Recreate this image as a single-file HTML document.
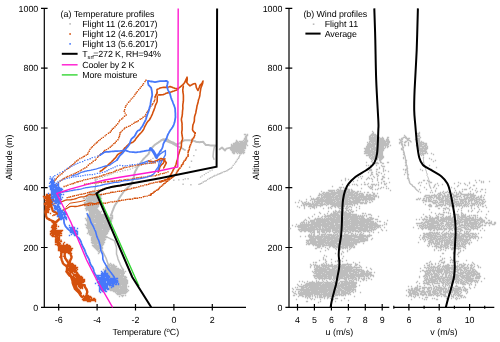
<!DOCTYPE html>
<html><head><meta charset="utf-8"><style>
html,body{margin:0;padding:0;background:#fff;width:500px;height:342px;overflow:hidden}
svg{display:block} text{text-rendering:geometricPrecision} svg{will-change:transform}
</style></head><body>
<svg width="500" height="342" viewBox="0 0 500 342">
<path d="M44.3 8.4V307.3 M41 307.3H246 M41 307.3H47.6 M41 247.5H47.6 M41 187.7H47.6 M41 128H47.6 M41 68.2H47.6 M41 8.4H47.6 M58.7 304V310.6 M97.1 304V310.6 M135.5 304V310.6 M173.9 304V310.6 M212.3 304V310.6" stroke="#000" stroke-width="1.2" fill="none"/>
<text x="38.3" y="310.5" text-anchor="end" font-family="'Liberation Sans', sans-serif" font-size="8.9">0</text>
<text x="38.3" y="250.7" text-anchor="end" font-family="'Liberation Sans', sans-serif" font-size="8.9">200</text>
<text x="38.3" y="190.9" text-anchor="end" font-family="'Liberation Sans', sans-serif" font-size="8.9">400</text>
<text x="38.3" y="131.2" text-anchor="end" font-family="'Liberation Sans', sans-serif" font-size="8.9">600</text>
<text x="38.3" y="71.4" text-anchor="end" font-family="'Liberation Sans', sans-serif" font-size="8.9">800</text>
<text x="38.3" y="11.6" text-anchor="end" font-family="'Liberation Sans', sans-serif" font-size="8.9">1000</text>
<text x="58.7" y="322.8" text-anchor="middle" font-family="'Liberation Sans', sans-serif" font-size="8.9">-6</text>
<text x="97.1" y="322.8" text-anchor="middle" font-family="'Liberation Sans', sans-serif" font-size="8.9">-4</text>
<text x="135.5" y="322.8" text-anchor="middle" font-family="'Liberation Sans', sans-serif" font-size="8.9">-2</text>
<text x="173.9" y="322.8" text-anchor="middle" font-family="'Liberation Sans', sans-serif" font-size="8.9">0</text>
<text x="212.3" y="322.8" text-anchor="middle" font-family="'Liberation Sans', sans-serif" font-size="8.9">2</text>
<text transform="translate(11.5 157.3) rotate(-90)" text-anchor="middle" font-family="'Liberation Sans', sans-serif" font-size="8.9">Altitude (m)</text>
<text x="145.8" y="334.5" text-anchor="middle" font-family="'Liberation Sans', sans-serif" font-size="8.9" letter-spacing="-0.09">Temperature (<tspan font-size="6" dy="-3">o</tspan><tspan dy="3">C)</tspan></text>
<path d="M289.0 8.4V307.3 M285.4 307.3H389.3 M393.3 307.3H494.3 M285.4 307.3H292.3 M285.4 247.5H292.3 M285.4 187.7H292.3 M285.4 128H292.3 M285.4 68.2H292.3 M285.4 8.4H292.3 M297.5 304V310.6 M314.4 304V310.6 M331.4 304V310.6 M348.4 304V310.6 M365.3 304V310.6 M382.2 304V310.6 M393.8 305.8V308.8 M408.9 304V310.6 M424.1 305.8V308.8 M439.2 304V310.6 M454.4 305.8V308.8 M469.6 304V310.6 M484.7 305.8V308.8" stroke="#000" stroke-width="1.2" fill="none"/>
<text x="282.4" y="310.5" text-anchor="end" font-family="'Liberation Sans', sans-serif" font-size="8.9">0</text>
<text x="282.4" y="250.7" text-anchor="end" font-family="'Liberation Sans', sans-serif" font-size="8.9">200</text>
<text x="282.4" y="190.9" text-anchor="end" font-family="'Liberation Sans', sans-serif" font-size="8.9">400</text>
<text x="282.4" y="131.2" text-anchor="end" font-family="'Liberation Sans', sans-serif" font-size="8.9">600</text>
<text x="282.4" y="71.4" text-anchor="end" font-family="'Liberation Sans', sans-serif" font-size="8.9">800</text>
<text x="282.4" y="11.6" text-anchor="end" font-family="'Liberation Sans', sans-serif" font-size="8.9">1000</text>
<text x="297.5" y="322.8" text-anchor="middle" font-family="'Liberation Sans', sans-serif" font-size="8.9">4</text>
<text x="314.4" y="322.8" text-anchor="middle" font-family="'Liberation Sans', sans-serif" font-size="8.9">5</text>
<text x="331.4" y="322.8" text-anchor="middle" font-family="'Liberation Sans', sans-serif" font-size="8.9">6</text>
<text x="348.4" y="322.8" text-anchor="middle" font-family="'Liberation Sans', sans-serif" font-size="8.9">7</text>
<text x="365.3" y="322.8" text-anchor="middle" font-family="'Liberation Sans', sans-serif" font-size="8.9">8</text>
<text x="382.2" y="322.8" text-anchor="middle" font-family="'Liberation Sans', sans-serif" font-size="8.9">9</text>
<text x="408.9" y="322.8" text-anchor="middle" font-family="'Liberation Sans', sans-serif" font-size="8.9">6</text>
<text x="439.2" y="322.8" text-anchor="middle" font-family="'Liberation Sans', sans-serif" font-size="8.9">8</text>
<text x="469.6" y="322.8" text-anchor="middle" font-family="'Liberation Sans', sans-serif" font-size="8.9">10</text>
<text transform="translate(258.6 157.3) rotate(-90)" text-anchor="middle" font-family="'Liberation Sans', sans-serif" font-size="8.9">Altitude (m)</text>
<text x="339.4" y="334.5" text-anchor="middle" font-family="'Liberation Sans', sans-serif" font-size="8.9">u (m/s)</text>
<text x="443.9" y="334.5" text-anchor="middle" font-family="'Liberation Sans', sans-serif" font-size="8.9">v (m/s)</text>
<path d="M93.8 190.8h1.4v1.4h-1.4zM89.8 191.8h7.4v1.4h-7.4zM88.8 192.8h10.4v1.4h-10.4zM87.8 193.8h14.4v1.4h-14.4zM86.8 194.8h1.4v1.4h-1.4zM89.8 194.8h12.4v1.4h-12.4zM85.8 195.8h15.4v1.4h-15.4zM85.8 196.8h1.4v1.4h-1.4zM87.8 196.8h13.4v1.4h-13.4zM82.8 197.8h2.4v1.4h-2.4zM85.8 197.8h16.4v1.4h-16.4zM84.8 198.8h1.4v1.4h-1.4zM86.8 198.8h12.4v1.4h-12.4zM85.8 199.8h13.4v1.4h-13.4zM85.8 200.8h6.4v1.4h-6.4zM92.8 200.8h5.4v1.4h-5.4zM83.8 201.8h2.4v1.4h-2.4zM86.8 201.8h12.4v1.4h-12.4zM83.8 202.8h15.4v1.4h-15.4zM85.8 203.8h13.4v1.4h-13.4zM84.8 204.8h14.4v1.4h-14.4zM85.8 205.8h13.4v1.4h-13.4zM85.8 206.8h12.4v1.4h-12.4zM84.8 207.8h12.4v1.4h-12.4zM85.8 208.8h12.4v1.4h-12.4zM85.8 209.8h1.4v1.4h-1.4zM87.8 209.8h11.4v1.4h-11.4zM88.8 210.8h11.4v1.4h-11.4zM100.8 210.8h1.4v1.4h-1.4zM88.8 211.8h12.4v1.4h-12.4zM88.8 212.8h12.4v1.4h-12.4zM87.8 213.8h7.4v1.4h-7.4zM95.8 213.8h10.4v1.4h-10.4zM86.8 214.8h21.4v1.4h-21.4zM110.8 214.8h2.4v1.4h-2.4zM86.8 215.8h21.4v1.4h-21.4zM111.8 215.8h1.4v1.4h-1.4zM86.8 216.8h26.4v1.4h-26.4zM84.8 217.8h1.4v1.4h-1.4zM86.8 217.8h7.4v1.4h-7.4zM94.8 217.8h18.4v1.4h-18.4zM85.8 218.8h18.4v1.4h-18.4zM104.8 218.8h4.4v1.4h-4.4zM109.8 218.8h2.4v1.4h-2.4zM85.8 219.8h26.4v1.4h-26.4zM86.8 220.8h25.4v1.4h-25.4zM86.8 221.8h24.4v1.4h-24.4zM86.8 222.8h7.4v1.4h-7.4zM95.8 222.8h7.4v1.4h-7.4zM103.8 222.8h7.4v1.4h-7.4zM84.8 223.8h1.4v1.4h-1.4zM86.8 223.8h24.4v1.4h-24.4zM85.8 224.8h24.4v1.4h-24.4zM86.8 225.8h23.4v1.4h-23.4zM85.8 226.8h8.4v1.4h-8.4zM94.8 226.8h15.4v1.4h-15.4zM86.8 227.8h23.4v1.4h-23.4zM87.8 228.8h1.4v1.4h-1.4zM89.8 228.8h5.4v1.4h-5.4zM95.8 228.8h6.4v1.4h-6.4zM102.8 228.8h7.4v1.4h-7.4zM87.8 229.8h21.4v1.4h-21.4zM87.8 230.8h21.4v1.4h-21.4zM87.8 231.8h20.4v1.4h-20.4zM86.8 232.8h1.4v1.4h-1.4zM88.8 232.8h19.4v1.4h-19.4zM88.8 233.8h18.4v1.4h-18.4zM89.8 234.8h16.4v1.4h-16.4zM91.8 235.8h14.4v1.4h-14.4zM90.8 236.8h16.4v1.4h-16.4zM90.8 237.8h14.4v1.4h-14.4zM90.8 238.8h15.4v1.4h-15.4zM90.8 239.8h14.4v1.4h-14.4zM91.8 240.8h12.4v1.4h-12.4zM90.8 241.8h14.4v1.4h-14.4zM91.8 242.8h12.4v1.4h-12.4zM93.8 243.8h3.4v1.4h-3.4zM97.8 243.8h6.4v1.4h-6.4zM91.8 244.8h11.4v1.4h-11.4zM92.8 245.8h9.4v1.4h-9.4zM93.8 246.8h9.4v1.4h-9.4zM94.8 247.8h8.4v1.4h-8.4zM95.8 248.8h3.4v1.4h-3.4zM99.8 248.8h1.4v1.4h-1.4zM96.8 249.8h1.4v1.4h-1.4zM98.8 249.8h3.4v1.4h-3.4zM97.8 250.8h2.4v1.4h-2.4zM98.8 251.8h1.4v1.4h-1.4zM97.8 252.8h1.4v1.4h-1.4zM109.8 262.8h1.4v1.4h-1.4zM107.8 263.8h2.4v1.4h-2.4zM110.8 263.8h1.4v1.4h-1.4zM112.8 263.8h1.4v1.4h-1.4zM105.8 264.8h9.4v1.4h-9.4zM105.8 265.8h4.4v1.4h-4.4zM110.8 265.8h6.4v1.4h-6.4zM104.8 266.8h11.4v1.4h-11.4zM104.8 267.8h14.4v1.4h-14.4zM121.8 267.8h1.4v1.4h-1.4zM102.8 268.8h1.4v1.4h-1.4zM104.8 268.8h16.4v1.4h-16.4zM122.8 268.8h1.4v1.4h-1.4zM103.8 269.8h19.4v1.4h-19.4zM103.8 270.8h20.4v1.4h-20.4zM124.8 270.8h1.4v1.4h-1.4zM103.8 271.8h20.4v1.4h-20.4zM104.8 272.8h19.4v1.4h-19.4zM103.8 273.8h1.4v1.4h-1.4zM105.8 273.8h14.4v1.4h-14.4zM120.8 273.8h3.4v1.4h-3.4zM106.8 274.8h17.4v1.4h-17.4zM105.8 275.8h20.4v1.4h-20.4zM105.8 276.8h2.4v1.4h-2.4zM108.8 276.8h14.4v1.4h-14.4zM123.8 276.8h3.4v1.4h-3.4zM104.8 277.8h21.4v1.4h-21.4zM104.8 278.8h22.4v1.4h-22.4zM105.8 279.8h22.4v1.4h-22.4zM106.8 280.8h1.4v1.4h-1.4zM108.8 280.8h4.4v1.4h-4.4zM114.8 280.8h13.4v1.4h-13.4zM106.8 281.8h5.4v1.4h-5.4zM112.8 281.8h15.4v1.4h-15.4zM106.8 282.8h10.4v1.4h-10.4zM117.8 282.8h10.4v1.4h-10.4zM106.8 283.8h20.4v1.4h-20.4zM106.8 284.8h1.4v1.4h-1.4zM108.8 284.8h1.4v1.4h-1.4zM110.8 284.8h10.4v1.4h-10.4zM121.8 284.8h5.4v1.4h-5.4zM108.8 285.8h18.4v1.4h-18.4zM127.8 285.8h1.4v1.4h-1.4zM108.8 286.8h18.4v1.4h-18.4zM108.8 287.8h10.4v1.4h-10.4zM119.8 287.8h7.4v1.4h-7.4zM108.8 288.8h19.4v1.4h-19.4zM109.8 289.8h17.4v1.4h-17.4zM127.8 289.8h1.4v1.4h-1.4zM112.8 290.8h15.4v1.4h-15.4zM114.8 291.8h1.4v1.4h-1.4zM116.8 291.8h10.4v1.4h-10.4zM115.8 292.8h10.4v1.4h-10.4zM116.8 293.8h4.4v1.4h-4.4zM120.8 294.8h3.4v1.4h-3.4zM124.8 294.8h1.4v1.4h-1.4zM118.8 295.8h1.4v1.4h-1.4zM121.8 295.8h1.4v1.4h-1.4z" fill="#bdbdbd"/>
<polyline points="100,247 103,252 106,258 108,264" stroke="#bdbdbd" stroke-width="1.6" fill="none" stroke-linejoin="round" stroke-linecap="round"/>
<polyline points="105.4,236.2 106.5,236.8 107.6,237.3 108.7,237.9 109.8,238.4 110.9,239 112.1,239.5 113.3,240.1 114.5,240.8 114.9,242.1 115.3,243.3 115.6,244.5 116,245.7 116.4,246.9 116.5,248.1 116.5,249.3 116.5,250.6 116.5,251.8 116.5,253 116.5,254.2 117,255.3 117.4,256.5 117.7,257.7 118,259 118.4,260.2 118.9,261.2 119.3,262.2 119.8,263.2 120.2,264.3 120.7,265.3 121.2,266.3 121.7,267.3 122.3,268.5 122.8,269.6 123.3,270.9 123.8,272.1 124.3,273.3" stroke="#bdbdbd" stroke-width="1.5" fill="none" stroke-linejoin="round" stroke-linecap="round"/>
<polyline points="95.8,177.5 95.8,183.5 95,190" stroke="#bdbdbd" stroke-width="1.3" fill="none" stroke-linejoin="round" stroke-linecap="round"/>
<polyline points="110.8,215.5 111.3,214.3 111.8,213.1 112.2,211.8 112.7,210.6 113.2,209.4 113.6,208.3 114,207.3 114.4,206.3 115,205.3 115.6,204.3 116.2,203.4 116.9,202.5 117.5,201.4 118.1,200.4 118.7,199.3 119.2,198.3 119.8,197.3 120.5,196.3 121.2,195.3 121.9,194.3 122.6,193.3 123.2,192.2 124.1,191.2 125,190.3 125.9,189.3 126.8,188.4 127.8,187.5 128.7,186.7 129.7,185.8 130.7,185 131.3,183.9 131.9,182.7 132.3,181.5 132.8,180.3 133.2,179.1 133.6,177.9 133.8,176.8 134.1,175.6 134.3,174.4 134.6,173.2 135,172.1 135.4,171 136.1,169.9 136.7,168.8 137.3,167.6 137.9,166.5 138.5,165.3 139.3,164.4 140.1,163.5 140.8,162.5 141.5,161.5 142.3,160.5 143.1,159.5 143.8,158.7 144.6,157.9 145.4,157.1 146.2,156.2 147.1,155.4 147.9,154.6 148.7,153.8 149,152.7 149.5,151.7 149.9,150.7 150.3,149.7 151.1,148.8 151.9,147.9 152.7,147 153.5,146.1 154.4,145.2 155.3,144.4 156.3,143.9 157.2,143.2 158.2,142.6 159.1,141.9 160,141.3 160.9,140.6 161.8,139.9 163,139.7 164.3,139.5 165.6,139.3 166.9,139.1 167.9,139.8 168.8,140.5 169.8,141.1 170.8,141.7 171.9,142.1 173,142.5 174,143 175,143.6 176,144.3 177.3,144 178.7,143.6 180,143.1 180.9,142.4 181.8,141.7 182.8,141.1 183.8,140.6 184.9,140.2 186.1,140.2 187.3,140.2 188.4,140.3 189.5,140.3 190.6,140.4 191.8,140.4 192.9,140.4 193.9,140.9 195,141.3 196,141.7 197.1,142 198.3,142.1 199.4,142.3 200.7,142 201.9,141.9 203.2,141.7 203.8,142.6 204.4,143.4 205.1,144.2 205.8,145 207.1,145 208.4,145.1 209.7,145.3 211,145.4 212.3,145.5 213.5,145.5 214.8,145.5 216,145.7" stroke="#bdbdbd" stroke-width="2.0" fill="none" stroke-linejoin="round" stroke-linecap="round"/>
<polyline points="163.1,139.3 164.3,139.9 165.5,140.5 166.7,141.2 167.9,141.7 169,142.2 170.2,142.6 171.3,143 172.4,143.5 173.5,144.2 174.5,144.7 175.5,145.3 176.5,145.9 177.6,146.3 178.7,146.6 179.8,147 180.9,147.6 181.9,148.2 182.9,148.8 184,149.5 185,150.1" stroke="#bdbdbd" stroke-width="1.8" fill="none" stroke-linejoin="round" stroke-linecap="round"/>
<path d="M94.3 179.5h1.3v1.3h-1.3zM96.6 178.6h1.3v1.3h-1.3zM99.2 177.6h1.3v1.3h-1.3zM101.9 176.8h1.3v1.3h-1.3zM104.1 175.7h1.3v1.3h-1.3zM106.6 175h1.3v1.3h-1.3zM108.3 174.1h1.3v1.3h-1.3zM110.4 173.5h1.3v1.3h-1.3zM112.4 172.4h1.3v1.3h-1.3zM114.4 171.7h1.3v1.3h-1.3zM116.7 171.4h1.3v1.3h-1.3zM119.6 170.9h1.3v1.3h-1.3zM122.1 170.3h1.3v1.3h-1.3zM124.5 169.7h1.3v1.3h-1.3zM127 169.2h1.3v1.3h-1.3zM129.6 168.5h1.3v1.3h-1.3zM132 167.5h1.3v1.3h-1.3zM134.5 166.8h1.3v1.3h-1.3zM136.3 165.9h1.3v1.3h-1.3zM138.5 165.2h1.3v1.3h-1.3zM140.5 164.2h1.3v1.3h-1.3zM142.2 163.1h1.3v1.3h-1.3zM144.4 162.2h1.3v1.3h-1.3zM146.3 161h1.3v1.3h-1.3zM148.2 160.1h1.3v1.3h-1.3zM150.2 158.9h1.3v1.3h-1.3zM152.3 157.7h1.3v1.3h-1.3zM154.3 156.2h1.3v1.3h-1.3zM156 154.9h1.3v1.3h-1.3zM157.8 153.8h1.3v1.3h-1.3zM159.4 152.8h1.3v1.3h-1.3zM161.3 151.1h1.3v1.3h-1.3z" fill="#bdbdbd"/>
<polyline points="214.5,146 213.5,151.3 213,156.6 214,159.2" stroke="#bdbdbd" stroke-width="1.5" fill="none" stroke-linejoin="round" stroke-linecap="round"/>
<polyline points="219.7,149.3 222,147.5 225,150.5 226.3,148.7 231.6,147.4 234,146" stroke="#bdbdbd" stroke-width="1.9" fill="none" stroke-linejoin="round" stroke-linecap="round"/>
<path d="M243.8 133.8h2.4v1.4h-2.4zM246.8 133.8h1.4v1.4h-1.4zM245.8 134.8h2.4v1.4h-2.4zM244.8 135.8h2.4v1.4h-2.4zM244.8 136.8h2.4v1.4h-2.4zM243.8 137.8h3.4v1.4h-3.4zM243.8 138.8h3.4v1.4h-3.4zM235.8 139.8h1.4v1.4h-1.4zM242.8 139.8h1.4v1.4h-1.4zM244.8 139.8h3.4v1.4h-3.4zM235.8 140.8h2.4v1.4h-2.4zM238.8 140.8h4.4v1.4h-4.4zM243.8 140.8h4.4v1.4h-4.4zM234.8 141.8h4.4v1.4h-4.4zM239.8 141.8h7.4v1.4h-7.4zM232.8 142.8h14.4v1.4h-14.4zM230.8 143.8h1.4v1.4h-1.4zM232.8 143.8h14.4v1.4h-14.4zM230.8 144.8h15.4v1.4h-15.4zM246.8 144.8h1.4v1.4h-1.4zM230.8 145.8h15.4v1.4h-15.4zM230.8 146.8h15.4v1.4h-15.4zM229.8 147.8h16.4v1.4h-16.4zM229.8 148.8h14.4v1.4h-14.4zM230.8 149.8h14.4v1.4h-14.4zM231.8 150.8h12.4v1.4h-12.4zM231.8 151.8h3.4v1.4h-3.4zM235.8 151.8h1.4v1.4h-1.4zM237.8 151.8h7.4v1.4h-7.4zM232.8 152.8h2.4v1.4h-2.4zM236.8 152.8h1.4v1.4h-1.4zM238.8 152.8h1.4v1.4h-1.4zM240.8 152.8h1.4v1.4h-1.4zM242.8 152.8h1.4v1.4h-1.4z" fill="#bdbdbd"/>
<path d="M240.7 151.7h1.4v1.4h-1.4zM239.9 153h1.4v1.4h-1.4zM239.1 154.7h1.4v1.4h-1.4zM238.5 156.1h1.4v1.4h-1.4zM237.8 157.5h1.4v1.4h-1.4zM236.7 158.8h1.4v1.4h-1.4zM235.8 160.4h1.4v1.4h-1.4zM234.9 161.6h1.4v1.4h-1.4zM233.9 163.2h1.4v1.4h-1.4zM232.5 164.7h1.4v1.4h-1.4zM231.5 166.4h1.4v1.4h-1.4zM230.5 167.6h1.4v1.4h-1.4zM228.9 168.3h1.4v1.4h-1.4zM227.5 169.1h1.4v1.4h-1.4zM226.2 170h1.4v1.4h-1.4zM224.7 170.7h1.4v1.4h-1.4zM223.3 171.1h1.4v1.4h-1.4zM221.5 171.8h1.4v1.4h-1.4zM220.1 172.5h1.4v1.4h-1.4zM218.9 173.1h1.4v1.4h-1.4zM217.3 173.6h1.4v1.4h-1.4zM216 174.4h1.4v1.4h-1.4zM214.3 174.8h1.4v1.4h-1.4zM213.1 175.6h1.4v1.4h-1.4zM211.6 176.3h1.4v1.4h-1.4zM210 177.1h1.4v1.4h-1.4zM208.7 177.8h1.4v1.4h-1.4zM206.9 178.7h1.4v1.4h-1.4zM205.7 179.9h1.4v1.4h-1.4zM204.2 180.6h1.4v1.4h-1.4zM202.6 181.3h1.4v1.4h-1.4zM201 182.5h1.4v1.4h-1.4zM199.6 183.1h1.4v1.4h-1.4zM198.2 183.7h1.4v1.4h-1.4z" fill="#bdbdbd"/>
<path d="M211.5 169.5h1.3v1.3h-1.3zM209.4 170.3h1.3v1.3h-1.3zM207.5 171.7h1.3v1.3h-1.3zM205.4 172.7h1.3v1.3h-1.3zM203.7 173.9h1.3v1.3h-1.3zM201.5 175.2h1.3v1.3h-1.3zM199.9 176.5h1.3v1.3h-1.3z" fill="#bdbdbd"/>
<path d="M160.3 181.4h1.4v1.4h-1.4zM168.5 179.3h1.4v1.4h-1.4zM173.1 179.5h1.4v1.4h-1.4zM178.1 179.2h1.4v1.4h-1.4zM182.6 178.9h1.4v1.4h-1.4zM187.4 178.1h1.4v1.4h-1.4zM190.2 184h1.4v1.4h-1.4zM182.4 183.6h1.4v1.4h-1.4zM184.6 178.2h1.4v1.4h-1.4zM186.6 172.1h1.4v1.4h-1.4zM188.9 166.5h1.4v1.4h-1.4zM190.8 160.6h1.4v1.4h-1.4zM193.1 154.9h1.4v1.4h-1.4zM195.2 149.3h1.4v1.4h-1.4z" fill="#bdbdbd"/>
<path d="M145.3 79.5h1.4v1.4h-1.4zM144.3 80.9h1.4v1.4h-1.4zM142.8 82.9h1.4v1.4h-1.4zM141.9 84.5h1.4v1.4h-1.4zM140.6 85.9h1.4v1.4h-1.4zM139.4 87.5h1.4v1.4h-1.4zM137.9 89h1.4v1.4h-1.4zM136.6 90.9h1.4v1.4h-1.4zM135.5 92.3h1.4v1.4h-1.4zM134.3 93.8h1.4v1.4h-1.4zM133.2 95.7h1.4v1.4h-1.4zM131.9 97.2h1.4v1.4h-1.4zM130.5 98.4h1.4v1.4h-1.4zM129.4 100.2h1.4v1.4h-1.4zM127.9 101.6h1.4v1.4h-1.4zM126.5 103.4h1.4v1.4h-1.4zM125.3 105h1.4v1.4h-1.4zM124.6 106.7h1.4v1.4h-1.4zM124 108.9h1.4v1.4h-1.4zM123.5 110.6h1.4v1.4h-1.4zM124.4 112.4h1.4v1.4h-1.4zM125.5 114.3h1.4v1.4h-1.4zM123.8 115.5h1.4v1.4h-1.4zM122.2 117.2h1.4v1.4h-1.4zM121 118.3h1.4v1.4h-1.4zM119.1 119.6h1.4v1.4h-1.4zM118.3 121.1h1.4v1.4h-1.4zM117 123h1.4v1.4h-1.4zM115.6 124.5h1.4v1.4h-1.4zM114.3 126.1h1.4v1.4h-1.4zM112.8 127.6h1.4v1.4h-1.4zM111.6 128.6h1.4v1.4h-1.4zM110.6 130.1h1.4v1.4h-1.4zM109.5 131.5h1.4v1.4h-1.4zM107.8 132.5h1.4v1.4h-1.4zM105.7 133.9h1.4v1.4h-1.4zM104.4 135.2h1.4v1.4h-1.4zM102.6 136.7h1.4v1.4h-1.4zM100.8 137.7h1.4v1.4h-1.4zM99.5 138.9h1.4v1.4h-1.4zM98 139.9h1.4v1.4h-1.4zM96.7 141.3h1.4v1.4h-1.4zM95.7 142.3h1.4v1.4h-1.4zM94.2 143.4h1.4v1.4h-1.4zM93 144.7h1.4v1.4h-1.4zM91.7 146.1h1.4v1.4h-1.4zM90.6 147.2h1.4v1.4h-1.4zM89.3 148.7h1.4v1.4h-1.4zM88.5 150.5h1.4v1.4h-1.4zM87.4 152.2h1.4v1.4h-1.4zM86.9 153.7h1.4v1.4h-1.4zM85.5 154.4h1.4v1.4h-1.4zM83.7 155.5h1.4v1.4h-1.4zM82.5 156.2h1.4v1.4h-1.4zM81 157.2h1.4v1.4h-1.4zM79.1 157.8h1.4v1.4h-1.4zM77.4 159.3h1.4v1.4h-1.4zM75.9 160.3h1.4v1.4h-1.4zM74.3 161.5h1.4v1.4h-1.4zM73.3 163h1.4v1.4h-1.4zM71.8 163.9h1.4v1.4h-1.4zM70.5 165.1h1.4v1.4h-1.4zM69.2 166.3h1.4v1.4h-1.4zM67.9 167.6h1.4v1.4h-1.4zM66.1 168.7h1.4v1.4h-1.4zM64.1 170.2h1.4v1.4h-1.4zM62.4 171.6h1.4v1.4h-1.4zM61.2 173.1h1.4v1.4h-1.4zM59.5 174.2h1.4v1.4h-1.4zM57.9 175.3h1.4v1.4h-1.4zM56.7 176.6h1.4v1.4h-1.4zM55.6 178h1.4v1.4h-1.4zM54.4 179.3h1.4v1.4h-1.4zM53.3 180.5h1.4v1.4h-1.4zM52.4 182.1h1.4v1.4h-1.4zM51.4 183.3h1.4v1.4h-1.4z" fill="#d4500c"/>
<path d="M156.3 92.2h1.4v1.4h-1.4zM155.1 94.4h1.4v1.4h-1.4zM154.5 96.4h1.4v1.4h-1.4zM154.2 98.4h1.4v1.4h-1.4zM153.8 99.9h1.4v1.4h-1.4zM153.3 101.1h1.4v1.4h-1.4zM152.2 102.9h1.4v1.4h-1.4zM151.5 104.1h1.4v1.4h-1.4zM150.1 105.7h1.4v1.4h-1.4zM149.2 107.2h1.4v1.4h-1.4zM148.1 108.9h1.4v1.4h-1.4zM147.2 110.5h1.4v1.4h-1.4zM146.2 111.7h1.4v1.4h-1.4zM145.1 113.8h1.4v1.4h-1.4zM144.3 115.5h1.4v1.4h-1.4zM142.4 116.5h1.4v1.4h-1.4zM141.1 117.9h1.4v1.4h-1.4zM139.5 118.6h1.4v1.4h-1.4zM137.6 120h1.4v1.4h-1.4zM136.1 121h1.4v1.4h-1.4zM134.4 121.6h1.4v1.4h-1.4zM133.1 122.7h1.4v1.4h-1.4zM131.3 123.7h1.4v1.4h-1.4zM129.6 124.9h1.4v1.4h-1.4zM128 125.7h1.4v1.4h-1.4zM125.9 126.6h1.4v1.4h-1.4zM124.1 127.3h1.4v1.4h-1.4zM123.3 128.4h1.4v1.4h-1.4zM121.7 129.8h1.4v1.4h-1.4zM120.4 131.2h1.4v1.4h-1.4zM119.4 132.1h1.4v1.4h-1.4zM119.2 133.8h1.4v1.4h-1.4zM118.7 135.6h1.4v1.4h-1.4zM118.1 137.1h1.4v1.4h-1.4zM117.2 139h1.4v1.4h-1.4zM115.6 140.5h1.4v1.4h-1.4zM114.5 142.1h1.4v1.4h-1.4zM113.1 142.9h1.4v1.4h-1.4zM111.8 144.4h1.4v1.4h-1.4zM110.7 145.4h1.4v1.4h-1.4zM109.5 146.5h1.4v1.4h-1.4zM107.7 147.8h1.4v1.4h-1.4zM105.8 148.9h1.4v1.4h-1.4zM104.1 149.8h1.4v1.4h-1.4zM103.1 150.7h1.4v1.4h-1.4zM102 152h1.4v1.4h-1.4zM100.4 153.1h1.4v1.4h-1.4zM99.3 154.3h1.4v1.4h-1.4zM97.8 155.4h1.4v1.4h-1.4zM96.9 156.7h1.4v1.4h-1.4zM95.4 158.4h1.4v1.4h-1.4zM94.5 159.7h1.4v1.4h-1.4zM92.5 160.5h1.4v1.4h-1.4zM91.1 162h1.4v1.4h-1.4zM89.2 163h1.4v1.4h-1.4zM87.6 164.5h1.4v1.4h-1.4zM86 166.3h1.4v1.4h-1.4zM84.2 167.3h1.4v1.4h-1.4zM82.7 168.2h1.4v1.4h-1.4zM80.8 169.3h1.4v1.4h-1.4zM79.5 170.2h1.4v1.4h-1.4zM77.5 171.1h1.4v1.4h-1.4zM75.8 171.9h1.4v1.4h-1.4zM74.4 172.7h1.4v1.4h-1.4zM72.7 173.4h1.4v1.4h-1.4zM70.6 174.3h1.4v1.4h-1.4zM69 175.2h1.4v1.4h-1.4zM67.1 175.8h1.4v1.4h-1.4zM65.7 176.5h1.4v1.4h-1.4zM63.8 177.5h1.4v1.4h-1.4zM62.4 178.3h1.4v1.4h-1.4zM60.8 179.4h1.4v1.4h-1.4zM59.4 180.4h1.4v1.4h-1.4zM57.8 181.9h1.4v1.4h-1.4zM56.7 183.7h1.4v1.4h-1.4zM55.5 185.1h1.4v1.4h-1.4z" fill="#d4500c"/>
<path d="M63.4 185.8h1.4v1.4h-1.4zM65.5 185.3h1.4v1.4h-1.4zM67.2 184.6h1.4v1.4h-1.4zM69.5 183.7h1.4v1.4h-1.4zM71.2 183.2h1.4v1.4h-1.4zM72.7 182.8h1.4v1.4h-1.4zM74.2 182h1.4v1.4h-1.4zM76.2 181.3h1.4v1.4h-1.4zM77.5 181h1.4v1.4h-1.4zM79.4 180.5h1.4v1.4h-1.4zM81.5 180h1.4v1.4h-1.4zM83.1 179.2h1.4v1.4h-1.4zM85.1 178.9h1.4v1.4h-1.4zM87.1 178.5h1.4v1.4h-1.4zM89.4 177.9h1.4v1.4h-1.4zM91.5 177.5h1.4v1.4h-1.4zM93.5 177h1.4v1.4h-1.4zM95.4 176.6h1.4v1.4h-1.4zM97.2 176.3h1.4v1.4h-1.4zM99.1 175.6h1.4v1.4h-1.4zM100.9 175.3h1.4v1.4h-1.4zM102.6 174.3h1.4v1.4h-1.4zM104.2 174h1.4v1.4h-1.4zM106.1 173.2h1.4v1.4h-1.4zM107.8 172.7h1.4v1.4h-1.4zM109.3 172.2h1.4v1.4h-1.4zM110.9 171.9h1.4v1.4h-1.4zM112.8 171.2h1.4v1.4h-1.4zM114.4 170.6h1.4v1.4h-1.4zM115.8 169.6h1.4v1.4h-1.4zM117.8 169.4h1.4v1.4h-1.4zM119.4 168.6h1.4v1.4h-1.4zM120.9 168.3h1.4v1.4h-1.4zM122.6 167.3h1.4v1.4h-1.4zM124.2 166.8h1.4v1.4h-1.4zM126.1 166.7h1.4v1.4h-1.4zM128.5 166.2h1.4v1.4h-1.4zM130.1 165.6h1.4v1.4h-1.4zM132.1 165.3h1.4v1.4h-1.4zM134.5 164.9h1.4v1.4h-1.4zM136.4 164.3h1.4v1.4h-1.4zM138.1 164h1.4v1.4h-1.4zM140.5 164.1h1.4v1.4h-1.4zM142.3 163.5h1.4v1.4h-1.4zM144.5 163.1h1.4v1.4h-1.4zM146.2 162.8h1.4v1.4h-1.4zM148.5 162.7h1.4v1.4h-1.4zM150.4 162.6h1.4v1.4h-1.4zM152.3 162.3h1.4v1.4h-1.4zM154.4 162h1.4v1.4h-1.4z" fill="#d4500c"/>
<path d="M66.5 196.9h1.4v1.4h-1.4zM68.3 196.5h1.4v1.4h-1.4zM69.9 196.1h1.4v1.4h-1.4zM72.1 195.5h1.4v1.4h-1.4zM73.7 195h1.4v1.4h-1.4zM75.8 194.7h1.4v1.4h-1.4zM77.5 194.3h1.4v1.4h-1.4zM79.4 193.7h1.4v1.4h-1.4zM81.1 193.5h1.4v1.4h-1.4zM83.2 193.1h1.4v1.4h-1.4zM84.8 192.7h1.4v1.4h-1.4zM86.9 192.1h1.4v1.4h-1.4zM88.6 191.6h1.4v1.4h-1.4zM90.3 191h1.4v1.4h-1.4zM92.3 190.5h1.4v1.4h-1.4zM94.1 190.4h1.4v1.4h-1.4zM96.4 189.9h1.4v1.4h-1.4zM98.2 189.4h1.4v1.4h-1.4zM100.5 188.9h1.4v1.4h-1.4zM102.2 188.3h1.4v1.4h-1.4zM104.2 187.7h1.4v1.4h-1.4zM106.1 187.6h1.4v1.4h-1.4zM108.4 187.2h1.4v1.4h-1.4zM110.1 186.5h1.4v1.4h-1.4zM112.3 186h1.4v1.4h-1.4zM114.2 185.8h1.4v1.4h-1.4zM116.3 185.7h1.4v1.4h-1.4zM118.3 185.3h1.4v1.4h-1.4zM120.3 185h1.4v1.4h-1.4zM122.2 184.4h1.4v1.4h-1.4zM124.5 184.4h1.4v1.4h-1.4z" fill="#d4500c"/>
<path d="M84.1 183.6h1.4v1.4h-1.4zM86 183.6h1.4v1.4h-1.4zM87.9 183.1h1.4v1.4h-1.4zM89.9 182.8h1.4v1.4h-1.4zM91.7 182.7h1.4v1.4h-1.4zM93.5 182.3h1.4v1.4h-1.4zM95.4 182.2h1.4v1.4h-1.4zM97.3 182h1.4v1.4h-1.4zM99.2 181.7h1.4v1.4h-1.4zM100.9 181.8h1.4v1.4h-1.4zM103.1 181.4h1.4v1.4h-1.4zM104.5 181.1h1.4v1.4h-1.4zM106.8 181.1h1.4v1.4h-1.4zM108.2 181.1h1.4v1.4h-1.4zM110.4 180.5h1.4v1.4h-1.4zM112 180.6h1.4v1.4h-1.4zM113.7 180.3h1.4v1.4h-1.4zM115.7 180.3h1.4v1.4h-1.4zM117.5 180h1.4v1.4h-1.4zM119.2 179.6h1.4v1.4h-1.4zM120.9 179.7h1.4v1.4h-1.4zM123.1 179.5h1.4v1.4h-1.4zM124.5 179.1h1.4v1.4h-1.4zM126.4 178.7h1.4v1.4h-1.4zM128.2 178.7h1.4v1.4h-1.4zM130.4 178.4h1.4v1.4h-1.4zM132 178.2h1.4v1.4h-1.4zM133.7 177.7h1.4v1.4h-1.4zM135.8 177.3h1.4v1.4h-1.4zM137.4 177h1.4v1.4h-1.4zM139.4 176.7h1.4v1.4h-1.4zM141 176.6h1.4v1.4h-1.4zM143.1 176.5h1.4v1.4h-1.4zM144.9 176.4h1.4v1.4h-1.4zM146.9 175.8h1.4v1.4h-1.4zM148.7 175.5h1.4v1.4h-1.4zM150.4 175.3h1.4v1.4h-1.4zM152.2 175.2h1.4v1.4h-1.4zM154.5 175.1h1.4v1.4h-1.4zM156 174.3h1.4v1.4h-1.4zM158.1 174h1.4v1.4h-1.4zM159.6 173.2h1.4v1.4h-1.4zM161.8 172.9h1.4v1.4h-1.4zM163.4 172.5h1.4v1.4h-1.4zM165.3 171.9h1.4v1.4h-1.4zM167.3 171.2h1.4v1.4h-1.4z" fill="#d4500c"/>
<path d="M99.5 193.9h1.4v1.4h-1.4zM101 193.7h1.4v1.4h-1.4zM103 193.6h1.4v1.4h-1.4zM104.7 193h1.4v1.4h-1.4zM106.4 192.7h1.4v1.4h-1.4zM108.3 192.5h1.4v1.4h-1.4zM110 191.8h1.4v1.4h-1.4zM111.6 191.6h1.4v1.4h-1.4zM113.2 191.5h1.4v1.4h-1.4zM115 191.2h1.4v1.4h-1.4zM116.9 190.7h1.4v1.4h-1.4zM118.7 190.6h1.4v1.4h-1.4zM120.6 190.5h1.4v1.4h-1.4zM122.3 189.9h1.4v1.4h-1.4zM124 189.7h1.4v1.4h-1.4zM125.9 189.2h1.4v1.4h-1.4zM127.3 188.6h1.4v1.4h-1.4zM129.2 188.4h1.4v1.4h-1.4zM130.8 187.8h1.4v1.4h-1.4zM132.7 187.3h1.4v1.4h-1.4zM134.3 187.1h1.4v1.4h-1.4zM136.1 186.7h1.4v1.4h-1.4zM138.2 186h1.4v1.4h-1.4zM140.1 185.3h1.4v1.4h-1.4zM142.3 185.1h1.4v1.4h-1.4zM144.2 184.2h1.4v1.4h-1.4zM146 184h1.4v1.4h-1.4zM147.9 183.6h1.4v1.4h-1.4zM149.4 182.8h1.4v1.4h-1.4zM151.3 182.5h1.4v1.4h-1.4zM153.1 182h1.4v1.4h-1.4zM155.2 181.6h1.4v1.4h-1.4zM156.8 181.4h1.4v1.4h-1.4zM158.6 180.8h1.4v1.4h-1.4zM160.5 180.2h1.4v1.4h-1.4zM161.8 180h1.4v1.4h-1.4zM163.7 179.2h1.4v1.4h-1.4zM165.2 178.7h1.4v1.4h-1.4zM167.1 178.1h1.4v1.4h-1.4zM168.8 177.7h1.4v1.4h-1.4zM170.5 176.8h1.4v1.4h-1.4zM172.5 176.2h1.4v1.4h-1.4z" fill="#d4500c"/>
<path d="M84.2 204.8h1.4v1.4h-1.4zM86.4 204.4h1.4v1.4h-1.4zM87.9 204.5h1.4v1.4h-1.4zM89.7 204.1h1.4v1.4h-1.4zM91.9 204h1.4v1.4h-1.4zM93.8 203.5h1.4v1.4h-1.4zM95.7 203.4h1.4v1.4h-1.4zM97.5 203.2h1.4v1.4h-1.4zM99.5 203h1.4v1.4h-1.4zM101 202.6h1.4v1.4h-1.4zM103 202.4h1.4v1.4h-1.4zM104.7 202.5h1.4v1.4h-1.4zM106.7 202.2h1.4v1.4h-1.4zM108.3 201.7h1.4v1.4h-1.4zM110.3 201.2h1.4v1.4h-1.4zM112.1 201.3h1.4v1.4h-1.4zM114.1 200.8h1.4v1.4h-1.4zM115.9 200.7h1.4v1.4h-1.4zM117.9 200.2h1.4v1.4h-1.4zM119.2 200.1h1.4v1.4h-1.4zM121 199.5h1.4v1.4h-1.4zM122.8 199.4h1.4v1.4h-1.4zM124.8 199.1h1.4v1.4h-1.4zM126.5 198.7h1.4v1.4h-1.4zM128.4 198.6h1.4v1.4h-1.4zM129.9 198.5h1.4v1.4h-1.4zM131.9 198.3h1.4v1.4h-1.4zM133.7 197.6h1.4v1.4h-1.4zM135.1 197.6h1.4v1.4h-1.4zM136.8 197.5h1.4v1.4h-1.4zM138.8 196.9h1.4v1.4h-1.4zM140.6 196.9h1.4v1.4h-1.4zM142.7 196.1h1.4v1.4h-1.4zM144.3 195.7h1.4v1.4h-1.4zM146.4 195.4h1.4v1.4h-1.4zM148.2 194.7h1.4v1.4h-1.4zM150.5 194.1h1.4v1.4h-1.4z" fill="#d4500c"/>
<path d="M194.3 132.3h1.6v1.6h-1.6zM193.9 134.3h1.6v1.6h-1.6zM193.5 135.9h1.6v1.6h-1.6zM192.8 137.1h1.6v1.6h-1.6zM191.7 138.3h1.6v1.6h-1.6zM191.1 139.6h1.6v1.6h-1.6zM191.1 140.8h1.6v1.6h-1.6zM190.4 142.2h1.6v1.6h-1.6zM189.8 144h1.6v1.6h-1.6zM189 145.6h1.6v1.6h-1.6zM188.7 147h1.6v1.6h-1.6zM188.4 148.8h1.6v1.6h-1.6zM187.6 150.1h1.6v1.6h-1.6zM187.3 151.8h1.6v1.6h-1.6zM187.3 153.9h1.6v1.6h-1.6zM187.2 155.4h1.6v1.6h-1.6zM185.8 156.7h1.6v1.6h-1.6zM185.3 157.9h1.6v1.6h-1.6zM184.5 159.3h1.6v1.6h-1.6zM183.2 160.4h1.6v1.6h-1.6zM182.5 161.9h1.6v1.6h-1.6zM182 163.4h1.6v1.6h-1.6zM180.9 164.2h1.6v1.6h-1.6zM180.5 165.6h1.6v1.6h-1.6zM179.1 167.3h1.6v1.6h-1.6zM178 168.5h1.6v1.6h-1.6zM177.4 169.6h1.6v1.6h-1.6zM176.5 170.6h1.6v1.6h-1.6zM175.8 172.2h1.6v1.6h-1.6zM175.1 173.4h1.6v1.6h-1.6zM174 174.5h1.6v1.6h-1.6zM173 175.3h1.6v1.6h-1.6zM171.5 176.3h1.6v1.6h-1.6zM170.6 177.3h1.6v1.6h-1.6zM169.1 178.4h1.6v1.6h-1.6zM168 178.9h1.6v1.6h-1.6zM166.7 180.3h1.6v1.6h-1.6zM165.4 181.1h1.6v1.6h-1.6zM164.2 182.4h1.6v1.6h-1.6zM163.1 183h1.6v1.6h-1.6zM161.9 184.2h1.6v1.6h-1.6zM160.7 185.5h1.6v1.6h-1.6zM159.2 186.5h1.6v1.6h-1.6zM158.3 187.7h1.6v1.6h-1.6zM157.4 188.7h1.6v1.6h-1.6zM155.9 189.5h1.6v1.6h-1.6zM154.4 190.5h1.6v1.6h-1.6zM153.2 191.3h1.6v1.6h-1.6zM152 192.4h1.6v1.6h-1.6zM150.4 193.1h1.6v1.6h-1.6zM149.4 194.4h1.6v1.6h-1.6z" fill="#d4500c"/>
<polyline points="157.3,96.2 157.3,97.4 157.2,98.5 157.2,99.7 157.2,100.8 157,102 156.5,103.1 155.9,104.3 155.4,105.4 155.1,106.6 154.8,107.8 154.3,109 153.9,110.2 153.4,111.3 152.9,112.5 152.5,113.7 152,114.9 151.5,115.9 151,117 150.5,118 149.9,119 149.3,120 148.4,120.8 147.6,121.7 147,122.6 146.4,123.6 145.9,124.7 145.3,125.7 144.8,126.7 144.3,127.7 143.9,128.8 143.2,130 142.5,131 141.7,132 140.8,133 139.9,133.9 139.1,134.7 138.4,135.6 137.7,136.4 137,137.3 136.3,138.1 135.6,139.1 135.1,140.1 134.2,141 133.3,141.9 132.2,142.6 130.9,143.1 129.7,143.7 128.6,144.3 127.7,145.2 126.8,146.1 125.9,147 124.9,147.8 124.2,148.8 123.5,149.8 122.8,150.9 122.1,151.8 121.1,152.6 120,153.2 118.9,153.8 118,154.4 117.2,155.3 116.5,156.3 115.9,157.2 115.1,158.1 114.3,158.9 113.5,159.8 112.6,160.6 111.8,161.5 111,162.3 110.1,163.1 109.2,163.9 108.4,164.7 107.5,165.5 106.7,166.3 105.8,167.1 104.9,167.9 104,168.6 103.1,169.3 102.2,170.1 101.2,170.8 100.2,171.3" stroke="#d4500c" stroke-width="1.6" fill="none" stroke-linejoin="round" stroke-linecap="round"/>
<polyline points="155,97 155.5,96 156,95 156.5,94 157.1,93 157.1,91.8 157,90.7 157,89.5 158,89.1 159,88.6 160,88 161.2,87.7 162.4,87.5 163.7,87.4 165,87.4 166.3,87.4 167.5,87.3 168.8,87 170,86.6 171.2,86.9 172.2,87.2 173.2,87.7 174.2,88.1 175.1,88.5 176.5,88.5 177.9,88.7 178.7,88.1 179.7,87.4 180.6,86.6 181.5,85.8 182.4,85 183.4,84.2 184.1,83.3 184.8,82.3 185.3,81.2 185.7,80.2 186.2,79.2 186.6,78.3 187.1,77.2 187.2,78.6 187.2,79.9 187,81.2 186.7,82.3 187.4,83.3 188.2,84.3 189.2,85.1 190,85.9 190.9,85.3 191.8,84.8 192.8,84.2 193.8,83.8 195.3,83.5 195.9,85 196.1,86.2 196.3,87.4 196.8,88.4 197.4,89.5 198,90.5 198.4,89.5 198.8,88.5 199.2,87.5 199.6,86.4 200,85.4 201,84.3 202,83.2 202.5,82.1 203,81 202.8,82.3 202.6,83.5 202.2,84.7 201.7,85.9 201.3,87 200.9,88.1 200.7,89.2 200.5,90.3 200.3,91.5 200.1,92.6 200,93.7 199.9,94.9 199.7,96.1 199.4,97.3 199,98.5 198.6,99.6 198.3,100.8 198.1,102 197.8,103.2 197.5,104.3 197.1,105.5 196.9,106.7 196.7,108 196.5,109.1 196.2,110.3 196,111.5 195.8,112.7 195.5,113.8 195.1,115 194.7,116.2 194.5,117.4 194.4,118.8 194.4,120.1 194.3,121.3 193.9,122.4 193.5,123.5 193,124.7 192.8,125.9 192.7,127.1 192.6,128.3 192.5,129.7 193,130.8 193.7,131.6 194.5,132.4 195.3,133.1" stroke="#d4500c" stroke-width="1.6" fill="none" stroke-linejoin="round" stroke-linecap="round"/>
<polyline points="158,95 159.3,94.9 160.7,94.9 162,94.8 163,94.7 164,94.3 165,93.9 166.1,93.3 167.4,92.9 168.6,92.6 169.9,92.4 170.9,92.1 171.9,91.7 172.9,91.3 174,91 175.1,90.6 176.1,90.2 177.1,89.7 178.1,89.1" stroke="#d4500c" stroke-width="1.6" fill="none" stroke-linejoin="round" stroke-linecap="round"/>
<polyline points="183.3,86 183.2,87.2 183,88.4 182.8,89.6 182.8,90.8 182.9,92 183.1,93.2 183.3,94.4 183.4,95.6 183.4,96.8 183.4,98 183.4,99.2 183.4,100.5 183.3,101.7 183.1,103 182.9,104.2 182.8,105.5 182.8,106.7 182.9,108 182.8,109.2 182.6,110.3 182.5,111.5 182.4,112.7 182.4,113.9 182.2,115 182.1,116.2 181.8,117.3 181.5,118.5 181.4,119.6 181.5,120.8 181.8,122 182,123.2 182.1,124.4 182,125.5 182.1,126.6 182.1,127.7 182.1,128.8 182.1,129.9 181.9,131 181.7,132.1 181.8,133.3 182,134.4 182.1,135.5 182.3,136.6 182.5,137.7 182.6,138.7 182.3,139.7 181.9,140.8 181.6,142 181.5,143.1 181.4,144.3 181.4,145.5 181.3,146.7 180.9,147.8 180.5,148.8 180,149.9 179.7,151 179.3,152.1 179,153.2 178.6,154.3 178.3,155.4 178,156.6 177.7,157.7 177.5,158.9 177.2,160 176.8,161.2 176.5,162.4 176.2,163.6 175.9,164.7 175.5,165.9 174.9,167 174.2,168 173.7,169.1 173.1,170.2 172.6,171.3 172,172.4 171.5,173.5 170.8,174.5 170.1,175.6 169.5,176.8 168.7,177.8 168,178.9 166.9,179.5 165.8,180.1 164.7,180.6 163.6,181 162.4,181.3 161.2,181.7 160,182.1" stroke="#d4500c" stroke-width="1.6" fill="none" stroke-linejoin="round" stroke-linecap="round"/>
<polyline points="159.8,160.8 160.9,160.5 162,160.2 163.1,160 164.1,159.5 164.9,158.7 164.5,159.8 164.2,161 163.8,162.2 163.2,163.3 162.2,164.2 161.3,165 160.5,166 159.8,167 159.5,168.3 159.1,169.6 158.7,170.9 158.2,172.1" stroke="#d4500c" stroke-width="1.6" fill="none" stroke-linejoin="round" stroke-linecap="round"/>
<polyline points="54.6,215.1 55.7,214.5 56.7,213.9 57.7,213.4 58.7,212.8 59.7,212.1 60.7,211.5 61.7,210.9 62.8,210.3 63.8,209.8 64.8,209.3 65.8,208.8 66.8,208.3 67.8,207.8 68.8,207.2 69.9,206.6 71.1,206.4 72.2,206.4 73.4,206.4 74.6,206.5 75.7,206.5 76.9,206.3 78,206.1 79.2,205.8 80.3,205.5 81.5,205.3 82.7,205 83.8,204.7 85,204.4 86.2,204.2 87.5,203.8 88.7,203.4 89.9,203.2 91.2,203.2 92.5,203.4 93.8,203.6 95.1,203.6 96.3,203.3 97.5,202.8 98.7,202.4 100,202.1" stroke="#d4500c" stroke-width="1.3" fill="none" stroke-linejoin="round" stroke-linecap="round"/>
<polyline points="52.7,204.5 53.8,204 54.8,203.6 55.8,203.1 56.8,202.7 57.9,202.2 59.1,202 60.3,201.9 61.5,201.7 62.6,201.3 63.8,200.8 64.9,200.4 66,200 67.1,199.9 68.3,199.9 69.5,199.9 70.7,199.8 71.8,199.5 72.9,199.3 74,199.1 75.1,198.8 76.3,198.5 77.5,198 78.7,197.5 80,197.1 81.1,196.9 82.3,196.8 83.5,196.8 84.6,196.6 85.8,196.2 86.8,195.6 87.9,195 89,194.6 90.2,194.5 91.5,194.7 92.7,194.8 93.9,194.7 95.1,194.5" stroke="#d4500c" stroke-width="1.3" fill="none" stroke-linejoin="round" stroke-linecap="round"/>
<polyline points="66,207 70,203.2 80,201.6 85,200.4" stroke="#d4500c" stroke-width="1.0" fill="none" stroke-linejoin="round" stroke-linecap="round"/>
<polyline points="61.2,253 61.3,254.2 61.2,255.5 61.2,256.8 61.3,258 61.6,259.3 62,260.6 62.5,261.8 62.9,263 63.7,264.1 64.9,265 66,265.7 66.8,266.6 67.1,267.7 67,269 66.9,270.3 67,271.4 67.7,272.4 68.8,273.3 69.9,274.2 70.6,275.2 71,276.3 71.3,277.4 71.7,278.5 72.1,279.6 72.5,280.7 72.7,282 72.8,283.3 73.2,284.4 73.6,285.6 74.1,286.7 74.5,287.8 75,288.9 75.8,289.7 76.7,290.5 77.6,291.3 78.3,292.1 79.1,293.1 79.8,294.2 80.5,295.3 81.3,296.3 82.3,297.1" stroke="#d4500c" stroke-width="2.4" fill="none" stroke-linejoin="round" stroke-linecap="round"/>
<polyline points="70,252.9 70.4,253.9 70.8,254.9 71.2,255.8 71.6,257 71.3,258.2 70.8,259.2 70.3,260.2 70,261.3 69.8,262.4 69.6,263.6 70.5,264.5 71.4,265.4 72.2,266.3 72.9,267.3 73.6,268.3 74.2,269.3 74.9,270.2 75.5,271.2 76.1,272.1 76.8,273.1 77.4,274 78.1,275 78.8,276.1 79.6,277.2 80.6,278.1 81.8,278.9 82,280.1 81.9,281.2 81.4,282.2 80.5,283 79.8,284.2 81.1,284.8 82.4,285 83.7,285.2 84.7,285.3 84.8,286.2 85.2,287.4 85.9,288.4 86.6,289.5 87,290.7 87.3,292.1 86.8,293.6 86.5,295 86.1,296.3" stroke="#d4500c" stroke-width="2.4" fill="none" stroke-linejoin="round" stroke-linecap="round"/>
<polyline points="57.8,244.2 58.7,244.9 59.9,245.3 61.1,245.7 62.1,246.3 62.7,247.3 63,248.6 63.4,249.8 64,250.8 64.7,251.7 65.3,252.2 64.9,253.1 64.7,254.2 64.7,255.5 64.9,256.7 65.1,258 65.7,258.9 66.3,259.9 66.9,260.8 67.6,261.7 68.1,262.7 68.7,263.7" stroke="#d4500c" stroke-width="2.4" fill="none" stroke-linejoin="round" stroke-linecap="round"/>
<polyline points="48.2,206.2 47.7,207.4 46.9,208.5 46.2,209.6 45.7,210.7 45.5,212 45.7,213.3 45.9,214.5 46.1,215.7 46.4,216.9 46.9,218.1 48,218.7 49.1,219.4 50.2,220 51.4,220.5 52.5,221 53.4,221.6 54,222.5 54.7,223.7 54.6,225.1 54.7,226.4 54.8,227.6 54.9,228.8 54.9,230 55.3,231.2 55.7,232.4 56.2,233.6 56.7,234.8 57.2,235.9 57.4,237.2 57.5,238.5 57.5,239.8 57.7,241.1 58.3,242.2" stroke="#d4500c" stroke-width="2.4" fill="none" stroke-linejoin="round" stroke-linecap="round"/>
<polyline points="51.2,205.9 51.6,207.2 52.1,208.5 52.5,209.8 52.9,211 54,211.7 55.2,212.2 56.4,212.8 57.6,213.5 58.2,214.7 58.8,215.6 59.4,216.6 60,218.2 58.9,219.5 58.1,220.3 57.2,221 56.4,221.8 55.4,222.4" stroke="#d4500c" stroke-width="2.4" fill="none" stroke-linejoin="round" stroke-linecap="round"/>
<polyline points="66.4,271.6 67.2,272.4 67.8,273.4 68.5,274.3 69.2,275.2 70.2,275.9 71.1,276.7 72,277.5 72.8,278.4 73.3,279.5 73.8,280.6 74.1,281.9 74.5,283.1 75,284.3 75.5,285.5 75.9,286.7 76.4,287.8 77.1,288.7 78,289.6 78.9,290.4 79.6,291.4 80.2,292.4 80.8,293.4" stroke="#d4500c" stroke-width="2.4" fill="none" stroke-linejoin="round" stroke-linecap="round"/>
<path d="M45.8 193.8h2.4v1.4h-2.4zM48.8 193.8h2.4v1.4h-2.4zM45.8 194.8h5.4v1.4h-5.4zM52.8 194.8h1.4v1.4h-1.4zM42.8 195.8h7.4v1.4h-7.4zM50.8 195.8h3.4v1.4h-3.4zM43.8 196.8h9.4v1.4h-9.4zM43.8 197.8h9.4v1.4h-9.4zM45.8 198.8h8.4v1.4h-8.4zM44.8 199.8h9.4v1.4h-9.4zM45.8 200.8h7.4v1.4h-7.4zM44.8 201.8h8.4v1.4h-8.4zM43.8 202.8h9.4v1.4h-9.4zM43.8 203.8h9.4v1.4h-9.4zM44.8 204.8h1.4v1.4h-1.4zM46.8 204.8h5.4v1.4h-5.4zM44.8 205.8h6.4v1.4h-6.4zM44.8 206.8h1.4v1.4h-1.4zM46.8 206.8h3.4v1.4h-3.4zM44.8 207.8h4.4v1.4h-4.4zM44.8 208.8h5.4v1.4h-5.4zM44.8 209.8h4.4v1.4h-4.4zM44.8 210.8h4.4v1.4h-4.4zM44.8 211.8h4.4v1.4h-4.4zM49.8 212.8h1.4v1.4h-1.4zM52.8 220.8h2.4v1.4h-2.4zM51.8 221.8h5.4v1.4h-5.4zM52.8 222.8h3.4v1.4h-3.4zM52.8 223.8h4.4v1.4h-4.4zM51.8 224.8h5.4v1.4h-5.4zM51.8 225.8h5.4v1.4h-5.4zM57.8 225.8h1.4v1.4h-1.4zM50.8 226.8h5.4v1.4h-5.4zM51.8 227.8h5.4v1.4h-5.4zM51.8 228.8h3.4v1.4h-3.4zM50.8 229.8h12.4v1.4h-12.4zM49.8 230.8h12.4v1.4h-12.4zM50.8 231.8h10.4v1.4h-10.4zM49.8 232.8h12.4v1.4h-12.4zM49.8 233.8h1.4v1.4h-1.4zM51.8 233.8h8.4v1.4h-8.4zM50.8 234.8h3.4v1.4h-3.4zM54.8 234.8h7.4v1.4h-7.4zM51.8 235.8h6.4v1.4h-6.4zM58.8 235.8h1.4v1.4h-1.4zM54.8 236.8h1.4v1.4h-1.4zM57.8 236.8h2.4v1.4h-2.4zM55.8 237.8h4.4v1.4h-4.4zM54.8 238.8h5.4v1.4h-5.4zM54.8 239.8h5.4v1.4h-5.4zM54.8 240.8h4.4v1.4h-4.4zM59.8 240.8h2.4v1.4h-2.4zM54.8 241.8h5.4v1.4h-5.4zM63.8 241.8h1.4v1.4h-1.4zM56.8 242.8h4.4v1.4h-4.4zM62.8 242.8h1.4v1.4h-1.4zM54.8 243.8h5.4v1.4h-5.4zM62.8 243.8h1.4v1.4h-1.4zM65.8 243.8h2.4v1.4h-2.4zM56.8 244.8h1.4v1.4h-1.4zM60.8 244.8h9.4v1.4h-9.4zM57.8 245.8h13.4v1.4h-13.4zM57.8 246.8h13.4v1.4h-13.4zM57.8 247.8h15.4v1.4h-15.4zM57.8 248.8h14.4v1.4h-14.4zM57.8 249.8h14.4v1.4h-14.4zM59.8 250.8h4.4v1.4h-4.4zM64.8 250.8h6.4v1.4h-6.4zM61.8 251.8h9.4v1.4h-9.4zM67.8 252.8h1.4v1.4h-1.4zM70.8 252.8h1.4v1.4h-1.4zM67.8 261.8h2.4v1.4h-2.4zM70.8 262.8h2.4v1.4h-2.4zM66.8 263.8h7.4v1.4h-7.4zM65.8 264.8h10.4v1.4h-10.4zM65.8 265.8h6.4v1.4h-6.4zM72.8 265.8h3.4v1.4h-3.4zM66.8 266.8h1.4v1.4h-1.4zM68.8 266.8h9.4v1.4h-9.4zM66.8 267.8h10.4v1.4h-10.4zM66.8 268.8h9.4v1.4h-9.4zM76.8 268.8h1.4v1.4h-1.4zM66.8 269.8h10.4v1.4h-10.4zM68.8 270.8h6.4v1.4h-6.4zM69.8 271.8h3.4v1.4h-3.4zM73.8 271.8h1.4v1.4h-1.4zM76.8 271.8h1.4v1.4h-1.4zM69.8 272.8h1.4v1.4h-1.4zM71.8 272.8h1.4v1.4h-1.4zM76.8 272.8h1.4v1.4h-1.4zM72.8 273.8h6.4v1.4h-6.4zM72.8 274.8h7.4v1.4h-7.4zM71.8 275.8h2.4v1.4h-2.4zM74.8 275.8h7.4v1.4h-7.4zM71.8 276.8h3.4v1.4h-3.4zM75.8 276.8h7.4v1.4h-7.4zM72.8 277.8h10.4v1.4h-10.4zM71.8 278.8h13.4v1.4h-13.4zM71.8 279.8h13.4v1.4h-13.4zM72.8 280.8h12.4v1.4h-12.4zM71.8 281.8h1.4v1.4h-1.4zM73.8 281.8h6.4v1.4h-6.4zM80.8 281.8h3.4v1.4h-3.4zM73.8 282.8h8.4v1.4h-8.4zM74.8 283.8h8.4v1.4h-8.4zM75.8 284.8h1.4v1.4h-1.4zM77.8 284.8h5.4v1.4h-5.4zM75.8 285.8h1.4v1.4h-1.4zM77.8 285.8h5.4v1.4h-5.4zM78.8 286.8h4.4v1.4h-4.4zM79.8 287.8h1.4v1.4h-1.4zM81.8 287.8h1.4v1.4h-1.4zM82.8 294.8h1.4v1.4h-1.4zM86.8 294.8h2.4v1.4h-2.4zM82.8 295.8h8.4v1.4h-8.4zM83.8 296.8h8.4v1.4h-8.4zM82.8 297.8h7.4v1.4h-7.4zM90.8 297.8h1.4v1.4h-1.4zM92.8 297.8h2.4v1.4h-2.4zM81.8 298.8h14.4v1.4h-14.4zM82.8 299.8h13.4v1.4h-13.4zM86.8 300.8h4.4v1.4h-4.4zM94.8 300.8h1.4v1.4h-1.4z" fill="#d4500c"/>
<path d="M68.3 269h1.3v1.3h-1.3zM62.6 255.7h1.3v1.3h-1.3zM46.2 200.4h1.3v1.3h-1.3zM67.4 267.9h1.3v1.3h-1.3zM58.7 246.9h1.3v1.3h-1.3zM70.5 263.5h1.3v1.3h-1.3zM80.1 282.3h1.3v1.3h-1.3zM50.8 205.3h1.3v1.3h-1.3zM55.9 240.3h1.3v1.3h-1.3zM53.9 232.1h1.3v1.3h-1.3zM51.4 221.1h1.3v1.3h-1.3zM52.2 214.9h1.3v1.3h-1.3zM59 256.5h1.3v1.3h-1.3zM57 230.9h1.3v1.3h-1.3zM53 224.8h1.3v1.3h-1.3zM54.1 232.4h1.3v1.3h-1.3zM80.4 287.2h1.3v1.3h-1.3zM67.1 259.4h1.3v1.3h-1.3zM77.8 283.4h1.3v1.3h-1.3zM72.3 273h1.3v1.3h-1.3zM53.3 214.1h1.3v1.3h-1.3zM70.4 271.6h1.3v1.3h-1.3zM48.4 218h1.3v1.3h-1.3zM60.4 239.6h1.3v1.3h-1.3zM80.2 286.8h1.3v1.3h-1.3zM64.6 252.8h1.3v1.3h-1.3zM57 237.2h1.3v1.3h-1.3zM51.2 225.5h1.3v1.3h-1.3zM55.2 238h1.3v1.3h-1.3zM78.6 285.2h1.3v1.3h-1.3z" fill="#d4500c"/>
<polyline points="117,160 117.7,158.9 118.4,157.8 119.1,156.7 119.8,155.7 120.7,154.8 121.6,154 122.5,153.1 123.3,152.3 124.1,151.3 124.8,150.4 125.5,149.3 126.2,148.3 127,147.4 127.9,146.5 128.6,145.5 129.3,144.4 129.8,143.2 130.2,142 130.6,140.8 131.1,139.7 131.8,138.6 132.8,137.8 133.8,137 134.6,136.1 135.3,135.1 135.8,133.9 136.4,132.8 137,131.8 137.8,130.8 138.9,130.3 139.9,129.9 140.5,128.9 141.1,127.9 141.8,127 142.5,126 143.1,125 143.6,123.9 144.2,122.8 144.8,121.6 145.4,120.5 145.9,119.3 146.3,118.1 146.6,116.9 147,115.7 147.4,114.5 147.8,113.3 148.3,112.1 148.7,110.9 149.1,109.7 149.3,108.5 149.6,107.3 150,106.1 150.4,105 150.5,103.7 150.7,102.5 150.9,101.2 151.1,100 151.4,98.7 151.7,97.5 152,96.3 152.2,95 152.1,93.8 152,92.6 151.9,91.4 151.7,90.3 151.4,89.1 151.2,87.9 150.3,86.9 149.4,85.9 148.5,85 148.2,83.7 147.9,82.3 147.9,80.8 149.2,81 150.3,81.3 151.5,81.5 152.7,81.7 153.8,81.9 155,82.1 156.3,81.8 157.5,81.6 158.8,81.4 160,81.2 161.1,81.2 162.2,81.2 163.3,81.1 164.5,81.1 165.6,81 166.7,81 167.9,82 167.6,83.3 167.3,84.7 166.9,86 167.2,87.2 167.5,88.3 167.8,89.5 168.3,90.6 168.9,91.6 169.5,92.7 170,93.8 170.3,94.9 170.6,96.1 170.9,97.3 171.3,98.4 171.7,99.6 172.2,100.7 172.7,101.8 173.1,103 173.5,104.1 174,105.2 174.4,106.4 174.8,107.5 175.1,108.7 175.2,110 175.2,111.2 175.3,112.3 175.4,113.5 175.4,114.7 175.4,115.9 175.5,117 175.3,118.2 175.1,119.4 174.9,120.7 174.7,121.9 174.3,122.9 174,124 173.6,125.1 173.2,126.1 172.5,127.2 171.8,128.2 171.1,129.2 170.3,130.2 169.8,131.2 169.2,132.1 168.7,133.1 168.1,134.1 167.7,135.1 167.3,136.1 166.9,137.4 166.4,138.7 165.8,139.9 165,141 164.2,142.1 163.6,143.3 163.2,144.6 162.9,146 162.6,147.1 162.2,148.1 161.7,149.1 161.1,150.1 160.3,151.1 159.6,152.1 159,153.2 158.3,154.1 157.7,155 157.1,155.8" stroke="#4678fa" stroke-width="1.8" fill="none" stroke-linejoin="round" stroke-linecap="round"/>
<polyline points="117.1,160.2 116.1,160.8 115.1,161.4 114,162 113,162.7 112,163.4 111.1,164.1 110.1,164.9 109,165.3 107.8,165.6 106.6,165.8 105.5,166 104.3,166.3 103.2,166.7 102.1,167.1 101,167.5 99.9,167.8 98.8,168.1 97.7,168.5 96.6,168.9 95.5,169.2 94.4,169.4 93.3,169.7 92.2,169.9 91.1,170.2 90,170.4 88.8,170.6 87.7,170.7 86.6,171 85.5,171.2 84.4,171.5 83.2,171.8 82.1,172.1 81,172.5 80,173 78.9,173.7 77.8,174.2 76.7,174.6 75.5,174.9 74.3,175.2 73.1,175.6 72,176" stroke="#4678fa" stroke-width="1.3" fill="none" stroke-linejoin="round" stroke-linecap="round"/>
<polyline points="100.2,154.9 101.4,154.3 102.5,153.5 103.6,152.7 104.9,152.1 106.2,151.9 107.5,151.8 108.8,151.8 110.1,151.6 111.3,151.5 112.5,151.4 113.8,151.3 115,151.2 116.3,151.2 117.5,151.1 118.8,151 120,151 121.2,150.8 122.5,150.6 123.8,150.3 125,150.2 126.3,150.6 127.5,151.1 128.7,151.5 130,151.9 131.2,152 132.5,152.1 133.8,152.2 135,152.4 136.2,152.3 137.5,152.1 138.7,152 139.9,151.9 141.3,151.6 142.6,151.4 143.9,151.2 145.2,150.9 146.6,150.7 147.9,150.5 149.1,150.1 150.3,149.6 151.5,149" stroke="#4678fa" stroke-width="1.7" fill="none" stroke-linejoin="round" stroke-linecap="round"/>
<polyline points="150.5,148.5 153,151 155.8,155.8 156.7,157.5" stroke="#4678fa" stroke-width="3.0" fill="none" stroke-linejoin="round" stroke-linecap="round"/>
<polyline points="156.7,157.5 160.2,154 165.4,150.5 165.4,154.9 161.9,161 159.3,166.3 158,170" stroke="#4678fa" stroke-width="1.4" fill="none" stroke-linejoin="round" stroke-linecap="round"/>
<polyline points="140,163.7 148.8,160.6" stroke="#4678fa" stroke-width="1.2" fill="none" stroke-linejoin="round" stroke-linecap="round"/>
<polyline points="148.8,161 153.2,161.9 157.5,160.2 161,158.4 163.7,159.3 166.3,162.8 163.7,168" stroke="#d4500c" stroke-width="1.6" fill="none" stroke-linejoin="round" stroke-linecap="round"/>
<path d="M99.5 154.7h1.3v1.3h-1.3zM97.1 155.5h1.3v1.3h-1.3zM94.3 156.5h1.3v1.3h-1.3zM91.6 157h1.3v1.3h-1.3zM89.5 158.1h1.3v1.3h-1.3zM87.1 158.9h1.3v1.3h-1.3zM84.1 159.7h1.3v1.3h-1.3zM82 161h1.3v1.3h-1.3zM79.3 161.8h1.3v1.3h-1.3zM77.1 162.8h1.3v1.3h-1.3zM75.2 163.4h1.3v1.3h-1.3zM73.3 164.4h1.3v1.3h-1.3zM71.3 165.4h1.3v1.3h-1.3zM69.2 166.3h1.3v1.3h-1.3zM66.8 167.7h1.3v1.3h-1.3zM64.5 169.5h1.3v1.3h-1.3zM62 171h1.3v1.3h-1.3zM59.3 172.3h1.3v1.3h-1.3zM56.9 173.8h1.3v1.3h-1.3zM54.2 175h1.3v1.3h-1.3zM52.8 176.3h1.3v1.3h-1.3zM51.5 177.6h1.3v1.3h-1.3z" fill="#4678fa"/>
<path d="M57.3 181.3h1.3v1.3h-1.3zM59.5 180.3h1.3v1.3h-1.3zM61.8 179.3h1.3v1.3h-1.3zM64.2 178.5h1.3v1.3h-1.3zM66.5 177.7h1.3v1.3h-1.3zM68.8 177.2h1.3v1.3h-1.3zM70.9 176.8h1.3v1.3h-1.3zM73.1 176.3h1.3v1.3h-1.3zM75.3 176h1.3v1.3h-1.3zM77.6 175.6h1.3v1.3h-1.3zM79.9 175.4h1.3v1.3h-1.3zM82.3 175h1.3v1.3h-1.3zM84.6 174.5h1.3v1.3h-1.3zM86.9 174.3h1.3v1.3h-1.3zM89.3 173.9h1.3v1.3h-1.3zM91.7 173.9h1.3v1.3h-1.3zM94.1 173.5h1.3v1.3h-1.3zM96.8 172.7h1.3v1.3h-1.3zM99.3 172.4h1.3v1.3h-1.3zM101.8 171.7h1.3v1.3h-1.3zM104.3 171.1h1.3v1.3h-1.3zM106.4 170.1h1.3v1.3h-1.3zM108.2 168.9h1.3v1.3h-1.3zM110.4 168h1.3v1.3h-1.3zM112.4 167.2h1.3v1.3h-1.3zM114.5 166.3h1.3v1.3h-1.3zM116.6 165.3h1.3v1.3h-1.3zM119.3 164.7h1.3v1.3h-1.3zM122 165.1h1.3v1.3h-1.3zM124.6 165.2h1.3v1.3h-1.3zM126.6 164.9h1.3v1.3h-1.3zM129.3 164.6h1.3v1.3h-1.3zM131.7 164.1h1.3v1.3h-1.3zM134.2 163.9h1.3v1.3h-1.3zM137.1 163.5h1.3v1.3h-1.3zM139.4 163.3h1.3v1.3h-1.3zM142 162.8h1.3v1.3h-1.3zM144.2 162.6h1.3v1.3h-1.3zM146.8 162.2h1.3v1.3h-1.3zM149.4 161.9h1.3v1.3h-1.3zM152.1 161.4h1.3v1.3h-1.3zM154.2 161.1h1.3v1.3h-1.3zM157 161h1.3v1.3h-1.3zM159.1 160.4h1.3v1.3h-1.3z" fill="#4678fa"/>
<polyline points="62,192.3 63.2,192.1 64.3,191.9 65.5,191.7 66.6,191.5 67.8,191.3 68.9,191.1 70.1,190.8 71.2,190.7 72.3,190.5 73.5,190.2 74.6,190 75.7,189.8 76.9,189.7 78,189.5 79.2,189.3 80.4,189.2 81.5,188.9 82.7,188.5 83.8,188.1 85,187.9 86.2,187.6 87.5,187.5 88.8,187.3 90,187.1 91.3,186.9 92.5,186.8 93.8,186.6 95,186.5 96.3,186.3 97.5,186 98.7,185.8 100,185.6 101.1,185.3 102.2,185 103.3,184.7 104.4,184.5 105.5,184.2 106.6,184.1 107.8,183.9 108.9,183.7 110,183.4 111.2,183.1 112.5,182.8 113.7,182.6 115,182.4 116.3,182.4 117.5,182.3 118.8,182.2 120,181.9 121.3,181.5 122.5,181.1 123.7,180.8 125,180.7 126.2,180.6 127.5,180.5 128.8,180.3 130,180.1 131.3,179.9 132.5,179.6 133.7,179.4 135,179.2 136.3,179.1 137.5,179.1 138.8,178.9 140,178.7 141.3,178.4 142.5,178.1 143.7,177.8 145,177.5 146.2,177.2 147.5,176.8 148.7,176.4 149.9,176.2 151,175.6 152.2,174.9 153.2,174.2 154.1,173.4 155,172.4 155.4,171.2 155.9,170.1 156.6,169.1 157.3,168.1 158.1,167.1 158.5,166 158.7,164.9 158.9,163.8 159.1,162.6 159.3,161.5 159.7,160.4" stroke="#4678fa" stroke-width="1.3" fill="none" stroke-linejoin="round" stroke-linecap="round"/>
<path d="M50.8 178.8h2.4v1.4h-2.4zM50.8 179.8h3.4v1.4h-3.4zM50.8 180.8h3.4v1.4h-3.4zM49.8 181.8h5.4v1.4h-5.4zM50.8 182.8h3.4v1.4h-3.4zM55.8 182.8h1.4v1.4h-1.4zM57.8 182.8h1.4v1.4h-1.4zM50.8 183.8h5.4v1.4h-5.4zM56.8 183.8h2.4v1.4h-2.4zM49.8 184.8h6.4v1.4h-6.4zM56.8 184.8h2.4v1.4h-2.4zM48.8 185.8h8.4v1.4h-8.4zM57.8 185.8h1.4v1.4h-1.4zM49.8 186.8h2.4v1.4h-2.4zM52.8 186.8h7.4v1.4h-7.4zM49.8 187.8h4.4v1.4h-4.4zM54.8 187.8h7.4v1.4h-7.4zM49.8 188.8h13.4v1.4h-13.4zM50.8 189.8h11.4v1.4h-11.4zM50.8 190.8h10.4v1.4h-10.4zM50.8 191.8h10.4v1.4h-10.4zM47.8 192.8h1.4v1.4h-1.4zM50.8 192.8h10.4v1.4h-10.4zM50.8 193.8h11.4v1.4h-11.4zM62.8 193.8h1.4v1.4h-1.4zM50.8 194.8h1.4v1.4h-1.4zM52.8 194.8h7.4v1.4h-7.4zM50.8 195.8h1.4v1.4h-1.4zM52.8 195.8h8.4v1.4h-8.4zM51.8 196.8h7.4v1.4h-7.4zM59.8 196.8h1.4v1.4h-1.4zM61.8 196.8h1.4v1.4h-1.4zM50.8 197.8h3.4v1.4h-3.4zM54.8 197.8h4.4v1.4h-4.4zM59.8 197.8h1.4v1.4h-1.4zM54.8 198.8h5.4v1.4h-5.4zM60.8 198.8h1.4v1.4h-1.4zM51.8 199.8h1.4v1.4h-1.4zM53.8 199.8h7.4v1.4h-7.4zM52.8 200.8h7.4v1.4h-7.4zM54.8 201.8h5.4v1.4h-5.4zM51.8 202.8h1.4v1.4h-1.4zM55.8 202.8h1.4v1.4h-1.4zM57.8 202.8h1.4v1.4h-1.4zM59.8 202.8h1.4v1.4h-1.4zM57.8 203.8h1.4v1.4h-1.4zM52.8 204.8h3.4v1.4h-3.4zM56.8 204.8h2.4v1.4h-2.4zM53.8 205.8h6.4v1.4h-6.4zM53.8 206.8h6.4v1.4h-6.4zM53.8 207.8h4.4v1.4h-4.4zM58.8 207.8h2.4v1.4h-2.4zM54.8 208.8h6.4v1.4h-6.4zM53.8 209.8h1.4v1.4h-1.4zM56.8 209.8h6.4v1.4h-6.4zM56.8 210.8h6.4v1.4h-6.4zM63.8 210.8h1.4v1.4h-1.4zM57.8 211.8h8.4v1.4h-8.4zM57.8 212.8h4.4v1.4h-4.4zM62.8 212.8h4.4v1.4h-4.4zM57.8 213.8h9.4v1.4h-9.4zM56.8 214.8h6.4v1.4h-6.4zM63.8 214.8h1.4v1.4h-1.4zM56.8 215.8h1.4v1.4h-1.4zM58.8 215.8h4.4v1.4h-4.4zM63.8 215.8h2.4v1.4h-2.4zM58.8 216.8h8.4v1.4h-8.4zM59.8 217.8h4.4v1.4h-4.4zM64.8 217.8h2.4v1.4h-2.4zM59.8 218.8h2.4v1.4h-2.4zM65.8 218.8h1.4v1.4h-1.4zM68.8 224.8h1.4v1.4h-1.4zM71.8 225.8h1.4v1.4h-1.4zM68.8 226.8h6.4v1.4h-6.4zM66.8 227.8h1.4v1.4h-1.4zM69.8 227.8h5.4v1.4h-5.4zM76.8 227.8h1.4v1.4h-1.4zM69.8 228.8h5.4v1.4h-5.4zM70.8 229.8h6.4v1.4h-6.4zM69.8 230.8h8.4v1.4h-8.4zM69.8 231.8h6.4v1.4h-6.4zM76.8 231.8h1.4v1.4h-1.4zM72.8 232.8h5.4v1.4h-5.4zM70.8 233.8h1.4v1.4h-1.4zM73.8 233.8h4.4v1.4h-4.4zM68.8 234.8h1.4v1.4h-1.4zM73.8 234.8h1.4v1.4h-1.4zM104.8 269.8h1.4v1.4h-1.4zM100.8 270.8h1.4v1.4h-1.4zM103.8 270.8h2.4v1.4h-2.4zM101.8 271.8h1.4v1.4h-1.4zM103.8 271.8h2.4v1.4h-2.4zM100.8 272.8h7.4v1.4h-7.4zM100.8 273.8h7.4v1.4h-7.4zM96.8 274.8h12.4v1.4h-12.4zM97.8 275.8h1.4v1.4h-1.4zM100.8 275.8h9.4v1.4h-9.4zM112.8 275.8h1.4v1.4h-1.4zM96.8 276.8h8.4v1.4h-8.4zM105.8 276.8h4.4v1.4h-4.4zM96.8 277.8h12.4v1.4h-12.4zM109.8 277.8h5.4v1.4h-5.4zM115.8 277.8h2.4v1.4h-2.4zM95.8 278.8h20.4v1.4h-20.4zM98.8 279.8h19.4v1.4h-19.4zM96.8 280.8h9.4v1.4h-9.4zM106.8 280.8h11.4v1.4h-11.4zM96.8 281.8h9.4v1.4h-9.4zM106.8 281.8h11.4v1.4h-11.4zM94.8 282.8h1.4v1.4h-1.4zM97.8 282.8h17.4v1.4h-17.4zM115.8 282.8h1.4v1.4h-1.4zM117.8 282.8h1.4v1.4h-1.4zM98.8 283.8h12.4v1.4h-12.4zM111.8 283.8h2.4v1.4h-2.4zM114.8 283.8h2.4v1.4h-2.4zM117.8 283.8h1.4v1.4h-1.4zM97.8 284.8h10.4v1.4h-10.4zM108.8 284.8h5.4v1.4h-5.4zM98.8 285.8h9.4v1.4h-9.4zM111.8 285.8h2.4v1.4h-2.4zM98.8 286.8h9.4v1.4h-9.4zM110.8 286.8h1.4v1.4h-1.4zM98.8 287.8h10.4v1.4h-10.4zM98.8 288.8h7.4v1.4h-7.4zM106.8 288.8h2.4v1.4h-2.4zM98.8 289.8h1.4v1.4h-1.4zM100.8 289.8h5.4v1.4h-5.4zM98.8 290.8h1.4v1.4h-1.4zM101.8 290.8h2.4v1.4h-2.4zM104.8 290.8h2.4v1.4h-2.4zM99.8 291.8h1.4v1.4h-1.4z" fill="#4678fa"/>
<polyline points="63.5,218.8 63.9,220 64,221.3 64.1,222.7 64.4,223.9 65,225.1 65.5,226.3 66.4,227.3 67.2,228.3 68.1,229.2 69.1,230.1 70.1,230.9 71.1,231.4 72.1,232 73,232.8 73.9,233.6 74.8,234.3 75.6,235 76.4,235.8 77.2,236.6 78,237.4 78.9,238.1 79.5,239 80.1,240 80.6,240.9 81.1,242 81.4,243 81.8,244.1 82.3,245.3 82.8,246.5 83.5,247.7 84.1,248.8 84.7,250 85.1,251.2 85.5,252.3 86,253.5 86.4,254.6 87,255.7 87.6,256.8 88.2,257.9 88.8,259 89.3,260.2 89.6,261.5 90,262.7 90.4,263.9 91,265 91.7,266.1 92.5,267.1 93.1,268.3 93.5,269.5 93.8,270.7 94.1,272 94.5,273 95,274 95.7,274.9 96.3,275.9 96.9,276.8 97.3,277.8" stroke="#4678fa" stroke-width="1.8" fill="none" stroke-linejoin="round" stroke-linecap="round"/>
<polyline points="87.1,213.7 87.7,214.8 88.3,215.8 88.9,216.9 89.5,217.9 89.9,219.1 90.3,220.3 90.7,221.5 91.1,222.7 91.7,223.8 92.4,224.9 93,226 93.6,227.2 94.1,228.3 94.6,229.5 95.2,230.7 95.7,231.9 96,233.1 96.3,234.2 96.6,235.4 96.9,236.6 97.4,237.6 97.9,238.8 98.5,239.9 98.9,241.1 99.3,242.3 99.6,243.5 100,244.7 100.3,245.9 100.5,247.1 100.6,248.2 100.7,249.4 100.9,250.5 101.3,251.6 101.8,252.7 102.3,253.8 102.6,254.8 102.8,256 102.8,257.2 102.8,258.5 103,259.6 103.5,260.7 104,261.8 104.6,262.8 105.2,263.9 105.7,264.9 106.3,265.9 106.9,266.9 107.4,267.9 108,268.9 108.9,269.9 109.7,270.9 110.5,272 111.3,273 112,274.1 112.8,275 113.5,275.9 114.1,276.9 114.6,278 115.1,279.1 115.8,280 116.7,280.9 117.6,281.6" stroke="#4678fa" stroke-width="1.6" fill="none" stroke-linejoin="round" stroke-linecap="round"/>
<path d="M51.4 196h1.3v1.3h-1.3zM48.9 185.6h1.3v1.3h-1.3zM54.4 194.2h1.3v1.3h-1.3zM60 198.5h1.3v1.3h-1.3zM55.8 192.4h1.3v1.3h-1.3zM52.1 182.6h1.3v1.3h-1.3zM53.8 190.9h1.3v1.3h-1.3zM50.8 186.9h1.3v1.3h-1.3zM48.9 182.7h1.3v1.3h-1.3zM50.8 183.7h1.3v1.3h-1.3zM49.4 178.1h1.3v1.3h-1.3zM59.8 194.8h1.3v1.3h-1.3zM56.7 197.1h1.3v1.3h-1.3zM53.9 200.9h1.3v1.3h-1.3zM51.2 181.7h1.3v1.3h-1.3zM55.6 192.7h1.3v1.3h-1.3zM59.2 203.2h1.3v1.3h-1.3zM58.8 202.4h1.3v1.3h-1.3zM54.5 202.6h1.3v1.3h-1.3zM55 194.2h1.3v1.3h-1.3zM56.2 193.3h1.3v1.3h-1.3zM58.7 202.3h1.3v1.3h-1.3zM49.7 176.3h1.3v1.3h-1.3zM54.4 189.1h1.3v1.3h-1.3zM56.1 190.2h1.3v1.3h-1.3zM59.3 202.1h1.3v1.3h-1.3zM55.7 201.8h1.3v1.3h-1.3zM52.6 186.6h1.3v1.3h-1.3zM54.6 200.7h1.3v1.3h-1.3zM53 184.1h1.3v1.3h-1.3zM54 192.6h1.3v1.3h-1.3zM57.6 188.4h1.3v1.3h-1.3zM53.8 178.3h1.3v1.3h-1.3zM49.9 181.1h1.3v1.3h-1.3zM56.2 189h1.3v1.3h-1.3zM54.3 189.7h1.3v1.3h-1.3zM52.3 186.8h1.3v1.3h-1.3zM57 205.3h1.3v1.3h-1.3zM53.3 189h1.3v1.3h-1.3zM57.1 203.8h1.3v1.3h-1.3z" fill="#4678fa"/>
<polyline points="178.2,8.4 177.8,167 160,170.7 120,177.3 105,180 90,183.6 70,189.2 56.8,193.5 71,222.5 86.6,260 96,278.5 112.6,307.3" stroke="#ff18d0" stroke-width="1.4" fill="none"/>
<polyline points="96.6,193.4 98.2,194.4 137.8,283.5 139,286" stroke="#33d633" stroke-width="1.4" fill="none"/>
<polyline points="217.1,8.4 216.6,166.8 160,178.2 120,185.6 112.4,186.8 106,188.4 99.6,191.2 96.4,193.6 132.2,277 151.2,307.3" stroke="#000" stroke-width="2" fill="none" stroke-linejoin="miter"/>
<path d="M371.85 130.85h1.3v1.3h-1.3zM372.85 131.85h1.3v1.3h-1.3zM418.85 131.85h1.3v1.3h-1.3zM371.85 132.85h2.3v1.3h-2.3zM416.85 132.85h3.3v1.3h-3.3zM370.85 133.85h5.3v1.3h-5.3zM417.85 133.85h1.3v1.3h-1.3zM369.85 134.85h7.3v1.3h-7.3zM403.85 134.85h1.3v1.3h-1.3zM415.85 134.85h4.3v1.3h-4.3zM368.85 135.85h2.3v1.3h-2.3zM371.85 135.85h1.3v1.3h-1.3zM373.85 135.85h3.3v1.3h-3.3zM404.85 135.85h1.3v1.3h-1.3zM416.85 135.85h3.3v1.3h-3.3zM368.85 136.85h8.3v1.3h-8.3zM378.85 136.85h1.3v1.3h-1.3zM381.85 136.85h1.3v1.3h-1.3zM386.85 136.85h2.3v1.3h-2.3zM405.85 136.85h1.3v1.3h-1.3zM415.85 136.85h1.3v1.3h-1.3zM419.85 136.85h1.3v1.3h-1.3zM368.85 137.85h15.3v1.3h-15.3zM386.85 137.85h1.3v1.3h-1.3zM407.85 137.85h2.3v1.3h-2.3zM415.85 137.85h4.3v1.3h-4.3zM368.85 138.85h15.3v1.3h-15.3zM385.85 138.85h3.3v1.3h-3.3zM398.85 138.85h1.3v1.3h-1.3zM401.85 138.85h1.3v1.3h-1.3zM406.85 138.85h1.3v1.3h-1.3zM414.85 138.85h2.3v1.3h-2.3zM417.85 138.85h2.3v1.3h-2.3zM369.85 139.85h15.3v1.3h-15.3zM385.85 139.85h3.3v1.3h-3.3zM399.85 139.85h1.3v1.3h-1.3zM406.85 139.85h1.3v1.3h-1.3zM416.85 139.85h3.3v1.3h-3.3zM368.85 140.85h21.3v1.3h-21.3zM401.85 140.85h1.3v1.3h-1.3zM404.85 140.85h2.3v1.3h-2.3zM415.85 140.85h1.3v1.3h-1.3zM417.85 140.85h2.3v1.3h-2.3zM420.85 140.85h1.3v1.3h-1.3zM366.85 141.85h1.3v1.3h-1.3zM368.85 141.85h1.3v1.3h-1.3zM370.85 141.85h3.3v1.3h-3.3zM374.85 141.85h11.3v1.3h-11.3zM386.85 141.85h3.3v1.3h-3.3zM398.85 141.85h2.3v1.3h-2.3zM403.85 141.85h2.3v1.3h-2.3zM407.85 141.85h1.3v1.3h-1.3zM417.85 141.85h6.3v1.3h-6.3zM367.85 142.85h3.3v1.3h-3.3zM371.85 142.85h6.3v1.3h-6.3zM378.85 142.85h10.3v1.3h-10.3zM398.85 142.85h1.3v1.3h-1.3zM400.85 142.85h1.3v1.3h-1.3zM407.85 142.85h1.3v1.3h-1.3zM416.85 142.85h5.3v1.3h-5.3zM422.85 142.85h4.3v1.3h-4.3zM366.85 143.85h22.3v1.3h-22.3zM400.85 143.85h2.3v1.3h-2.3zM403.85 143.85h1.3v1.3h-1.3zM407.85 143.85h1.3v1.3h-1.3zM416.85 143.85h7.3v1.3h-7.3zM424.85 143.85h2.3v1.3h-2.3zM366.85 144.85h8.3v1.3h-8.3zM375.85 144.85h12.3v1.3h-12.3zM389.85 144.85h1.3v1.3h-1.3zM403.85 144.85h2.3v1.3h-2.3zM407.85 144.85h1.3v1.3h-1.3zM415.85 144.85h6.3v1.3h-6.3zM423.85 144.85h3.3v1.3h-3.3zM365.85 145.85h9.3v1.3h-9.3zM375.85 145.85h8.3v1.3h-8.3zM384.85 145.85h1.3v1.3h-1.3zM386.85 145.85h2.3v1.3h-2.3zM416.85 145.85h9.3v1.3h-9.3zM426.85 145.85h1.3v1.3h-1.3zM365.85 146.85h6.3v1.3h-6.3zM372.85 146.85h11.3v1.3h-11.3zM384.85 146.85h1.3v1.3h-1.3zM386.85 146.85h1.3v1.3h-1.3zM402.85 146.85h1.3v1.3h-1.3zM417.85 146.85h2.3v1.3h-2.3zM421.85 146.85h2.3v1.3h-2.3zM424.85 146.85h3.3v1.3h-3.3zM363.85 147.85h6.3v1.3h-6.3zM370.85 147.85h14.3v1.3h-14.3zM400.85 147.85h1.3v1.3h-1.3zM417.85 147.85h10.3v1.3h-10.3zM364.85 148.85h5.3v1.3h-5.3zM370.85 148.85h13.3v1.3h-13.3zM400.85 148.85h2.3v1.3h-2.3zM418.85 148.85h4.3v1.3h-4.3zM423.85 148.85h3.3v1.3h-3.3zM364.85 149.85h8.3v1.3h-8.3zM373.85 149.85h10.3v1.3h-10.3zM418.85 149.85h7.3v1.3h-7.3zM363.85 150.85h11.3v1.3h-11.3zM375.85 150.85h1.3v1.3h-1.3zM377.85 150.85h5.3v1.3h-5.3zM419.85 150.85h7.3v1.3h-7.3zM364.85 151.85h18.3v1.3h-18.3zM402.85 151.85h1.3v1.3h-1.3zM419.85 151.85h1.3v1.3h-1.3zM421.85 151.85h1.3v1.3h-1.3zM424.85 151.85h2.3v1.3h-2.3zM363.85 152.85h7.3v1.3h-7.3zM371.85 152.85h4.3v1.3h-4.3zM376.85 152.85h6.3v1.3h-6.3zM419.85 152.85h6.3v1.3h-6.3zM426.85 152.85h1.3v1.3h-1.3zM430.85 152.85h1.3v1.3h-1.3zM367.85 153.85h15.3v1.3h-15.3zM402.85 153.85h1.3v1.3h-1.3zM419.85 153.85h1.3v1.3h-1.3zM421.85 153.85h2.3v1.3h-2.3zM432.85 153.85h1.3v1.3h-1.3zM365.85 154.85h7.3v1.3h-7.3zM373.85 154.85h9.3v1.3h-9.3zM420.85 154.85h1.3v1.3h-1.3zM422.85 154.85h1.3v1.3h-1.3zM368.85 155.85h2.3v1.3h-2.3zM371.85 155.85h12.3v1.3h-12.3zM368.85 156.85h1.3v1.3h-1.3zM370.85 156.85h13.3v1.3h-13.3zM402.85 156.85h1.3v1.3h-1.3zM422.85 156.85h1.3v1.3h-1.3zM369.85 157.85h8.3v1.3h-8.3zM378.85 157.85h4.3v1.3h-4.3zM402.85 157.85h1.3v1.3h-1.3zM428.85 157.85h1.3v1.3h-1.3zM370.85 158.85h1.3v1.3h-1.3zM372.85 158.85h1.3v1.3h-1.3zM376.85 158.85h1.3v1.3h-1.3zM378.85 158.85h3.3v1.3h-3.3zM430.85 158.85h1.3v1.3h-1.3zM371.85 159.85h1.3v1.3h-1.3zM378.85 159.85h2.3v1.3h-2.3zM405.85 159.85h1.3v1.3h-1.3zM419.85 159.85h1.3v1.3h-1.3zM434.85 159.85h1.3v1.3h-1.3zM370.85 160.85h1.3v1.3h-1.3zM379.85 160.85h1.3v1.3h-1.3zM432.85 160.85h1.3v1.3h-1.3zM365.85 161.85h1.3v1.3h-1.3zM371.85 161.85h1.3v1.3h-1.3zM375.85 161.85h2.3v1.3h-2.3zM379.85 161.85h2.3v1.3h-2.3zM386.85 161.85h2.3v1.3h-2.3zM404.85 161.85h1.3v1.3h-1.3zM422.85 161.85h1.3v1.3h-1.3zM372.85 162.85h1.3v1.3h-1.3zM374.85 162.85h4.3v1.3h-4.3zM381.85 162.85h2.3v1.3h-2.3zM365.85 164.85h1.3v1.3h-1.3zM367.85 164.85h1.3v1.3h-1.3zM369.85 164.85h1.3v1.3h-1.3zM375.85 164.85h1.3v1.3h-1.3zM380.85 164.85h1.3v1.3h-1.3zM404.85 164.85h1.3v1.3h-1.3zM428.85 164.85h1.3v1.3h-1.3zM381.85 165.85h3.3v1.3h-3.3zM378.85 166.85h1.3v1.3h-1.3zM435.85 166.85h1.3v1.3h-1.3zM378.85 167.85h1.3v1.3h-1.3zM382.85 167.85h1.3v1.3h-1.3zM406.85 167.85h1.3v1.3h-1.3zM369.85 168.85h2.3v1.3h-2.3zM375.85 168.85h2.3v1.3h-2.3zM382.85 168.85h1.3v1.3h-1.3zM402.85 168.85h1.3v1.3h-1.3zM404.85 168.85h2.3v1.3h-2.3zM419.85 168.85h1.3v1.3h-1.3zM430.85 168.85h1.3v1.3h-1.3zM368.85 169.85h3.3v1.3h-3.3zM382.85 169.85h1.3v1.3h-1.3zM384.85 169.85h1.3v1.3h-1.3zM404.85 169.85h1.3v1.3h-1.3zM421.85 169.85h1.3v1.3h-1.3zM375.85 170.85h1.3v1.3h-1.3zM382.85 170.85h1.3v1.3h-1.3zM387.85 170.85h1.3v1.3h-1.3zM406.85 170.85h1.3v1.3h-1.3zM367.85 171.85h1.3v1.3h-1.3zM370.85 171.85h2.3v1.3h-2.3zM377.85 171.85h2.3v1.3h-2.3zM404.85 171.85h1.3v1.3h-1.3zM370.85 172.85h1.3v1.3h-1.3zM375.85 172.85h1.3v1.3h-1.3zM380.85 172.85h1.3v1.3h-1.3zM370.85 173.85h2.3v1.3h-2.3zM375.85 173.85h2.3v1.3h-2.3zM383.85 173.85h1.3v1.3h-1.3zM403.85 173.85h1.3v1.3h-1.3zM407.85 173.85h1.3v1.3h-1.3zM369.85 174.85h1.3v1.3h-1.3zM377.85 174.85h1.3v1.3h-1.3zM355.85 175.85h1.3v1.3h-1.3zM359.85 175.85h1.3v1.3h-1.3zM361.85 175.85h1.3v1.3h-1.3zM372.85 175.85h1.3v1.3h-1.3zM376.85 175.85h1.3v1.3h-1.3zM381.85 175.85h2.3v1.3h-2.3zM357.85 176.85h1.3v1.3h-1.3zM367.85 176.85h1.3v1.3h-1.3zM373.85 176.85h1.3v1.3h-1.3zM382.85 176.85h2.3v1.3h-2.3zM344.85 177.85h1.3v1.3h-1.3zM360.85 177.85h1.3v1.3h-1.3zM366.85 177.85h1.3v1.3h-1.3zM368.85 177.85h1.3v1.3h-1.3zM370.85 177.85h1.3v1.3h-1.3zM376.85 177.85h1.3v1.3h-1.3zM381.85 177.85h1.3v1.3h-1.3zM387.85 177.85h1.3v1.3h-1.3zM406.85 177.85h1.3v1.3h-1.3zM344.85 178.85h1.3v1.3h-1.3zM347.85 178.85h1.3v1.3h-1.3zM365.85 178.85h1.3v1.3h-1.3zM371.85 178.85h1.3v1.3h-1.3zM376.85 178.85h1.3v1.3h-1.3zM380.85 178.85h2.3v1.3h-2.3zM340.85 179.85h1.3v1.3h-1.3zM344.85 179.85h1.3v1.3h-1.3zM356.85 179.85h1.3v1.3h-1.3zM376.85 179.85h1.3v1.3h-1.3zM422.85 179.85h2.3v1.3h-2.3zM426.85 179.85h1.3v1.3h-1.3zM474.85 179.85h1.3v1.3h-1.3zM478.85 179.85h1.3v1.3h-1.3zM352.85 180.85h1.3v1.3h-1.3zM371.85 180.85h1.3v1.3h-1.3zM382.85 180.85h2.3v1.3h-2.3zM427.85 180.85h2.3v1.3h-2.3zM480.85 180.85h1.3v1.3h-1.3zM482.85 180.85h1.3v1.3h-1.3zM488.85 180.85h1.3v1.3h-1.3zM363.85 181.85h1.3v1.3h-1.3zM377.85 181.85h1.3v1.3h-1.3zM380.85 181.85h1.3v1.3h-1.3zM388.85 181.85h1.3v1.3h-1.3zM418.85 181.85h1.3v1.3h-1.3zM420.85 181.85h1.3v1.3h-1.3zM429.85 181.85h2.3v1.3h-2.3zM457.85 181.85h1.3v1.3h-1.3zM468.85 181.85h1.3v1.3h-1.3zM475.85 181.85h1.3v1.3h-1.3zM480.85 181.85h1.3v1.3h-1.3zM482.85 181.85h1.3v1.3h-1.3zM367.85 182.85h1.3v1.3h-1.3zM380.85 182.85h1.3v1.3h-1.3zM383.85 182.85h1.3v1.3h-1.3zM385.85 182.85h1.3v1.3h-1.3zM417.85 182.85h1.3v1.3h-1.3zM425.85 182.85h1.3v1.3h-1.3zM436.85 182.85h1.3v1.3h-1.3zM453.85 182.85h1.3v1.3h-1.3zM459.85 182.85h1.3v1.3h-1.3zM463.85 182.85h1.3v1.3h-1.3zM468.85 182.85h1.3v1.3h-1.3zM341.85 183.85h1.3v1.3h-1.3zM351.85 183.85h1.3v1.3h-1.3zM353.85 183.85h1.3v1.3h-1.3zM355.85 183.85h1.3v1.3h-1.3zM360.85 183.85h1.3v1.3h-1.3zM363.85 183.85h2.3v1.3h-2.3zM366.85 183.85h1.3v1.3h-1.3zM370.85 183.85h4.3v1.3h-4.3zM375.85 183.85h1.3v1.3h-1.3zM377.85 183.85h1.3v1.3h-1.3zM383.85 183.85h2.3v1.3h-2.3zM434.85 183.85h1.3v1.3h-1.3zM441.85 183.85h1.3v1.3h-1.3zM464.85 183.85h1.3v1.3h-1.3zM348.85 184.85h1.3v1.3h-1.3zM356.85 184.85h1.3v1.3h-1.3zM371.85 184.85h1.3v1.3h-1.3zM374.85 184.85h1.3v1.3h-1.3zM377.85 184.85h1.3v1.3h-1.3zM419.85 184.85h1.3v1.3h-1.3zM428.85 184.85h1.3v1.3h-1.3zM433.85 184.85h1.3v1.3h-1.3zM437.85 184.85h1.3v1.3h-1.3zM457.85 184.85h1.3v1.3h-1.3zM466.85 184.85h1.3v1.3h-1.3zM472.85 184.85h2.3v1.3h-2.3zM331.85 185.85h1.3v1.3h-1.3zM367.85 185.85h1.3v1.3h-1.3zM369.85 185.85h1.3v1.3h-1.3zM371.85 185.85h1.3v1.3h-1.3zM385.85 185.85h1.3v1.3h-1.3zM433.85 185.85h1.3v1.3h-1.3zM456.85 185.85h1.3v1.3h-1.3zM338.85 186.85h3.3v1.3h-3.3zM342.85 186.85h1.3v1.3h-1.3zM368.85 186.85h1.3v1.3h-1.3zM370.85 186.85h2.3v1.3h-2.3zM380.85 186.85h1.3v1.3h-1.3zM382.85 186.85h1.3v1.3h-1.3zM423.85 186.85h1.3v1.3h-1.3zM429.85 186.85h1.3v1.3h-1.3zM432.85 186.85h1.3v1.3h-1.3zM450.85 186.85h1.3v1.3h-1.3zM469.85 186.85h1.3v1.3h-1.3zM339.85 187.85h1.3v1.3h-1.3zM343.85 187.85h1.3v1.3h-1.3zM346.85 187.85h1.3v1.3h-1.3zM360.85 187.85h1.3v1.3h-1.3zM369.85 187.85h2.3v1.3h-2.3zM377.85 187.85h1.3v1.3h-1.3zM379.85 187.85h1.3v1.3h-1.3zM385.85 187.85h1.3v1.3h-1.3zM387.85 187.85h1.3v1.3h-1.3zM435.85 187.85h1.3v1.3h-1.3zM453.85 187.85h1.3v1.3h-1.3zM468.85 187.85h1.3v1.3h-1.3zM475.85 187.85h1.3v1.3h-1.3zM336.85 188.85h2.3v1.3h-2.3zM339.85 188.85h1.3v1.3h-1.3zM345.85 188.85h4.3v1.3h-4.3zM350.85 188.85h1.3v1.3h-1.3zM371.85 188.85h1.3v1.3h-1.3zM374.85 188.85h1.3v1.3h-1.3zM376.85 188.85h1.3v1.3h-1.3zM418.85 188.85h1.3v1.3h-1.3zM425.85 188.85h1.3v1.3h-1.3zM461.85 188.85h1.3v1.3h-1.3zM463.85 188.85h3.3v1.3h-3.3zM471.85 188.85h1.3v1.3h-1.3zM480.85 188.85h2.3v1.3h-2.3zM484.85 188.85h1.3v1.3h-1.3zM327.85 189.85h7.3v1.3h-7.3zM335.85 189.85h1.3v1.3h-1.3zM337.85 189.85h9.3v1.3h-9.3zM347.85 189.85h2.3v1.3h-2.3zM350.85 189.85h2.3v1.3h-2.3zM389.85 189.85h1.3v1.3h-1.3zM430.85 189.85h1.3v1.3h-1.3zM434.85 189.85h1.3v1.3h-1.3zM454.85 189.85h1.3v1.3h-1.3zM474.85 189.85h1.3v1.3h-1.3zM320.85 190.85h1.3v1.3h-1.3zM328.85 190.85h4.3v1.3h-4.3zM333.85 190.85h1.3v1.3h-1.3zM336.85 190.85h13.3v1.3h-13.3zM350.85 190.85h4.3v1.3h-4.3zM356.85 190.85h2.3v1.3h-2.3zM359.85 190.85h1.3v1.3h-1.3zM417.85 190.85h1.3v1.3h-1.3zM434.85 190.85h1.3v1.3h-1.3zM442.85 190.85h1.3v1.3h-1.3zM446.85 190.85h1.3v1.3h-1.3zM458.85 190.85h1.3v1.3h-1.3zM461.85 190.85h1.3v1.3h-1.3zM469.85 190.85h1.3v1.3h-1.3zM476.85 190.85h1.3v1.3h-1.3zM479.85 190.85h1.3v1.3h-1.3zM322.85 191.85h2.3v1.3h-2.3zM325.85 191.85h3.3v1.3h-3.3zM330.85 191.85h23.3v1.3h-23.3zM354.85 191.85h3.3v1.3h-3.3zM363.85 191.85h1.3v1.3h-1.3zM366.85 191.85h2.3v1.3h-2.3zM371.85 191.85h1.3v1.3h-1.3zM419.85 191.85h1.3v1.3h-1.3zM429.85 191.85h1.3v1.3h-1.3zM431.85 191.85h1.3v1.3h-1.3zM439.85 191.85h1.3v1.3h-1.3zM441.85 191.85h1.3v1.3h-1.3zM444.85 191.85h2.3v1.3h-2.3zM447.85 191.85h2.3v1.3h-2.3zM453.85 191.85h1.3v1.3h-1.3zM455.85 191.85h1.3v1.3h-1.3zM458.85 191.85h2.3v1.3h-2.3zM475.85 191.85h1.3v1.3h-1.3zM484.85 191.85h1.3v1.3h-1.3zM318.85 192.85h1.3v1.3h-1.3zM321.85 192.85h2.3v1.3h-2.3zM324.85 192.85h19.3v1.3h-19.3zM344.85 192.85h2.3v1.3h-2.3zM347.85 192.85h5.3v1.3h-5.3zM353.85 192.85h4.3v1.3h-4.3zM358.85 192.85h4.3v1.3h-4.3zM372.85 192.85h2.3v1.3h-2.3zM376.85 192.85h1.3v1.3h-1.3zM437.85 192.85h3.3v1.3h-3.3zM442.85 192.85h2.3v1.3h-2.3zM451.85 192.85h1.3v1.3h-1.3zM455.85 192.85h1.3v1.3h-1.3zM457.85 192.85h1.3v1.3h-1.3zM459.85 192.85h2.3v1.3h-2.3zM467.85 192.85h1.3v1.3h-1.3zM469.85 192.85h1.3v1.3h-1.3zM472.85 192.85h1.3v1.3h-1.3zM318.85 193.85h3.3v1.3h-3.3zM322.85 193.85h13.3v1.3h-13.3zM337.85 193.85h17.3v1.3h-17.3zM355.85 193.85h4.3v1.3h-4.3zM360.85 193.85h3.3v1.3h-3.3zM365.85 193.85h2.3v1.3h-2.3zM368.85 193.85h2.3v1.3h-2.3zM372.85 193.85h2.3v1.3h-2.3zM433.85 193.85h1.3v1.3h-1.3zM436.85 193.85h1.3v1.3h-1.3zM438.85 193.85h3.3v1.3h-3.3zM443.85 193.85h1.3v1.3h-1.3zM446.85 193.85h2.3v1.3h-2.3zM449.85 193.85h4.3v1.3h-4.3zM455.85 193.85h3.3v1.3h-3.3zM460.85 193.85h13.3v1.3h-13.3zM317.85 194.85h2.3v1.3h-2.3zM320.85 194.85h2.3v1.3h-2.3zM323.85 194.85h7.3v1.3h-7.3zM331.85 194.85h3.3v1.3h-3.3zM335.85 194.85h22.3v1.3h-22.3zM358.85 194.85h5.3v1.3h-5.3zM365.85 194.85h8.3v1.3h-8.3zM374.85 194.85h2.3v1.3h-2.3zM424.85 194.85h5.3v1.3h-5.3zM430.85 194.85h6.3v1.3h-6.3zM437.85 194.85h3.3v1.3h-3.3zM441.85 194.85h1.3v1.3h-1.3zM443.85 194.85h2.3v1.3h-2.3zM446.85 194.85h2.3v1.3h-2.3zM449.85 194.85h2.3v1.3h-2.3zM452.85 194.85h4.3v1.3h-4.3zM459.85 194.85h1.3v1.3h-1.3zM463.85 194.85h5.3v1.3h-5.3zM469.85 194.85h6.3v1.3h-6.3zM480.85 194.85h1.3v1.3h-1.3zM483.85 194.85h1.3v1.3h-1.3zM309.85 195.85h1.3v1.3h-1.3zM320.85 195.85h1.3v1.3h-1.3zM322.85 195.85h11.3v1.3h-11.3zM334.85 195.85h14.3v1.3h-14.3zM350.85 195.85h2.3v1.3h-2.3zM353.85 195.85h3.3v1.3h-3.3zM357.85 195.85h13.3v1.3h-13.3zM372.85 195.85h4.3v1.3h-4.3zM377.85 195.85h1.3v1.3h-1.3zM423.85 195.85h2.3v1.3h-2.3zM428.85 195.85h3.3v1.3h-3.3zM433.85 195.85h3.3v1.3h-3.3zM437.85 195.85h2.3v1.3h-2.3zM441.85 195.85h8.3v1.3h-8.3zM452.85 195.85h8.3v1.3h-8.3zM462.85 195.85h2.3v1.3h-2.3zM466.85 195.85h1.3v1.3h-1.3zM469.85 195.85h5.3v1.3h-5.3zM477.85 195.85h1.3v1.3h-1.3zM479.85 195.85h2.3v1.3h-2.3zM316.85 196.85h3.3v1.3h-3.3zM320.85 196.85h17.3v1.3h-17.3zM338.85 196.85h28.3v1.3h-28.3zM367.85 196.85h5.3v1.3h-5.3zM373.85 196.85h1.3v1.3h-1.3zM377.85 196.85h1.3v1.3h-1.3zM425.85 196.85h7.3v1.3h-7.3zM433.85 196.85h1.3v1.3h-1.3zM435.85 196.85h5.3v1.3h-5.3zM441.85 196.85h2.3v1.3h-2.3zM444.85 196.85h1.3v1.3h-1.3zM446.85 196.85h2.3v1.3h-2.3zM450.85 196.85h3.3v1.3h-3.3zM455.85 196.85h2.3v1.3h-2.3zM460.85 196.85h1.3v1.3h-1.3zM463.85 196.85h1.3v1.3h-1.3zM465.85 196.85h6.3v1.3h-6.3zM472.85 196.85h2.3v1.3h-2.3zM475.85 196.85h3.3v1.3h-3.3zM479.85 196.85h2.3v1.3h-2.3zM482.85 196.85h1.3v1.3h-1.3zM310.85 197.85h1.3v1.3h-1.3zM312.85 197.85h1.3v1.3h-1.3zM315.85 197.85h3.3v1.3h-3.3zM319.85 197.85h3.3v1.3h-3.3zM323.85 197.85h1.3v1.3h-1.3zM325.85 197.85h6.3v1.3h-6.3zM332.85 197.85h1.3v1.3h-1.3zM334.85 197.85h13.3v1.3h-13.3zM348.85 197.85h11.3v1.3h-11.3zM360.85 197.85h1.3v1.3h-1.3zM362.85 197.85h12.3v1.3h-12.3zM417.85 197.85h1.3v1.3h-1.3zM419.85 197.85h1.3v1.3h-1.3zM422.85 197.85h2.3v1.3h-2.3zM425.85 197.85h1.3v1.3h-1.3zM427.85 197.85h1.3v1.3h-1.3zM429.85 197.85h1.3v1.3h-1.3zM432.85 197.85h1.3v1.3h-1.3zM435.85 197.85h4.3v1.3h-4.3zM440.85 197.85h3.3v1.3h-3.3zM444.85 197.85h3.3v1.3h-3.3zM448.85 197.85h4.3v1.3h-4.3zM453.85 197.85h1.3v1.3h-1.3zM458.85 197.85h1.3v1.3h-1.3zM463.85 197.85h4.3v1.3h-4.3zM468.85 197.85h1.3v1.3h-1.3zM470.85 197.85h3.3v1.3h-3.3zM474.85 197.85h2.3v1.3h-2.3zM478.85 197.85h1.3v1.3h-1.3zM305.85 198.85h1.3v1.3h-1.3zM310.85 198.85h13.3v1.3h-13.3zM324.85 198.85h25.3v1.3h-25.3zM351.85 198.85h2.3v1.3h-2.3zM354.85 198.85h20.3v1.3h-20.3zM415.85 198.85h2.3v1.3h-2.3zM418.85 198.85h1.3v1.3h-1.3zM422.85 198.85h1.3v1.3h-1.3zM425.85 198.85h1.3v1.3h-1.3zM427.85 198.85h2.3v1.3h-2.3zM430.85 198.85h1.3v1.3h-1.3zM437.85 198.85h5.3v1.3h-5.3zM444.85 198.85h4.3v1.3h-4.3zM449.85 198.85h3.3v1.3h-3.3zM453.85 198.85h4.3v1.3h-4.3zM458.85 198.85h8.3v1.3h-8.3zM467.85 198.85h1.3v1.3h-1.3zM469.85 198.85h5.3v1.3h-5.3zM475.85 198.85h6.3v1.3h-6.3zM482.85 198.85h2.3v1.3h-2.3zM298.85 199.85h1.3v1.3h-1.3zM309.85 199.85h1.3v1.3h-1.3zM313.85 199.85h1.3v1.3h-1.3zM316.85 199.85h18.3v1.3h-18.3zM335.85 199.85h3.3v1.3h-3.3zM339.85 199.85h8.3v1.3h-8.3zM348.85 199.85h2.3v1.3h-2.3zM352.85 199.85h8.3v1.3h-8.3zM361.85 199.85h2.3v1.3h-2.3zM364.85 199.85h2.3v1.3h-2.3zM368.85 199.85h1.3v1.3h-1.3zM370.85 199.85h1.3v1.3h-1.3zM421.85 199.85h5.3v1.3h-5.3zM427.85 199.85h3.3v1.3h-3.3zM432.85 199.85h4.3v1.3h-4.3zM438.85 199.85h1.3v1.3h-1.3zM440.85 199.85h14.3v1.3h-14.3zM459.85 199.85h4.3v1.3h-4.3zM464.85 199.85h1.3v1.3h-1.3zM467.85 199.85h5.3v1.3h-5.3zM473.85 199.85h3.3v1.3h-3.3zM478.85 199.85h1.3v1.3h-1.3zM480.85 199.85h2.3v1.3h-2.3zM300.85 200.85h1.3v1.3h-1.3zM305.85 200.85h1.3v1.3h-1.3zM311.85 200.85h1.3v1.3h-1.3zM313.85 200.85h19.3v1.3h-19.3zM333.85 200.85h2.3v1.3h-2.3zM336.85 200.85h23.3v1.3h-23.3zM364.85 200.85h1.3v1.3h-1.3zM366.85 200.85h1.3v1.3h-1.3zM371.85 200.85h1.3v1.3h-1.3zM424.85 200.85h2.3v1.3h-2.3zM427.85 200.85h5.3v1.3h-5.3zM434.85 200.85h1.3v1.3h-1.3zM436.85 200.85h1.3v1.3h-1.3zM439.85 200.85h4.3v1.3h-4.3zM444.85 200.85h6.3v1.3h-6.3zM451.85 200.85h1.3v1.3h-1.3zM453.85 200.85h5.3v1.3h-5.3zM459.85 200.85h3.3v1.3h-3.3zM463.85 200.85h3.3v1.3h-3.3zM467.85 200.85h2.3v1.3h-2.3zM470.85 200.85h1.3v1.3h-1.3zM473.85 200.85h1.3v1.3h-1.3zM475.85 200.85h3.3v1.3h-3.3zM481.85 200.85h2.3v1.3h-2.3zM484.85 200.85h1.3v1.3h-1.3zM294.85 201.85h1.3v1.3h-1.3zM297.85 201.85h1.3v1.3h-1.3zM301.85 201.85h1.3v1.3h-1.3zM303.85 201.85h2.3v1.3h-2.3zM307.85 201.85h1.3v1.3h-1.3zM311.85 201.85h1.3v1.3h-1.3zM313.85 201.85h1.3v1.3h-1.3zM315.85 201.85h4.3v1.3h-4.3zM320.85 201.85h2.3v1.3h-2.3zM324.85 201.85h10.3v1.3h-10.3zM335.85 201.85h7.3v1.3h-7.3zM343.85 201.85h4.3v1.3h-4.3zM348.85 201.85h15.3v1.3h-15.3zM364.85 201.85h2.3v1.3h-2.3zM368.85 201.85h2.3v1.3h-2.3zM422.85 201.85h1.3v1.3h-1.3zM431.85 201.85h6.3v1.3h-6.3zM438.85 201.85h5.3v1.3h-5.3zM444.85 201.85h1.3v1.3h-1.3zM446.85 201.85h4.3v1.3h-4.3zM451.85 201.85h1.3v1.3h-1.3zM453.85 201.85h3.3v1.3h-3.3zM457.85 201.85h1.3v1.3h-1.3zM459.85 201.85h1.3v1.3h-1.3zM461.85 201.85h2.3v1.3h-2.3zM464.85 201.85h2.3v1.3h-2.3zM467.85 201.85h1.3v1.3h-1.3zM470.85 201.85h1.3v1.3h-1.3zM474.85 201.85h3.3v1.3h-3.3zM478.85 201.85h2.3v1.3h-2.3zM481.85 201.85h1.3v1.3h-1.3zM483.85 201.85h1.3v1.3h-1.3zM301.85 202.85h2.3v1.3h-2.3zM304.85 202.85h6.3v1.3h-6.3zM311.85 202.85h2.3v1.3h-2.3zM314.85 202.85h8.3v1.3h-8.3zM323.85 202.85h1.3v1.3h-1.3zM325.85 202.85h26.3v1.3h-26.3zM352.85 202.85h5.3v1.3h-5.3zM359.85 202.85h3.3v1.3h-3.3zM363.85 202.85h3.3v1.3h-3.3zM432.85 202.85h3.3v1.3h-3.3zM437.85 202.85h1.3v1.3h-1.3zM442.85 202.85h1.3v1.3h-1.3zM444.85 202.85h3.3v1.3h-3.3zM448.85 202.85h3.3v1.3h-3.3zM452.85 202.85h2.3v1.3h-2.3zM455.85 202.85h8.3v1.3h-8.3zM464.85 202.85h1.3v1.3h-1.3zM466.85 202.85h1.3v1.3h-1.3zM468.85 202.85h1.3v1.3h-1.3zM470.85 202.85h5.3v1.3h-5.3zM476.85 202.85h1.3v1.3h-1.3zM478.85 202.85h1.3v1.3h-1.3zM480.85 202.85h3.3v1.3h-3.3zM302.85 203.85h15.3v1.3h-15.3zM319.85 203.85h6.3v1.3h-6.3zM326.85 203.85h2.3v1.3h-2.3zM329.85 203.85h23.3v1.3h-23.3zM353.85 203.85h1.3v1.3h-1.3zM356.85 203.85h1.3v1.3h-1.3zM424.85 203.85h1.3v1.3h-1.3zM428.85 203.85h2.3v1.3h-2.3zM435.85 203.85h1.3v1.3h-1.3zM438.85 203.85h5.3v1.3h-5.3zM444.85 203.85h1.3v1.3h-1.3zM446.85 203.85h4.3v1.3h-4.3zM451.85 203.85h1.3v1.3h-1.3zM454.85 203.85h5.3v1.3h-5.3zM460.85 203.85h1.3v1.3h-1.3zM463.85 203.85h3.3v1.3h-3.3zM467.85 203.85h1.3v1.3h-1.3zM471.85 203.85h3.3v1.3h-3.3zM475.85 203.85h1.3v1.3h-1.3zM477.85 203.85h1.3v1.3h-1.3zM479.85 203.85h1.3v1.3h-1.3zM481.85 203.85h1.3v1.3h-1.3zM300.85 204.85h1.3v1.3h-1.3zM302.85 204.85h2.3v1.3h-2.3zM305.85 204.85h1.3v1.3h-1.3zM308.85 204.85h3.3v1.3h-3.3zM312.85 204.85h10.3v1.3h-10.3zM325.85 204.85h1.3v1.3h-1.3zM331.85 204.85h13.3v1.3h-13.3zM346.85 204.85h1.3v1.3h-1.3zM351.85 204.85h1.3v1.3h-1.3zM353.85 204.85h1.3v1.3h-1.3zM427.85 204.85h4.3v1.3h-4.3zM435.85 204.85h5.3v1.3h-5.3zM441.85 204.85h1.3v1.3h-1.3zM443.85 204.85h2.3v1.3h-2.3zM448.85 204.85h6.3v1.3h-6.3zM455.85 204.85h6.3v1.3h-6.3zM462.85 204.85h3.3v1.3h-3.3zM466.85 204.85h1.3v1.3h-1.3zM469.85 204.85h3.3v1.3h-3.3zM473.85 204.85h1.3v1.3h-1.3zM477.85 204.85h1.3v1.3h-1.3zM479.85 204.85h1.3v1.3h-1.3zM484.85 204.85h1.3v1.3h-1.3zM296.85 205.85h1.3v1.3h-1.3zM303.85 205.85h1.3v1.3h-1.3zM307.85 205.85h7.3v1.3h-7.3zM315.85 205.85h1.3v1.3h-1.3zM319.85 205.85h1.3v1.3h-1.3zM330.85 205.85h2.3v1.3h-2.3zM333.85 205.85h2.3v1.3h-2.3zM336.85 205.85h8.3v1.3h-8.3zM345.85 205.85h2.3v1.3h-2.3zM348.85 205.85h2.3v1.3h-2.3zM358.85 205.85h1.3v1.3h-1.3zM428.85 205.85h3.3v1.3h-3.3zM434.85 205.85h3.3v1.3h-3.3zM440.85 205.85h1.3v1.3h-1.3zM448.85 205.85h1.3v1.3h-1.3zM450.85 205.85h1.3v1.3h-1.3zM453.85 205.85h1.3v1.3h-1.3zM455.85 205.85h1.3v1.3h-1.3zM458.85 205.85h1.3v1.3h-1.3zM461.85 205.85h1.3v1.3h-1.3zM463.85 205.85h1.3v1.3h-1.3zM465.85 205.85h1.3v1.3h-1.3zM467.85 205.85h1.3v1.3h-1.3zM470.85 205.85h1.3v1.3h-1.3zM476.85 205.85h1.3v1.3h-1.3zM481.85 205.85h2.3v1.3h-2.3zM298.85 206.85h1.3v1.3h-1.3zM303.85 206.85h1.3v1.3h-1.3zM311.85 206.85h3.3v1.3h-3.3zM315.85 206.85h1.3v1.3h-1.3zM327.85 206.85h1.3v1.3h-1.3zM329.85 206.85h1.3v1.3h-1.3zM334.85 206.85h1.3v1.3h-1.3zM337.85 206.85h1.3v1.3h-1.3zM340.85 206.85h2.3v1.3h-2.3zM345.85 206.85h1.3v1.3h-1.3zM347.85 206.85h1.3v1.3h-1.3zM350.85 206.85h1.3v1.3h-1.3zM355.85 206.85h1.3v1.3h-1.3zM445.85 206.85h1.3v1.3h-1.3zM461.85 206.85h1.3v1.3h-1.3zM470.85 206.85h1.3v1.3h-1.3zM477.85 206.85h1.3v1.3h-1.3zM485.85 206.85h1.3v1.3h-1.3zM303.85 207.85h1.3v1.3h-1.3zM309.85 207.85h1.3v1.3h-1.3zM313.85 207.85h1.3v1.3h-1.3zM322.85 207.85h1.3v1.3h-1.3zM327.85 207.85h1.3v1.3h-1.3zM330.85 207.85h1.3v1.3h-1.3zM338.85 207.85h2.3v1.3h-2.3zM342.85 207.85h1.3v1.3h-1.3zM344.85 207.85h3.3v1.3h-3.3zM358.85 207.85h1.3v1.3h-1.3zM437.85 207.85h2.3v1.3h-2.3zM442.85 207.85h3.3v1.3h-3.3zM446.85 207.85h2.3v1.3h-2.3zM460.85 207.85h1.3v1.3h-1.3zM470.85 207.85h1.3v1.3h-1.3zM473.85 207.85h1.3v1.3h-1.3zM340.85 208.85h1.3v1.3h-1.3zM345.85 208.85h1.3v1.3h-1.3zM348.85 208.85h1.3v1.3h-1.3zM350.85 208.85h1.3v1.3h-1.3zM428.85 208.85h1.3v1.3h-1.3zM444.85 208.85h1.3v1.3h-1.3zM448.85 208.85h1.3v1.3h-1.3zM457.85 208.85h1.3v1.3h-1.3zM478.85 208.85h1.3v1.3h-1.3zM334.85 209.85h1.3v1.3h-1.3zM338.85 209.85h1.3v1.3h-1.3zM341.85 209.85h2.3v1.3h-2.3zM345.85 209.85h3.3v1.3h-3.3zM349.85 209.85h1.3v1.3h-1.3zM355.85 209.85h1.3v1.3h-1.3zM442.85 209.85h1.3v1.3h-1.3zM448.85 209.85h1.3v1.3h-1.3zM460.85 209.85h1.3v1.3h-1.3zM467.85 209.85h1.3v1.3h-1.3zM471.85 209.85h1.3v1.3h-1.3zM327.85 210.85h1.3v1.3h-1.3zM332.85 210.85h1.3v1.3h-1.3zM334.85 210.85h2.3v1.3h-2.3zM337.85 210.85h4.3v1.3h-4.3zM342.85 210.85h1.3v1.3h-1.3zM344.85 210.85h1.3v1.3h-1.3zM347.85 210.85h1.3v1.3h-1.3zM350.85 210.85h3.3v1.3h-3.3zM453.85 210.85h1.3v1.3h-1.3zM456.85 210.85h1.3v1.3h-1.3zM467.85 210.85h1.3v1.3h-1.3zM470.85 210.85h1.3v1.3h-1.3zM477.85 210.85h1.3v1.3h-1.3zM480.85 210.85h1.3v1.3h-1.3zM487.85 210.85h1.3v1.3h-1.3zM318.85 211.85h1.3v1.3h-1.3zM332.85 211.85h3.3v1.3h-3.3zM336.85 211.85h5.3v1.3h-5.3zM342.85 211.85h4.3v1.3h-4.3zM348.85 211.85h2.3v1.3h-2.3zM351.85 211.85h1.3v1.3h-1.3zM430.85 211.85h1.3v1.3h-1.3zM442.85 211.85h2.3v1.3h-2.3zM445.85 211.85h1.3v1.3h-1.3zM447.85 211.85h1.3v1.3h-1.3zM453.85 211.85h1.3v1.3h-1.3zM460.85 211.85h1.3v1.3h-1.3zM476.85 211.85h1.3v1.3h-1.3zM319.85 212.85h1.3v1.3h-1.3zM326.85 212.85h1.3v1.3h-1.3zM330.85 212.85h1.3v1.3h-1.3zM332.85 212.85h5.3v1.3h-5.3zM339.85 212.85h11.3v1.3h-11.3zM361.85 212.85h2.3v1.3h-2.3zM364.85 212.85h1.3v1.3h-1.3zM434.85 212.85h1.3v1.3h-1.3zM438.85 212.85h1.3v1.3h-1.3zM447.85 212.85h1.3v1.3h-1.3zM449.85 212.85h1.3v1.3h-1.3zM460.85 212.85h2.3v1.3h-2.3zM313.85 213.85h1.3v1.3h-1.3zM323.85 213.85h1.3v1.3h-1.3zM329.85 213.85h9.3v1.3h-9.3zM339.85 213.85h17.3v1.3h-17.3zM367.85 213.85h3.3v1.3h-3.3zM422.85 213.85h1.3v1.3h-1.3zM437.85 213.85h1.3v1.3h-1.3zM439.85 213.85h4.3v1.3h-4.3zM452.85 213.85h6.3v1.3h-6.3zM460.85 213.85h1.3v1.3h-1.3zM462.85 213.85h1.3v1.3h-1.3zM464.85 213.85h1.3v1.3h-1.3zM485.85 213.85h1.3v1.3h-1.3zM324.85 214.85h1.3v1.3h-1.3zM326.85 214.85h24.3v1.3h-24.3zM351.85 214.85h5.3v1.3h-5.3zM357.85 214.85h1.3v1.3h-1.3zM359.85 214.85h1.3v1.3h-1.3zM361.85 214.85h1.3v1.3h-1.3zM363.85 214.85h1.3v1.3h-1.3zM365.85 214.85h1.3v1.3h-1.3zM370.85 214.85h1.3v1.3h-1.3zM428.85 214.85h1.3v1.3h-1.3zM435.85 214.85h1.3v1.3h-1.3zM442.85 214.85h1.3v1.3h-1.3zM449.85 214.85h1.3v1.3h-1.3zM454.85 214.85h1.3v1.3h-1.3zM456.85 214.85h2.3v1.3h-2.3zM460.85 214.85h5.3v1.3h-5.3zM468.85 214.85h1.3v1.3h-1.3zM470.85 214.85h1.3v1.3h-1.3zM472.85 214.85h3.3v1.3h-3.3zM476.85 214.85h1.3v1.3h-1.3zM311.85 215.85h1.3v1.3h-1.3zM317.85 215.85h1.3v1.3h-1.3zM321.85 215.85h1.3v1.3h-1.3zM323.85 215.85h7.3v1.3h-7.3zM331.85 215.85h4.3v1.3h-4.3zM336.85 215.85h4.3v1.3h-4.3zM341.85 215.85h1.3v1.3h-1.3zM343.85 215.85h20.3v1.3h-20.3zM365.85 215.85h1.3v1.3h-1.3zM377.85 215.85h1.3v1.3h-1.3zM424.85 215.85h2.3v1.3h-2.3zM429.85 215.85h1.3v1.3h-1.3zM436.85 215.85h2.3v1.3h-2.3zM441.85 215.85h1.3v1.3h-1.3zM445.85 215.85h1.3v1.3h-1.3zM447.85 215.85h3.3v1.3h-3.3zM452.85 215.85h3.3v1.3h-3.3zM456.85 215.85h3.3v1.3h-3.3zM460.85 215.85h5.3v1.3h-5.3zM466.85 215.85h3.3v1.3h-3.3zM474.85 215.85h1.3v1.3h-1.3zM307.85 216.85h1.3v1.3h-1.3zM320.85 216.85h1.3v1.3h-1.3zM324.85 216.85h1.3v1.3h-1.3zM327.85 216.85h1.3v1.3h-1.3zM329.85 216.85h2.3v1.3h-2.3zM332.85 216.85h25.3v1.3h-25.3zM358.85 216.85h1.3v1.3h-1.3zM360.85 216.85h3.3v1.3h-3.3zM368.85 216.85h3.3v1.3h-3.3zM420.85 216.85h1.3v1.3h-1.3zM425.85 216.85h2.3v1.3h-2.3zM428.85 216.85h2.3v1.3h-2.3zM431.85 216.85h1.3v1.3h-1.3zM434.85 216.85h4.3v1.3h-4.3zM439.85 216.85h2.3v1.3h-2.3zM442.85 216.85h1.3v1.3h-1.3zM444.85 216.85h6.3v1.3h-6.3zM451.85 216.85h4.3v1.3h-4.3zM456.85 216.85h2.3v1.3h-2.3zM459.85 216.85h7.3v1.3h-7.3zM468.85 216.85h2.3v1.3h-2.3zM471.85 216.85h2.3v1.3h-2.3zM474.85 216.85h1.3v1.3h-1.3zM476.85 216.85h1.3v1.3h-1.3zM479.85 216.85h1.3v1.3h-1.3zM484.85 216.85h1.3v1.3h-1.3zM308.85 217.85h1.3v1.3h-1.3zM314.85 217.85h1.3v1.3h-1.3zM316.85 217.85h4.3v1.3h-4.3zM321.85 217.85h1.3v1.3h-1.3zM323.85 217.85h1.3v1.3h-1.3zM325.85 217.85h9.3v1.3h-9.3zM335.85 217.85h6.3v1.3h-6.3zM342.85 217.85h6.3v1.3h-6.3zM349.85 217.85h15.3v1.3h-15.3zM366.85 217.85h2.3v1.3h-2.3zM369.85 217.85h4.3v1.3h-4.3zM423.85 217.85h1.3v1.3h-1.3zM428.85 217.85h10.3v1.3h-10.3zM440.85 217.85h12.3v1.3h-12.3zM453.85 217.85h2.3v1.3h-2.3zM456.85 217.85h3.3v1.3h-3.3zM460.85 217.85h2.3v1.3h-2.3zM464.85 217.85h9.3v1.3h-9.3zM474.85 217.85h1.3v1.3h-1.3zM478.85 217.85h3.3v1.3h-3.3zM485.85 217.85h1.3v1.3h-1.3zM304.85 218.85h1.3v1.3h-1.3zM313.85 218.85h34.3v1.3h-34.3zM348.85 218.85h9.3v1.3h-9.3zM358.85 218.85h14.3v1.3h-14.3zM374.85 218.85h3.3v1.3h-3.3zM415.85 218.85h1.3v1.3h-1.3zM418.85 218.85h1.3v1.3h-1.3zM421.85 218.85h6.3v1.3h-6.3zM428.85 218.85h6.3v1.3h-6.3zM436.85 218.85h2.3v1.3h-2.3zM439.85 218.85h15.3v1.3h-15.3zM456.85 218.85h1.3v1.3h-1.3zM458.85 218.85h11.3v1.3h-11.3zM470.85 218.85h12.3v1.3h-12.3zM303.85 219.85h1.3v1.3h-1.3zM305.85 219.85h1.3v1.3h-1.3zM309.85 219.85h5.3v1.3h-5.3zM315.85 219.85h13.3v1.3h-13.3zM329.85 219.85h14.3v1.3h-14.3zM344.85 219.85h5.3v1.3h-5.3zM350.85 219.85h8.3v1.3h-8.3zM359.85 219.85h11.3v1.3h-11.3zM386.85 219.85h1.3v1.3h-1.3zM422.85 219.85h1.3v1.3h-1.3zM425.85 219.85h1.3v1.3h-1.3zM427.85 219.85h7.3v1.3h-7.3zM435.85 219.85h1.3v1.3h-1.3zM437.85 219.85h7.3v1.3h-7.3zM445.85 219.85h1.3v1.3h-1.3zM447.85 219.85h11.3v1.3h-11.3zM459.85 219.85h2.3v1.3h-2.3zM463.85 219.85h12.3v1.3h-12.3zM476.85 219.85h3.3v1.3h-3.3zM480.85 219.85h4.3v1.3h-4.3zM487.85 219.85h2.3v1.3h-2.3zM302.85 220.85h1.3v1.3h-1.3zM307.85 220.85h1.3v1.3h-1.3zM309.85 220.85h5.3v1.3h-5.3zM315.85 220.85h14.3v1.3h-14.3zM330.85 220.85h43.3v1.3h-43.3zM376.85 220.85h1.3v1.3h-1.3zM378.85 220.85h2.3v1.3h-2.3zM424.85 220.85h13.3v1.3h-13.3zM438.85 220.85h2.3v1.3h-2.3zM441.85 220.85h5.3v1.3h-5.3zM447.85 220.85h1.3v1.3h-1.3zM450.85 220.85h6.3v1.3h-6.3zM457.85 220.85h3.3v1.3h-3.3zM461.85 220.85h6.3v1.3h-6.3zM468.85 220.85h2.3v1.3h-2.3zM473.85 220.85h4.3v1.3h-4.3zM479.85 220.85h5.3v1.3h-5.3zM490.85 220.85h1.3v1.3h-1.3zM300.85 221.85h4.3v1.3h-4.3zM305.85 221.85h1.3v1.3h-1.3zM307.85 221.85h2.3v1.3h-2.3zM310.85 221.85h15.3v1.3h-15.3zM326.85 221.85h23.3v1.3h-23.3zM350.85 221.85h18.3v1.3h-18.3zM369.85 221.85h4.3v1.3h-4.3zM374.85 221.85h1.3v1.3h-1.3zM383.85 221.85h1.3v1.3h-1.3zM420.85 221.85h2.3v1.3h-2.3zM423.85 221.85h5.3v1.3h-5.3zM430.85 221.85h8.3v1.3h-8.3zM440.85 221.85h2.3v1.3h-2.3zM445.85 221.85h9.3v1.3h-9.3zM456.85 221.85h6.3v1.3h-6.3zM463.85 221.85h4.3v1.3h-4.3zM468.85 221.85h8.3v1.3h-8.3zM477.85 221.85h1.3v1.3h-1.3zM479.85 221.85h3.3v1.3h-3.3zM483.85 221.85h1.3v1.3h-1.3zM485.85 221.85h2.3v1.3h-2.3zM488.85 221.85h3.3v1.3h-3.3zM493.85 221.85h2.3v1.3h-2.3zM299.85 222.85h1.3v1.3h-1.3zM301.85 222.85h1.3v1.3h-1.3zM303.85 222.85h1.3v1.3h-1.3zM305.85 222.85h1.3v1.3h-1.3zM307.85 222.85h1.3v1.3h-1.3zM310.85 222.85h10.3v1.3h-10.3zM321.85 222.85h12.3v1.3h-12.3zM334.85 222.85h3.3v1.3h-3.3zM339.85 222.85h2.3v1.3h-2.3zM342.85 222.85h22.3v1.3h-22.3zM365.85 222.85h11.3v1.3h-11.3zM385.85 222.85h1.3v1.3h-1.3zM415.85 222.85h6.3v1.3h-6.3zM422.85 222.85h2.3v1.3h-2.3zM426.85 222.85h12.3v1.3h-12.3zM439.85 222.85h4.3v1.3h-4.3zM445.85 222.85h3.3v1.3h-3.3zM449.85 222.85h2.3v1.3h-2.3zM453.85 222.85h6.3v1.3h-6.3zM463.85 222.85h14.3v1.3h-14.3zM478.85 222.85h2.3v1.3h-2.3zM484.85 222.85h2.3v1.3h-2.3zM487.85 222.85h4.3v1.3h-4.3zM493.85 222.85h2.3v1.3h-2.3zM295.85 223.85h1.3v1.3h-1.3zM299.85 223.85h34.3v1.3h-34.3zM334.85 223.85h15.3v1.3h-15.3zM350.85 223.85h7.3v1.3h-7.3zM358.85 223.85h19.3v1.3h-19.3zM383.85 223.85h1.3v1.3h-1.3zM385.85 223.85h1.3v1.3h-1.3zM421.85 223.85h2.3v1.3h-2.3zM424.85 223.85h1.3v1.3h-1.3zM426.85 223.85h7.3v1.3h-7.3zM436.85 223.85h3.3v1.3h-3.3zM440.85 223.85h1.3v1.3h-1.3zM444.85 223.85h10.3v1.3h-10.3zM456.85 223.85h1.3v1.3h-1.3zM458.85 223.85h1.3v1.3h-1.3zM460.85 223.85h2.3v1.3h-2.3zM463.85 223.85h2.3v1.3h-2.3zM466.85 223.85h2.3v1.3h-2.3zM469.85 223.85h7.3v1.3h-7.3zM477.85 223.85h2.3v1.3h-2.3zM481.85 223.85h1.3v1.3h-1.3zM491.85 223.85h3.3v1.3h-3.3zM291.85 224.85h1.3v1.3h-1.3zM297.85 224.85h15.3v1.3h-15.3zM313.85 224.85h15.3v1.3h-15.3zM329.85 224.85h18.3v1.3h-18.3zM348.85 224.85h19.3v1.3h-19.3zM368.85 224.85h12.3v1.3h-12.3zM381.85 224.85h1.3v1.3h-1.3zM416.85 224.85h1.3v1.3h-1.3zM418.85 224.85h3.3v1.3h-3.3zM422.85 224.85h5.3v1.3h-5.3zM428.85 224.85h12.3v1.3h-12.3zM441.85 224.85h2.3v1.3h-2.3zM444.85 224.85h1.3v1.3h-1.3zM446.85 224.85h3.3v1.3h-3.3zM450.85 224.85h5.3v1.3h-5.3zM458.85 224.85h11.3v1.3h-11.3zM470.85 224.85h3.3v1.3h-3.3zM474.85 224.85h2.3v1.3h-2.3zM477.85 224.85h1.3v1.3h-1.3zM479.85 224.85h3.3v1.3h-3.3zM483.85 224.85h2.3v1.3h-2.3zM488.85 224.85h1.3v1.3h-1.3zM294.85 225.85h1.3v1.3h-1.3zM296.85 225.85h12.3v1.3h-12.3zM309.85 225.85h11.3v1.3h-11.3zM321.85 225.85h13.3v1.3h-13.3zM335.85 225.85h8.3v1.3h-8.3zM344.85 225.85h10.3v1.3h-10.3zM355.85 225.85h2.3v1.3h-2.3zM359.85 225.85h13.3v1.3h-13.3zM373.85 225.85h6.3v1.3h-6.3zM418.85 225.85h1.3v1.3h-1.3zM420.85 225.85h3.3v1.3h-3.3zM424.85 225.85h1.3v1.3h-1.3zM426.85 225.85h9.3v1.3h-9.3zM436.85 225.85h1.3v1.3h-1.3zM438.85 225.85h1.3v1.3h-1.3zM440.85 225.85h2.3v1.3h-2.3zM443.85 225.85h1.3v1.3h-1.3zM445.85 225.85h1.3v1.3h-1.3zM447.85 225.85h4.3v1.3h-4.3zM452.85 225.85h1.3v1.3h-1.3zM454.85 225.85h1.3v1.3h-1.3zM457.85 225.85h3.3v1.3h-3.3zM463.85 225.85h1.3v1.3h-1.3zM465.85 225.85h1.3v1.3h-1.3zM467.85 225.85h10.3v1.3h-10.3zM478.85 225.85h2.3v1.3h-2.3zM297.85 226.85h9.3v1.3h-9.3zM307.85 226.85h9.3v1.3h-9.3zM317.85 226.85h3.3v1.3h-3.3zM321.85 226.85h1.3v1.3h-1.3zM323.85 226.85h3.3v1.3h-3.3zM327.85 226.85h35.3v1.3h-35.3zM363.85 226.85h12.3v1.3h-12.3zM376.85 226.85h2.3v1.3h-2.3zM379.85 226.85h1.3v1.3h-1.3zM383.85 226.85h1.3v1.3h-1.3zM412.85 226.85h1.3v1.3h-1.3zM419.85 226.85h1.3v1.3h-1.3zM421.85 226.85h1.3v1.3h-1.3zM423.85 226.85h16.3v1.3h-16.3zM440.85 226.85h1.3v1.3h-1.3zM442.85 226.85h1.3v1.3h-1.3zM446.85 226.85h1.3v1.3h-1.3zM448.85 226.85h2.3v1.3h-2.3zM452.85 226.85h1.3v1.3h-1.3zM454.85 226.85h3.3v1.3h-3.3zM460.85 226.85h5.3v1.3h-5.3zM466.85 226.85h1.3v1.3h-1.3zM469.85 226.85h4.3v1.3h-4.3zM474.85 226.85h1.3v1.3h-1.3zM476.85 226.85h3.3v1.3h-3.3zM289.85 227.85h1.3v1.3h-1.3zM300.85 227.85h14.3v1.3h-14.3zM315.85 227.85h2.3v1.3h-2.3zM318.85 227.85h2.3v1.3h-2.3zM321.85 227.85h2.3v1.3h-2.3zM324.85 227.85h21.3v1.3h-21.3zM346.85 227.85h21.3v1.3h-21.3zM368.85 227.85h4.3v1.3h-4.3zM373.85 227.85h1.3v1.3h-1.3zM375.85 227.85h1.3v1.3h-1.3zM417.85 227.85h1.3v1.3h-1.3zM420.85 227.85h3.3v1.3h-3.3zM424.85 227.85h2.3v1.3h-2.3zM427.85 227.85h9.3v1.3h-9.3zM437.85 227.85h4.3v1.3h-4.3zM442.85 227.85h4.3v1.3h-4.3zM447.85 227.85h5.3v1.3h-5.3zM453.85 227.85h3.3v1.3h-3.3zM457.85 227.85h3.3v1.3h-3.3zM463.85 227.85h3.3v1.3h-3.3zM467.85 227.85h1.3v1.3h-1.3zM470.85 227.85h7.3v1.3h-7.3zM481.85 227.85h1.3v1.3h-1.3zM297.85 228.85h33.3v1.3h-33.3zM331.85 228.85h6.3v1.3h-6.3zM338.85 228.85h17.3v1.3h-17.3zM357.85 228.85h10.3v1.3h-10.3zM368.85 228.85h1.3v1.3h-1.3zM370.85 228.85h5.3v1.3h-5.3zM380.85 228.85h1.3v1.3h-1.3zM421.85 228.85h1.3v1.3h-1.3zM427.85 228.85h4.3v1.3h-4.3zM433.85 228.85h1.3v1.3h-1.3zM435.85 228.85h7.3v1.3h-7.3zM443.85 228.85h3.3v1.3h-3.3zM448.85 228.85h3.3v1.3h-3.3zM453.85 228.85h8.3v1.3h-8.3zM464.85 228.85h6.3v1.3h-6.3zM472.85 228.85h1.3v1.3h-1.3zM476.85 228.85h1.3v1.3h-1.3zM298.85 229.85h1.3v1.3h-1.3zM300.85 229.85h14.3v1.3h-14.3zM316.85 229.85h1.3v1.3h-1.3zM318.85 229.85h1.3v1.3h-1.3zM320.85 229.85h10.3v1.3h-10.3zM331.85 229.85h12.3v1.3h-12.3zM344.85 229.85h3.3v1.3h-3.3zM348.85 229.85h9.3v1.3h-9.3zM358.85 229.85h13.3v1.3h-13.3zM372.85 229.85h1.3v1.3h-1.3zM381.85 229.85h1.3v1.3h-1.3zM385.85 229.85h1.3v1.3h-1.3zM429.85 229.85h1.3v1.3h-1.3zM432.85 229.85h2.3v1.3h-2.3zM436.85 229.85h1.3v1.3h-1.3zM443.85 229.85h1.3v1.3h-1.3zM448.85 229.85h1.3v1.3h-1.3zM451.85 229.85h1.3v1.3h-1.3zM459.85 229.85h3.3v1.3h-3.3zM469.85 229.85h1.3v1.3h-1.3zM479.85 229.85h1.3v1.3h-1.3zM483.85 229.85h1.3v1.3h-1.3zM299.85 230.85h2.3v1.3h-2.3zM303.85 230.85h2.3v1.3h-2.3zM307.85 230.85h4.3v1.3h-4.3zM312.85 230.85h2.3v1.3h-2.3zM316.85 230.85h3.3v1.3h-3.3zM320.85 230.85h4.3v1.3h-4.3zM325.85 230.85h5.3v1.3h-5.3zM331.85 230.85h1.3v1.3h-1.3zM334.85 230.85h7.3v1.3h-7.3zM342.85 230.85h6.3v1.3h-6.3zM349.85 230.85h1.3v1.3h-1.3zM351.85 230.85h2.3v1.3h-2.3zM354.85 230.85h6.3v1.3h-6.3zM362.85 230.85h3.3v1.3h-3.3zM366.85 230.85h2.3v1.3h-2.3zM370.85 230.85h1.3v1.3h-1.3zM442.85 230.85h1.3v1.3h-1.3zM447.85 230.85h1.3v1.3h-1.3zM456.85 230.85h2.3v1.3h-2.3zM459.85 230.85h1.3v1.3h-1.3zM463.85 230.85h1.3v1.3h-1.3zM465.85 230.85h2.3v1.3h-2.3zM468.85 230.85h1.3v1.3h-1.3zM309.85 231.85h1.3v1.3h-1.3zM311.85 231.85h3.3v1.3h-3.3zM316.85 231.85h3.3v1.3h-3.3zM321.85 231.85h3.3v1.3h-3.3zM325.85 231.85h1.3v1.3h-1.3zM328.85 231.85h1.3v1.3h-1.3zM332.85 231.85h4.3v1.3h-4.3zM337.85 231.85h3.3v1.3h-3.3zM344.85 231.85h1.3v1.3h-1.3zM347.85 231.85h3.3v1.3h-3.3zM357.85 231.85h1.3v1.3h-1.3zM360.85 231.85h1.3v1.3h-1.3zM368.85 231.85h1.3v1.3h-1.3zM372.85 231.85h1.3v1.3h-1.3zM377.85 231.85h1.3v1.3h-1.3zM428.85 231.85h4.3v1.3h-4.3zM433.85 231.85h1.3v1.3h-1.3zM435.85 231.85h2.3v1.3h-2.3zM438.85 231.85h1.3v1.3h-1.3zM441.85 231.85h1.3v1.3h-1.3zM445.85 231.85h1.3v1.3h-1.3zM449.85 231.85h1.3v1.3h-1.3zM454.85 231.85h1.3v1.3h-1.3zM458.85 231.85h1.3v1.3h-1.3zM463.85 231.85h1.3v1.3h-1.3zM465.85 231.85h1.3v1.3h-1.3zM467.85 231.85h1.3v1.3h-1.3zM310.85 232.85h1.3v1.3h-1.3zM313.85 232.85h1.3v1.3h-1.3zM318.85 232.85h1.3v1.3h-1.3zM324.85 232.85h1.3v1.3h-1.3zM333.85 232.85h1.3v1.3h-1.3zM336.85 232.85h1.3v1.3h-1.3zM338.85 232.85h3.3v1.3h-3.3zM343.85 232.85h1.3v1.3h-1.3zM347.85 232.85h1.3v1.3h-1.3zM350.85 232.85h2.3v1.3h-2.3zM354.85 232.85h1.3v1.3h-1.3zM359.85 232.85h1.3v1.3h-1.3zM362.85 232.85h1.3v1.3h-1.3zM422.85 232.85h2.3v1.3h-2.3zM425.85 232.85h5.3v1.3h-5.3zM431.85 232.85h7.3v1.3h-7.3zM440.85 232.85h1.3v1.3h-1.3zM443.85 232.85h5.3v1.3h-5.3zM449.85 232.85h4.3v1.3h-4.3zM454.85 232.85h3.3v1.3h-3.3zM458.85 232.85h3.3v1.3h-3.3zM463.85 232.85h5.3v1.3h-5.3zM469.85 232.85h4.3v1.3h-4.3zM474.85 232.85h1.3v1.3h-1.3zM477.85 232.85h1.3v1.3h-1.3zM308.85 233.85h1.3v1.3h-1.3zM310.85 233.85h1.3v1.3h-1.3zM312.85 233.85h2.3v1.3h-2.3zM318.85 233.85h1.3v1.3h-1.3zM320.85 233.85h5.3v1.3h-5.3zM326.85 233.85h5.3v1.3h-5.3zM332.85 233.85h1.3v1.3h-1.3zM334.85 233.85h3.3v1.3h-3.3zM338.85 233.85h2.3v1.3h-2.3zM343.85 233.85h4.3v1.3h-4.3zM350.85 233.85h1.3v1.3h-1.3zM352.85 233.85h1.3v1.3h-1.3zM354.85 233.85h1.3v1.3h-1.3zM356.85 233.85h1.3v1.3h-1.3zM358.85 233.85h4.3v1.3h-4.3zM368.85 233.85h1.3v1.3h-1.3zM423.85 233.85h8.3v1.3h-8.3zM432.85 233.85h1.3v1.3h-1.3zM434.85 233.85h1.3v1.3h-1.3zM436.85 233.85h3.3v1.3h-3.3zM441.85 233.85h5.3v1.3h-5.3zM447.85 233.85h2.3v1.3h-2.3zM450.85 233.85h5.3v1.3h-5.3zM456.85 233.85h3.3v1.3h-3.3zM461.85 233.85h3.3v1.3h-3.3zM465.85 233.85h4.3v1.3h-4.3zM471.85 233.85h3.3v1.3h-3.3zM475.85 233.85h1.3v1.3h-1.3zM307.85 234.85h4.3v1.3h-4.3zM312.85 234.85h2.3v1.3h-2.3zM316.85 234.85h2.3v1.3h-2.3zM320.85 234.85h2.3v1.3h-2.3zM323.85 234.85h1.3v1.3h-1.3zM325.85 234.85h1.3v1.3h-1.3zM327.85 234.85h8.3v1.3h-8.3zM336.85 234.85h20.3v1.3h-20.3zM358.85 234.85h7.3v1.3h-7.3zM366.85 234.85h5.3v1.3h-5.3zM419.85 234.85h1.3v1.3h-1.3zM422.85 234.85h2.3v1.3h-2.3zM426.85 234.85h10.3v1.3h-10.3zM439.85 234.85h1.3v1.3h-1.3zM441.85 234.85h4.3v1.3h-4.3zM447.85 234.85h1.3v1.3h-1.3zM449.85 234.85h2.3v1.3h-2.3zM452.85 234.85h1.3v1.3h-1.3zM455.85 234.85h4.3v1.3h-4.3zM460.85 234.85h5.3v1.3h-5.3zM467.85 234.85h3.3v1.3h-3.3zM471.85 234.85h1.3v1.3h-1.3zM474.85 234.85h1.3v1.3h-1.3zM299.85 235.85h1.3v1.3h-1.3zM304.85 235.85h1.3v1.3h-1.3zM307.85 235.85h22.3v1.3h-22.3zM330.85 235.85h4.3v1.3h-4.3zM335.85 235.85h34.3v1.3h-34.3zM422.85 235.85h4.3v1.3h-4.3zM427.85 235.85h5.3v1.3h-5.3zM433.85 235.85h9.3v1.3h-9.3zM443.85 235.85h3.3v1.3h-3.3zM447.85 235.85h5.3v1.3h-5.3zM453.85 235.85h1.3v1.3h-1.3zM456.85 235.85h13.3v1.3h-13.3zM470.85 235.85h7.3v1.3h-7.3zM308.85 236.85h5.3v1.3h-5.3zM314.85 236.85h8.3v1.3h-8.3zM323.85 236.85h14.3v1.3h-14.3zM338.85 236.85h4.3v1.3h-4.3zM343.85 236.85h8.3v1.3h-8.3zM353.85 236.85h10.3v1.3h-10.3zM365.85 236.85h2.3v1.3h-2.3zM418.85 236.85h1.3v1.3h-1.3zM421.85 236.85h3.3v1.3h-3.3zM425.85 236.85h3.3v1.3h-3.3zM429.85 236.85h6.3v1.3h-6.3zM436.85 236.85h1.3v1.3h-1.3zM439.85 236.85h1.3v1.3h-1.3zM441.85 236.85h6.3v1.3h-6.3zM448.85 236.85h3.3v1.3h-3.3zM452.85 236.85h9.3v1.3h-9.3zM462.85 236.85h1.3v1.3h-1.3zM464.85 236.85h3.3v1.3h-3.3zM468.85 236.85h4.3v1.3h-4.3zM473.85 236.85h2.3v1.3h-2.3zM477.85 236.85h1.3v1.3h-1.3zM480.85 236.85h1.3v1.3h-1.3zM309.85 237.85h12.3v1.3h-12.3zM322.85 237.85h32.3v1.3h-32.3zM357.85 237.85h8.3v1.3h-8.3zM366.85 237.85h1.3v1.3h-1.3zM371.85 237.85h1.3v1.3h-1.3zM421.85 237.85h1.3v1.3h-1.3zM423.85 237.85h1.3v1.3h-1.3zM427.85 237.85h4.3v1.3h-4.3zM432.85 237.85h4.3v1.3h-4.3zM437.85 237.85h6.3v1.3h-6.3zM444.85 237.85h1.3v1.3h-1.3zM447.85 237.85h3.3v1.3h-3.3zM452.85 237.85h11.3v1.3h-11.3zM465.85 237.85h1.3v1.3h-1.3zM468.85 237.85h2.3v1.3h-2.3zM472.85 237.85h1.3v1.3h-1.3zM474.85 237.85h1.3v1.3h-1.3zM477.85 237.85h1.3v1.3h-1.3zM308.85 238.85h7.3v1.3h-7.3zM316.85 238.85h9.3v1.3h-9.3zM326.85 238.85h6.3v1.3h-6.3zM333.85 238.85h34.3v1.3h-34.3zM370.85 238.85h1.3v1.3h-1.3zM419.85 238.85h1.3v1.3h-1.3zM422.85 238.85h1.3v1.3h-1.3zM424.85 238.85h1.3v1.3h-1.3zM426.85 238.85h1.3v1.3h-1.3zM429.85 238.85h5.3v1.3h-5.3zM435.85 238.85h5.3v1.3h-5.3zM441.85 238.85h1.3v1.3h-1.3zM443.85 238.85h1.3v1.3h-1.3zM445.85 238.85h2.3v1.3h-2.3zM448.85 238.85h2.3v1.3h-2.3zM451.85 238.85h4.3v1.3h-4.3zM456.85 238.85h1.3v1.3h-1.3zM458.85 238.85h11.3v1.3h-11.3zM305.85 239.85h10.3v1.3h-10.3zM317.85 239.85h12.3v1.3h-12.3zM330.85 239.85h28.3v1.3h-28.3zM359.85 239.85h8.3v1.3h-8.3zM424.85 239.85h1.3v1.3h-1.3zM428.85 239.85h4.3v1.3h-4.3zM434.85 239.85h3.3v1.3h-3.3zM438.85 239.85h1.3v1.3h-1.3zM440.85 239.85h11.3v1.3h-11.3zM452.85 239.85h10.3v1.3h-10.3zM463.85 239.85h5.3v1.3h-5.3zM469.85 239.85h1.3v1.3h-1.3zM476.85 239.85h1.3v1.3h-1.3zM306.85 240.85h2.3v1.3h-2.3zM309.85 240.85h16.3v1.3h-16.3zM326.85 240.85h2.3v1.3h-2.3zM329.85 240.85h20.3v1.3h-20.3zM350.85 240.85h1.3v1.3h-1.3zM352.85 240.85h12.3v1.3h-12.3zM423.85 240.85h1.3v1.3h-1.3zM427.85 240.85h3.3v1.3h-3.3zM431.85 240.85h2.3v1.3h-2.3zM434.85 240.85h3.3v1.3h-3.3zM438.85 240.85h4.3v1.3h-4.3zM443.85 240.85h1.3v1.3h-1.3zM445.85 240.85h4.3v1.3h-4.3zM450.85 240.85h4.3v1.3h-4.3zM456.85 240.85h2.3v1.3h-2.3zM459.85 240.85h1.3v1.3h-1.3zM461.85 240.85h6.3v1.3h-6.3zM305.85 241.85h1.3v1.3h-1.3zM307.85 241.85h1.3v1.3h-1.3zM309.85 241.85h27.3v1.3h-27.3zM338.85 241.85h21.3v1.3h-21.3zM417.85 241.85h1.3v1.3h-1.3zM428.85 241.85h5.3v1.3h-5.3zM434.85 241.85h1.3v1.3h-1.3zM436.85 241.85h3.3v1.3h-3.3zM440.85 241.85h2.3v1.3h-2.3zM443.85 241.85h11.3v1.3h-11.3zM455.85 241.85h2.3v1.3h-2.3zM458.85 241.85h1.3v1.3h-1.3zM460.85 241.85h1.3v1.3h-1.3zM462.85 241.85h3.3v1.3h-3.3zM466.85 241.85h1.3v1.3h-1.3zM468.85 241.85h1.3v1.3h-1.3zM470.85 241.85h1.3v1.3h-1.3zM306.85 242.85h10.3v1.3h-10.3zM317.85 242.85h6.3v1.3h-6.3zM324.85 242.85h32.3v1.3h-32.3zM362.85 242.85h1.3v1.3h-1.3zM427.85 242.85h2.3v1.3h-2.3zM430.85 242.85h1.3v1.3h-1.3zM432.85 242.85h7.3v1.3h-7.3zM440.85 242.85h1.3v1.3h-1.3zM443.85 242.85h6.3v1.3h-6.3zM450.85 242.85h5.3v1.3h-5.3zM456.85 242.85h3.3v1.3h-3.3zM460.85 242.85h3.3v1.3h-3.3zM464.85 242.85h2.3v1.3h-2.3zM467.85 242.85h2.3v1.3h-2.3zM305.85 243.85h1.3v1.3h-1.3zM307.85 243.85h2.3v1.3h-2.3zM311.85 243.85h13.3v1.3h-13.3zM325.85 243.85h1.3v1.3h-1.3zM327.85 243.85h7.3v1.3h-7.3zM335.85 243.85h3.3v1.3h-3.3zM339.85 243.85h14.3v1.3h-14.3zM354.85 243.85h2.3v1.3h-2.3zM428.85 243.85h1.3v1.3h-1.3zM430.85 243.85h1.3v1.3h-1.3zM433.85 243.85h1.3v1.3h-1.3zM435.85 243.85h4.3v1.3h-4.3zM440.85 243.85h2.3v1.3h-2.3zM443.85 243.85h5.3v1.3h-5.3zM449.85 243.85h2.3v1.3h-2.3zM452.85 243.85h7.3v1.3h-7.3zM460.85 243.85h5.3v1.3h-5.3zM468.85 243.85h1.3v1.3h-1.3zM312.85 244.85h1.3v1.3h-1.3zM314.85 244.85h6.3v1.3h-6.3zM321.85 244.85h14.3v1.3h-14.3zM336.85 244.85h3.3v1.3h-3.3zM341.85 244.85h12.3v1.3h-12.3zM426.85 244.85h1.3v1.3h-1.3zM428.85 244.85h1.3v1.3h-1.3zM434.85 244.85h2.3v1.3h-2.3zM439.85 244.85h2.3v1.3h-2.3zM442.85 244.85h5.3v1.3h-5.3zM449.85 244.85h8.3v1.3h-8.3zM458.85 244.85h2.3v1.3h-2.3zM461.85 244.85h1.3v1.3h-1.3zM463.85 244.85h1.3v1.3h-1.3zM316.85 245.85h4.3v1.3h-4.3zM321.85 245.85h2.3v1.3h-2.3zM328.85 245.85h2.3v1.3h-2.3zM331.85 245.85h12.3v1.3h-12.3zM344.85 245.85h3.3v1.3h-3.3zM348.85 245.85h4.3v1.3h-4.3zM353.85 245.85h1.3v1.3h-1.3zM427.85 245.85h1.3v1.3h-1.3zM431.85 245.85h1.3v1.3h-1.3zM433.85 245.85h5.3v1.3h-5.3zM439.85 245.85h3.3v1.3h-3.3zM443.85 245.85h2.3v1.3h-2.3zM446.85 245.85h2.3v1.3h-2.3zM453.85 245.85h10.3v1.3h-10.3zM464.85 245.85h1.3v1.3h-1.3zM316.85 246.85h3.3v1.3h-3.3zM324.85 246.85h1.3v1.3h-1.3zM328.85 246.85h1.3v1.3h-1.3zM332.85 246.85h2.3v1.3h-2.3zM335.85 246.85h12.3v1.3h-12.3zM348.85 246.85h1.3v1.3h-1.3zM350.85 246.85h1.3v1.3h-1.3zM352.85 246.85h2.3v1.3h-2.3zM435.85 246.85h1.3v1.3h-1.3zM437.85 246.85h4.3v1.3h-4.3zM442.85 246.85h1.3v1.3h-1.3zM444.85 246.85h3.3v1.3h-3.3zM449.85 246.85h1.3v1.3h-1.3zM451.85 246.85h4.3v1.3h-4.3zM457.85 246.85h1.3v1.3h-1.3zM462.85 246.85h2.3v1.3h-2.3zM314.85 247.85h2.3v1.3h-2.3zM320.85 247.85h1.3v1.3h-1.3zM326.85 247.85h1.3v1.3h-1.3zM334.85 247.85h1.3v1.3h-1.3zM337.85 247.85h3.3v1.3h-3.3zM341.85 247.85h2.3v1.3h-2.3zM344.85 247.85h1.3v1.3h-1.3zM346.85 247.85h1.3v1.3h-1.3zM349.85 247.85h1.3v1.3h-1.3zM435.85 247.85h1.3v1.3h-1.3zM439.85 247.85h1.3v1.3h-1.3zM444.85 247.85h2.3v1.3h-2.3zM447.85 247.85h1.3v1.3h-1.3zM450.85 247.85h10.3v1.3h-10.3zM464.85 247.85h1.3v1.3h-1.3zM327.85 248.85h1.3v1.3h-1.3zM335.85 248.85h1.3v1.3h-1.3zM339.85 248.85h1.3v1.3h-1.3zM348.85 248.85h1.3v1.3h-1.3zM433.85 248.85h1.3v1.3h-1.3zM440.85 248.85h1.3v1.3h-1.3zM442.85 248.85h1.3v1.3h-1.3zM450.85 248.85h2.3v1.3h-2.3zM457.85 248.85h1.3v1.3h-1.3zM324.85 249.85h1.3v1.3h-1.3zM346.85 249.85h1.3v1.3h-1.3zM433.85 249.85h1.3v1.3h-1.3zM437.85 249.85h1.3v1.3h-1.3zM439.85 249.85h1.3v1.3h-1.3zM444.85 249.85h1.3v1.3h-1.3zM459.85 249.85h1.3v1.3h-1.3zM462.85 249.85h1.3v1.3h-1.3zM319.85 250.85h1.3v1.3h-1.3zM341.85 250.85h1.3v1.3h-1.3zM346.85 250.85h1.3v1.3h-1.3zM459.85 250.85h1.3v1.3h-1.3zM342.85 251.85h1.3v1.3h-1.3zM452.85 251.85h1.3v1.3h-1.3zM457.85 251.85h2.3v1.3h-2.3zM334.85 252.85h1.3v1.3h-1.3zM340.85 252.85h1.3v1.3h-1.3zM441.85 252.85h2.3v1.3h-2.3zM452.85 252.85h1.3v1.3h-1.3zM457.85 252.85h1.3v1.3h-1.3zM340.85 253.85h1.3v1.3h-1.3zM456.85 253.85h1.3v1.3h-1.3zM323.85 254.85h1.3v1.3h-1.3zM325.85 255.85h1.3v1.3h-1.3zM342.85 255.85h1.3v1.3h-1.3zM439.85 255.85h1.3v1.3h-1.3zM457.85 255.85h1.3v1.3h-1.3zM322.85 256.85h1.3v1.3h-1.3zM449.85 256.85h1.3v1.3h-1.3zM322.85 257.85h1.3v1.3h-1.3zM337.85 257.85h1.3v1.3h-1.3zM341.85 257.85h1.3v1.3h-1.3zM441.85 257.85h1.3v1.3h-1.3zM443.85 257.85h1.3v1.3h-1.3zM322.85 258.85h1.3v1.3h-1.3zM324.85 258.85h1.3v1.3h-1.3zM330.85 258.85h1.3v1.3h-1.3zM441.85 258.85h1.3v1.3h-1.3zM450.85 258.85h1.3v1.3h-1.3zM318.85 259.85h1.3v1.3h-1.3zM324.85 259.85h1.3v1.3h-1.3zM336.85 259.85h2.3v1.3h-2.3zM339.85 259.85h1.3v1.3h-1.3zM345.85 259.85h1.3v1.3h-1.3zM439.85 259.85h2.3v1.3h-2.3zM449.85 259.85h1.3v1.3h-1.3zM451.85 259.85h2.3v1.3h-2.3zM465.85 259.85h1.3v1.3h-1.3zM325.85 260.85h1.3v1.3h-1.3zM334.85 260.85h1.3v1.3h-1.3zM336.85 260.85h2.3v1.3h-2.3zM341.85 260.85h1.3v1.3h-1.3zM429.85 260.85h1.3v1.3h-1.3zM438.85 260.85h1.3v1.3h-1.3zM443.85 260.85h1.3v1.3h-1.3zM455.85 260.85h3.3v1.3h-3.3zM312.85 261.85h1.3v1.3h-1.3zM314.85 261.85h2.3v1.3h-2.3zM324.85 261.85h1.3v1.3h-1.3zM330.85 261.85h1.3v1.3h-1.3zM338.85 261.85h1.3v1.3h-1.3zM352.85 261.85h1.3v1.3h-1.3zM358.85 261.85h1.3v1.3h-1.3zM428.85 261.85h1.3v1.3h-1.3zM440.85 261.85h4.3v1.3h-4.3zM449.85 261.85h1.3v1.3h-1.3zM451.85 261.85h1.3v1.3h-1.3zM453.85 261.85h2.3v1.3h-2.3zM471.85 261.85h1.3v1.3h-1.3zM322.85 262.85h1.3v1.3h-1.3zM325.85 262.85h1.3v1.3h-1.3zM346.85 262.85h1.3v1.3h-1.3zM354.85 262.85h1.3v1.3h-1.3zM425.85 262.85h2.3v1.3h-2.3zM430.85 262.85h1.3v1.3h-1.3zM434.85 262.85h1.3v1.3h-1.3zM437.85 262.85h1.3v1.3h-1.3zM442.85 262.85h1.3v1.3h-1.3zM456.85 262.85h1.3v1.3h-1.3zM462.85 262.85h1.3v1.3h-1.3zM472.85 262.85h1.3v1.3h-1.3zM309.85 263.85h1.3v1.3h-1.3zM312.85 263.85h1.3v1.3h-1.3zM314.85 263.85h1.3v1.3h-1.3zM320.85 263.85h2.3v1.3h-2.3zM323.85 263.85h1.3v1.3h-1.3zM325.85 263.85h1.3v1.3h-1.3zM327.85 263.85h1.3v1.3h-1.3zM330.85 263.85h2.3v1.3h-2.3zM336.85 263.85h1.3v1.3h-1.3zM339.85 263.85h1.3v1.3h-1.3zM341.85 263.85h10.3v1.3h-10.3zM354.85 263.85h3.3v1.3h-3.3zM428.85 263.85h1.3v1.3h-1.3zM430.85 263.85h2.3v1.3h-2.3zM434.85 263.85h1.3v1.3h-1.3zM439.85 263.85h1.3v1.3h-1.3zM446.85 263.85h2.3v1.3h-2.3zM458.85 263.85h3.3v1.3h-3.3zM463.85 263.85h2.3v1.3h-2.3zM467.85 263.85h1.3v1.3h-1.3zM470.85 263.85h1.3v1.3h-1.3zM473.85 263.85h1.3v1.3h-1.3zM310.85 264.85h1.3v1.3h-1.3zM313.85 264.85h4.3v1.3h-4.3zM318.85 264.85h1.3v1.3h-1.3zM320.85 264.85h12.3v1.3h-12.3zM333.85 264.85h3.3v1.3h-3.3zM337.85 264.85h1.3v1.3h-1.3zM340.85 264.85h5.3v1.3h-5.3zM347.85 264.85h1.3v1.3h-1.3zM349.85 264.85h1.3v1.3h-1.3zM354.85 264.85h2.3v1.3h-2.3zM358.85 264.85h1.3v1.3h-1.3zM423.85 264.85h1.3v1.3h-1.3zM426.85 264.85h3.3v1.3h-3.3zM437.85 264.85h2.3v1.3h-2.3zM442.85 264.85h1.3v1.3h-1.3zM444.85 264.85h5.3v1.3h-5.3zM450.85 264.85h4.3v1.3h-4.3zM456.85 264.85h1.3v1.3h-1.3zM458.85 264.85h1.3v1.3h-1.3zM460.85 264.85h4.3v1.3h-4.3zM466.85 264.85h1.3v1.3h-1.3zM469.85 264.85h3.3v1.3h-3.3zM476.85 264.85h1.3v1.3h-1.3zM309.85 265.85h1.3v1.3h-1.3zM313.85 265.85h1.3v1.3h-1.3zM315.85 265.85h4.3v1.3h-4.3zM321.85 265.85h5.3v1.3h-5.3zM327.85 265.85h17.3v1.3h-17.3zM345.85 265.85h6.3v1.3h-6.3zM353.85 265.85h1.3v1.3h-1.3zM359.85 265.85h1.3v1.3h-1.3zM428.85 265.85h1.3v1.3h-1.3zM430.85 265.85h1.3v1.3h-1.3zM432.85 265.85h2.3v1.3h-2.3zM436.85 265.85h2.3v1.3h-2.3zM439.85 265.85h1.3v1.3h-1.3zM441.85 265.85h7.3v1.3h-7.3zM451.85 265.85h1.3v1.3h-1.3zM453.85 265.85h1.3v1.3h-1.3zM455.85 265.85h3.3v1.3h-3.3zM460.85 265.85h3.3v1.3h-3.3zM466.85 265.85h1.3v1.3h-1.3zM470.85 265.85h1.3v1.3h-1.3zM473.85 265.85h1.3v1.3h-1.3zM477.85 265.85h1.3v1.3h-1.3zM309.85 266.85h1.3v1.3h-1.3zM313.85 266.85h1.3v1.3h-1.3zM315.85 266.85h6.3v1.3h-6.3zM322.85 266.85h1.3v1.3h-1.3zM324.85 266.85h4.3v1.3h-4.3zM331.85 266.85h1.3v1.3h-1.3zM333.85 266.85h26.3v1.3h-26.3zM360.85 266.85h1.3v1.3h-1.3zM365.85 266.85h1.3v1.3h-1.3zM423.85 266.85h2.3v1.3h-2.3zM426.85 266.85h2.3v1.3h-2.3zM429.85 266.85h8.3v1.3h-8.3zM438.85 266.85h1.3v1.3h-1.3zM441.85 266.85h1.3v1.3h-1.3zM443.85 266.85h11.3v1.3h-11.3zM455.85 266.85h2.3v1.3h-2.3zM458.85 266.85h4.3v1.3h-4.3zM463.85 266.85h3.3v1.3h-3.3zM467.85 266.85h1.3v1.3h-1.3zM469.85 266.85h2.3v1.3h-2.3zM472.85 266.85h1.3v1.3h-1.3zM477.85 266.85h1.3v1.3h-1.3zM479.85 266.85h1.3v1.3h-1.3zM314.85 267.85h3.3v1.3h-3.3zM318.85 267.85h7.3v1.3h-7.3zM326.85 267.85h3.3v1.3h-3.3zM331.85 267.85h4.3v1.3h-4.3zM336.85 267.85h16.3v1.3h-16.3zM355.85 267.85h1.3v1.3h-1.3zM369.85 267.85h1.3v1.3h-1.3zM419.85 267.85h1.3v1.3h-1.3zM425.85 267.85h1.3v1.3h-1.3zM427.85 267.85h2.3v1.3h-2.3zM430.85 267.85h1.3v1.3h-1.3zM432.85 267.85h1.3v1.3h-1.3zM434.85 267.85h1.3v1.3h-1.3zM436.85 267.85h3.3v1.3h-3.3zM440.85 267.85h1.3v1.3h-1.3zM442.85 267.85h1.3v1.3h-1.3zM444.85 267.85h10.3v1.3h-10.3zM456.85 267.85h1.3v1.3h-1.3zM458.85 267.85h2.3v1.3h-2.3zM462.85 267.85h3.3v1.3h-3.3zM466.85 267.85h2.3v1.3h-2.3zM469.85 267.85h3.3v1.3h-3.3zM313.85 268.85h21.3v1.3h-21.3zM335.85 268.85h7.3v1.3h-7.3zM343.85 268.85h8.3v1.3h-8.3zM352.85 268.85h9.3v1.3h-9.3zM370.85 268.85h1.3v1.3h-1.3zM427.85 268.85h1.3v1.3h-1.3zM429.85 268.85h1.3v1.3h-1.3zM431.85 268.85h2.3v1.3h-2.3zM434.85 268.85h1.3v1.3h-1.3zM436.85 268.85h8.3v1.3h-8.3zM445.85 268.85h4.3v1.3h-4.3zM450.85 268.85h4.3v1.3h-4.3zM455.85 268.85h6.3v1.3h-6.3zM463.85 268.85h3.3v1.3h-3.3zM469.85 268.85h1.3v1.3h-1.3zM471.85 268.85h3.3v1.3h-3.3zM314.85 269.85h12.3v1.3h-12.3zM328.85 269.85h26.3v1.3h-26.3zM355.85 269.85h4.3v1.3h-4.3zM360.85 269.85h3.3v1.3h-3.3zM366.85 269.85h1.3v1.3h-1.3zM421.85 269.85h2.3v1.3h-2.3zM425.85 269.85h17.3v1.3h-17.3zM443.85 269.85h6.3v1.3h-6.3zM452.85 269.85h2.3v1.3h-2.3zM456.85 269.85h2.3v1.3h-2.3zM459.85 269.85h3.3v1.3h-3.3zM463.85 269.85h1.3v1.3h-1.3zM465.85 269.85h5.3v1.3h-5.3zM471.85 269.85h2.3v1.3h-2.3zM474.85 269.85h1.3v1.3h-1.3zM311.85 270.85h1.3v1.3h-1.3zM313.85 270.85h43.3v1.3h-43.3zM357.85 270.85h7.3v1.3h-7.3zM365.85 270.85h3.3v1.3h-3.3zM419.85 270.85h1.3v1.3h-1.3zM423.85 270.85h4.3v1.3h-4.3zM428.85 270.85h2.3v1.3h-2.3zM431.85 270.85h3.3v1.3h-3.3zM435.85 270.85h7.3v1.3h-7.3zM443.85 270.85h4.3v1.3h-4.3zM448.85 270.85h5.3v1.3h-5.3zM454.85 270.85h3.3v1.3h-3.3zM459.85 270.85h1.3v1.3h-1.3zM462.85 270.85h1.3v1.3h-1.3zM464.85 270.85h2.3v1.3h-2.3zM467.85 270.85h2.3v1.3h-2.3zM470.85 270.85h6.3v1.3h-6.3zM312.85 271.85h1.3v1.3h-1.3zM314.85 271.85h2.3v1.3h-2.3zM317.85 271.85h5.3v1.3h-5.3zM323.85 271.85h24.3v1.3h-24.3zM348.85 271.85h2.3v1.3h-2.3zM352.85 271.85h6.3v1.3h-6.3zM360.85 271.85h4.3v1.3h-4.3zM365.85 271.85h2.3v1.3h-2.3zM368.85 271.85h3.3v1.3h-3.3zM373.85 271.85h1.3v1.3h-1.3zM424.85 271.85h1.3v1.3h-1.3zM426.85 271.85h4.3v1.3h-4.3zM432.85 271.85h2.3v1.3h-2.3zM436.85 271.85h5.3v1.3h-5.3zM443.85 271.85h6.3v1.3h-6.3zM450.85 271.85h4.3v1.3h-4.3zM456.85 271.85h2.3v1.3h-2.3zM459.85 271.85h6.3v1.3h-6.3zM466.85 271.85h8.3v1.3h-8.3zM475.85 271.85h2.3v1.3h-2.3zM313.85 272.85h11.3v1.3h-11.3zM325.85 272.85h22.3v1.3h-22.3zM348.85 272.85h5.3v1.3h-5.3zM354.85 272.85h2.3v1.3h-2.3zM357.85 272.85h1.3v1.3h-1.3zM359.85 272.85h11.3v1.3h-11.3zM424.85 272.85h5.3v1.3h-5.3zM430.85 272.85h1.3v1.3h-1.3zM432.85 272.85h4.3v1.3h-4.3zM437.85 272.85h1.3v1.3h-1.3zM440.85 272.85h1.3v1.3h-1.3zM442.85 272.85h1.3v1.3h-1.3zM444.85 272.85h3.3v1.3h-3.3zM448.85 272.85h2.3v1.3h-2.3zM451.85 272.85h3.3v1.3h-3.3zM457.85 272.85h6.3v1.3h-6.3zM464.85 272.85h7.3v1.3h-7.3zM472.85 272.85h3.3v1.3h-3.3zM476.85 272.85h3.3v1.3h-3.3zM315.85 273.85h5.3v1.3h-5.3zM321.85 273.85h27.3v1.3h-27.3zM349.85 273.85h22.3v1.3h-22.3zM424.85 273.85h4.3v1.3h-4.3zM429.85 273.85h3.3v1.3h-3.3zM433.85 273.85h4.3v1.3h-4.3zM438.85 273.85h1.3v1.3h-1.3zM441.85 273.85h2.3v1.3h-2.3zM444.85 273.85h2.3v1.3h-2.3zM448.85 273.85h1.3v1.3h-1.3zM450.85 273.85h1.3v1.3h-1.3zM452.85 273.85h5.3v1.3h-5.3zM459.85 273.85h3.3v1.3h-3.3zM465.85 273.85h4.3v1.3h-4.3zM470.85 273.85h9.3v1.3h-9.3zM312.85 274.85h14.3v1.3h-14.3zM327.85 274.85h10.3v1.3h-10.3zM338.85 274.85h25.3v1.3h-25.3zM364.85 274.85h4.3v1.3h-4.3zM369.85 274.85h4.3v1.3h-4.3zM423.85 274.85h3.3v1.3h-3.3zM427.85 274.85h2.3v1.3h-2.3zM430.85 274.85h1.3v1.3h-1.3zM433.85 274.85h5.3v1.3h-5.3zM441.85 274.85h1.3v1.3h-1.3zM444.85 274.85h2.3v1.3h-2.3zM447.85 274.85h4.3v1.3h-4.3zM454.85 274.85h6.3v1.3h-6.3zM461.85 274.85h7.3v1.3h-7.3zM469.85 274.85h5.3v1.3h-5.3zM475.85 274.85h1.3v1.3h-1.3zM478.85 274.85h1.3v1.3h-1.3zM313.85 275.85h18.3v1.3h-18.3zM332.85 275.85h4.3v1.3h-4.3zM337.85 275.85h7.3v1.3h-7.3zM345.85 275.85h9.3v1.3h-9.3zM355.85 275.85h9.3v1.3h-9.3zM365.85 275.85h2.3v1.3h-2.3zM369.85 275.85h1.3v1.3h-1.3zM372.85 275.85h1.3v1.3h-1.3zM418.85 275.85h1.3v1.3h-1.3zM422.85 275.85h2.3v1.3h-2.3zM425.85 275.85h2.3v1.3h-2.3zM428.85 275.85h1.3v1.3h-1.3zM430.85 275.85h8.3v1.3h-8.3zM439.85 275.85h3.3v1.3h-3.3zM444.85 275.85h2.3v1.3h-2.3zM447.85 275.85h1.3v1.3h-1.3zM449.85 275.85h3.3v1.3h-3.3zM454.85 275.85h4.3v1.3h-4.3zM459.85 275.85h5.3v1.3h-5.3zM465.85 275.85h5.3v1.3h-5.3zM471.85 275.85h2.3v1.3h-2.3zM475.85 275.85h5.3v1.3h-5.3zM313.85 276.85h1.3v1.3h-1.3zM316.85 276.85h6.3v1.3h-6.3zM323.85 276.85h3.3v1.3h-3.3zM327.85 276.85h4.3v1.3h-4.3zM332.85 276.85h4.3v1.3h-4.3zM337.85 276.85h5.3v1.3h-5.3zM343.85 276.85h5.3v1.3h-5.3zM349.85 276.85h6.3v1.3h-6.3zM357.85 276.85h2.3v1.3h-2.3zM363.85 276.85h1.3v1.3h-1.3zM367.85 276.85h1.3v1.3h-1.3zM418.85 276.85h1.3v1.3h-1.3zM424.85 276.85h1.3v1.3h-1.3zM426.85 276.85h1.3v1.3h-1.3zM428.85 276.85h1.3v1.3h-1.3zM430.85 276.85h5.3v1.3h-5.3zM436.85 276.85h3.3v1.3h-3.3zM440.85 276.85h1.3v1.3h-1.3zM442.85 276.85h11.3v1.3h-11.3zM454.85 276.85h4.3v1.3h-4.3zM460.85 276.85h10.3v1.3h-10.3zM474.85 276.85h5.3v1.3h-5.3zM314.85 277.85h2.3v1.3h-2.3zM317.85 277.85h14.3v1.3h-14.3zM332.85 277.85h3.3v1.3h-3.3zM336.85 277.85h10.3v1.3h-10.3zM347.85 277.85h6.3v1.3h-6.3zM354.85 277.85h2.3v1.3h-2.3zM357.85 277.85h2.3v1.3h-2.3zM360.85 277.85h1.3v1.3h-1.3zM362.85 277.85h2.3v1.3h-2.3zM365.85 277.85h1.3v1.3h-1.3zM367.85 277.85h2.3v1.3h-2.3zM423.85 277.85h1.3v1.3h-1.3zM425.85 277.85h2.3v1.3h-2.3zM428.85 277.85h4.3v1.3h-4.3zM434.85 277.85h10.3v1.3h-10.3zM446.85 277.85h1.3v1.3h-1.3zM448.85 277.85h5.3v1.3h-5.3zM454.85 277.85h3.3v1.3h-3.3zM458.85 277.85h1.3v1.3h-1.3zM461.85 277.85h2.3v1.3h-2.3zM464.85 277.85h9.3v1.3h-9.3zM474.85 277.85h5.3v1.3h-5.3zM483.85 277.85h1.3v1.3h-1.3zM318.85 278.85h1.3v1.3h-1.3zM321.85 278.85h1.3v1.3h-1.3zM323.85 278.85h1.3v1.3h-1.3zM328.85 278.85h2.3v1.3h-2.3zM331.85 278.85h1.3v1.3h-1.3zM333.85 278.85h1.3v1.3h-1.3zM337.85 278.85h2.3v1.3h-2.3zM343.85 278.85h3.3v1.3h-3.3zM347.85 278.85h1.3v1.3h-1.3zM351.85 278.85h1.3v1.3h-1.3zM353.85 278.85h3.3v1.3h-3.3zM357.85 278.85h1.3v1.3h-1.3zM361.85 278.85h3.3v1.3h-3.3zM370.85 278.85h1.3v1.3h-1.3zM424.85 278.85h4.3v1.3h-4.3zM429.85 278.85h7.3v1.3h-7.3zM437.85 278.85h3.3v1.3h-3.3zM441.85 278.85h2.3v1.3h-2.3zM444.85 278.85h14.3v1.3h-14.3zM459.85 278.85h2.3v1.3h-2.3zM463.85 278.85h1.3v1.3h-1.3zM465.85 278.85h7.3v1.3h-7.3zM315.85 279.85h1.3v1.3h-1.3zM321.85 279.85h1.3v1.3h-1.3zM325.85 279.85h1.3v1.3h-1.3zM332.85 279.85h1.3v1.3h-1.3zM335.85 279.85h3.3v1.3h-3.3zM344.85 279.85h2.3v1.3h-2.3zM348.85 279.85h3.3v1.3h-3.3zM352.85 279.85h1.3v1.3h-1.3zM355.85 279.85h1.3v1.3h-1.3zM357.85 279.85h1.3v1.3h-1.3zM362.85 279.85h1.3v1.3h-1.3zM365.85 279.85h1.3v1.3h-1.3zM423.85 279.85h3.3v1.3h-3.3zM427.85 279.85h8.3v1.3h-8.3zM436.85 279.85h1.3v1.3h-1.3zM438.85 279.85h2.3v1.3h-2.3zM441.85 279.85h3.3v1.3h-3.3zM445.85 279.85h4.3v1.3h-4.3zM450.85 279.85h3.3v1.3h-3.3zM455.85 279.85h1.3v1.3h-1.3zM457.85 279.85h2.3v1.3h-2.3zM460.85 279.85h2.3v1.3h-2.3zM464.85 279.85h12.3v1.3h-12.3zM477.85 279.85h1.3v1.3h-1.3zM298.85 280.85h1.3v1.3h-1.3zM301.85 280.85h1.3v1.3h-1.3zM306.85 280.85h1.3v1.3h-1.3zM311.85 280.85h1.3v1.3h-1.3zM315.85 280.85h1.3v1.3h-1.3zM317.85 280.85h1.3v1.3h-1.3zM322.85 280.85h1.3v1.3h-1.3zM326.85 280.85h1.3v1.3h-1.3zM330.85 280.85h1.3v1.3h-1.3zM333.85 280.85h1.3v1.3h-1.3zM335.85 280.85h2.3v1.3h-2.3zM339.85 280.85h8.3v1.3h-8.3zM348.85 280.85h1.3v1.3h-1.3zM350.85 280.85h3.3v1.3h-3.3zM359.85 280.85h1.3v1.3h-1.3zM416.85 280.85h1.3v1.3h-1.3zM422.85 280.85h1.3v1.3h-1.3zM425.85 280.85h1.3v1.3h-1.3zM427.85 280.85h2.3v1.3h-2.3zM430.85 280.85h7.3v1.3h-7.3zM438.85 280.85h3.3v1.3h-3.3zM442.85 280.85h1.3v1.3h-1.3zM444.85 280.85h1.3v1.3h-1.3zM446.85 280.85h2.3v1.3h-2.3zM449.85 280.85h4.3v1.3h-4.3zM454.85 280.85h4.3v1.3h-4.3zM459.85 280.85h2.3v1.3h-2.3zM462.85 280.85h2.3v1.3h-2.3zM465.85 280.85h1.3v1.3h-1.3zM467.85 280.85h5.3v1.3h-5.3zM473.85 280.85h1.3v1.3h-1.3zM475.85 280.85h2.3v1.3h-2.3zM480.85 280.85h1.3v1.3h-1.3zM303.85 281.85h1.3v1.3h-1.3zM308.85 281.85h6.3v1.3h-6.3zM315.85 281.85h7.3v1.3h-7.3zM323.85 281.85h7.3v1.3h-7.3zM331.85 281.85h6.3v1.3h-6.3zM338.85 281.85h1.3v1.3h-1.3zM340.85 281.85h2.3v1.3h-2.3zM343.85 281.85h13.3v1.3h-13.3zM415.85 281.85h1.3v1.3h-1.3zM423.85 281.85h1.3v1.3h-1.3zM425.85 281.85h9.3v1.3h-9.3zM436.85 281.85h1.3v1.3h-1.3zM440.85 281.85h4.3v1.3h-4.3zM445.85 281.85h2.3v1.3h-2.3zM448.85 281.85h3.3v1.3h-3.3zM452.85 281.85h1.3v1.3h-1.3zM454.85 281.85h1.3v1.3h-1.3zM456.85 281.85h2.3v1.3h-2.3zM459.85 281.85h4.3v1.3h-4.3zM464.85 281.85h3.3v1.3h-3.3zM470.85 281.85h1.3v1.3h-1.3zM474.85 281.85h1.3v1.3h-1.3zM476.85 281.85h1.3v1.3h-1.3zM305.85 282.85h16.3v1.3h-16.3zM322.85 282.85h1.3v1.3h-1.3zM324.85 282.85h8.3v1.3h-8.3zM333.85 282.85h6.3v1.3h-6.3zM340.85 282.85h16.3v1.3h-16.3zM418.85 282.85h1.3v1.3h-1.3zM422.85 282.85h6.3v1.3h-6.3zM431.85 282.85h1.3v1.3h-1.3zM433.85 282.85h6.3v1.3h-6.3zM441.85 282.85h2.3v1.3h-2.3zM444.85 282.85h1.3v1.3h-1.3zM446.85 282.85h6.3v1.3h-6.3zM455.85 282.85h1.3v1.3h-1.3zM457.85 282.85h1.3v1.3h-1.3zM459.85 282.85h5.3v1.3h-5.3zM466.85 282.85h2.3v1.3h-2.3zM469.85 282.85h1.3v1.3h-1.3zM296.85 283.85h1.3v1.3h-1.3zM300.85 283.85h1.3v1.3h-1.3zM304.85 283.85h16.3v1.3h-16.3zM321.85 283.85h17.3v1.3h-17.3zM339.85 283.85h10.3v1.3h-10.3zM350.85 283.85h5.3v1.3h-5.3zM426.85 283.85h3.3v1.3h-3.3zM431.85 283.85h1.3v1.3h-1.3zM442.85 283.85h1.3v1.3h-1.3zM444.85 283.85h2.3v1.3h-2.3zM447.85 283.85h1.3v1.3h-1.3zM450.85 283.85h1.3v1.3h-1.3zM461.85 283.85h4.3v1.3h-4.3zM468.85 283.85h1.3v1.3h-1.3zM470.85 283.85h1.3v1.3h-1.3zM474.85 283.85h1.3v1.3h-1.3zM297.85 284.85h1.3v1.3h-1.3zM302.85 284.85h44.3v1.3h-44.3zM347.85 284.85h8.3v1.3h-8.3zM358.85 284.85h1.3v1.3h-1.3zM416.85 284.85h1.3v1.3h-1.3zM423.85 284.85h1.3v1.3h-1.3zM429.85 284.85h1.3v1.3h-1.3zM432.85 284.85h1.3v1.3h-1.3zM437.85 284.85h2.3v1.3h-2.3zM441.85 284.85h1.3v1.3h-1.3zM444.85 284.85h1.3v1.3h-1.3zM446.85 284.85h1.3v1.3h-1.3zM448.85 284.85h1.3v1.3h-1.3zM455.85 284.85h1.3v1.3h-1.3zM468.85 284.85h1.3v1.3h-1.3zM474.85 284.85h1.3v1.3h-1.3zM298.85 285.85h5.3v1.3h-5.3zM304.85 285.85h3.3v1.3h-3.3zM308.85 285.85h10.3v1.3h-10.3zM319.85 285.85h24.3v1.3h-24.3zM344.85 285.85h12.3v1.3h-12.3zM407.85 285.85h1.3v1.3h-1.3zM410.85 285.85h1.3v1.3h-1.3zM416.85 285.85h1.3v1.3h-1.3zM418.85 285.85h2.3v1.3h-2.3zM432.85 285.85h1.3v1.3h-1.3zM434.85 285.85h2.3v1.3h-2.3zM438.85 285.85h1.3v1.3h-1.3zM442.85 285.85h1.3v1.3h-1.3zM444.85 285.85h1.3v1.3h-1.3zM448.85 285.85h1.3v1.3h-1.3zM454.85 285.85h3.3v1.3h-3.3zM462.85 285.85h1.3v1.3h-1.3zM294.85 286.85h1.3v1.3h-1.3zM296.85 286.85h1.3v1.3h-1.3zM300.85 286.85h6.3v1.3h-6.3zM307.85 286.85h32.3v1.3h-32.3zM340.85 286.85h15.3v1.3h-15.3zM414.85 286.85h3.3v1.3h-3.3zM421.85 286.85h5.3v1.3h-5.3zM427.85 286.85h4.3v1.3h-4.3zM433.85 286.85h1.3v1.3h-1.3zM435.85 286.85h6.3v1.3h-6.3zM443.85 286.85h1.3v1.3h-1.3zM447.85 286.85h6.3v1.3h-6.3zM457.85 286.85h3.3v1.3h-3.3zM461.85 286.85h1.3v1.3h-1.3zM463.85 286.85h1.3v1.3h-1.3zM468.85 286.85h1.3v1.3h-1.3zM473.85 286.85h1.3v1.3h-1.3zM291.85 287.85h1.3v1.3h-1.3zM300.85 287.85h3.3v1.3h-3.3zM305.85 287.85h3.3v1.3h-3.3zM309.85 287.85h17.3v1.3h-17.3zM327.85 287.85h8.3v1.3h-8.3zM336.85 287.85h4.3v1.3h-4.3zM341.85 287.85h10.3v1.3h-10.3zM352.85 287.85h1.3v1.3h-1.3zM410.85 287.85h2.3v1.3h-2.3zM413.85 287.85h4.3v1.3h-4.3zM418.85 287.85h2.3v1.3h-2.3zM421.85 287.85h3.3v1.3h-3.3zM426.85 287.85h3.3v1.3h-3.3zM430.85 287.85h1.3v1.3h-1.3zM432.85 287.85h2.3v1.3h-2.3zM435.85 287.85h1.3v1.3h-1.3zM437.85 287.85h9.3v1.3h-9.3zM447.85 287.85h1.3v1.3h-1.3zM449.85 287.85h2.3v1.3h-2.3zM452.85 287.85h8.3v1.3h-8.3zM463.85 287.85h2.3v1.3h-2.3zM469.85 287.85h1.3v1.3h-1.3zM292.85 288.85h1.3v1.3h-1.3zM295.85 288.85h41.3v1.3h-41.3zM337.85 288.85h4.3v1.3h-4.3zM343.85 288.85h12.3v1.3h-12.3zM407.85 288.85h2.3v1.3h-2.3zM410.85 288.85h2.3v1.3h-2.3zM413.85 288.85h6.3v1.3h-6.3zM423.85 288.85h1.3v1.3h-1.3zM426.85 288.85h2.3v1.3h-2.3zM430.85 288.85h1.3v1.3h-1.3zM432.85 288.85h1.3v1.3h-1.3zM434.85 288.85h4.3v1.3h-4.3zM439.85 288.85h4.3v1.3h-4.3zM444.85 288.85h2.3v1.3h-2.3zM447.85 288.85h1.3v1.3h-1.3zM449.85 288.85h4.3v1.3h-4.3zM454.85 288.85h7.3v1.3h-7.3zM462.85 288.85h1.3v1.3h-1.3zM464.85 288.85h3.3v1.3h-3.3zM299.85 289.85h18.3v1.3h-18.3zM318.85 289.85h25.3v1.3h-25.3zM344.85 289.85h6.3v1.3h-6.3zM351.85 289.85h2.3v1.3h-2.3zM354.85 289.85h1.3v1.3h-1.3zM405.85 289.85h1.3v1.3h-1.3zM408.85 289.85h6.3v1.3h-6.3zM415.85 289.85h4.3v1.3h-4.3zM421.85 289.85h2.3v1.3h-2.3zM427.85 289.85h3.3v1.3h-3.3zM432.85 289.85h3.3v1.3h-3.3zM436.85 289.85h5.3v1.3h-5.3zM442.85 289.85h1.3v1.3h-1.3zM444.85 289.85h1.3v1.3h-1.3zM446.85 289.85h3.3v1.3h-3.3zM450.85 289.85h8.3v1.3h-8.3zM460.85 289.85h1.3v1.3h-1.3zM462.85 289.85h4.3v1.3h-4.3zM291.85 290.85h1.3v1.3h-1.3zM294.85 290.85h1.3v1.3h-1.3zM297.85 290.85h2.3v1.3h-2.3zM300.85 290.85h1.3v1.3h-1.3zM302.85 290.85h7.3v1.3h-7.3zM310.85 290.85h17.3v1.3h-17.3zM328.85 290.85h11.3v1.3h-11.3zM340.85 290.85h5.3v1.3h-5.3zM346.85 290.85h3.3v1.3h-3.3zM350.85 290.85h2.3v1.3h-2.3zM354.85 290.85h1.3v1.3h-1.3zM407.85 290.85h1.3v1.3h-1.3zM409.85 290.85h1.3v1.3h-1.3zM411.85 290.85h5.3v1.3h-5.3zM418.85 290.85h6.3v1.3h-6.3zM425.85 290.85h5.3v1.3h-5.3zM431.85 290.85h5.3v1.3h-5.3zM438.85 290.85h3.3v1.3h-3.3zM442.85 290.85h8.3v1.3h-8.3zM451.85 290.85h1.3v1.3h-1.3zM453.85 290.85h4.3v1.3h-4.3zM458.85 290.85h2.3v1.3h-2.3zM464.85 290.85h1.3v1.3h-1.3zM466.85 290.85h1.3v1.3h-1.3zM292.85 291.85h1.3v1.3h-1.3zM297.85 291.85h1.3v1.3h-1.3zM299.85 291.85h27.3v1.3h-27.3zM327.85 291.85h12.3v1.3h-12.3zM340.85 291.85h7.3v1.3h-7.3zM348.85 291.85h2.3v1.3h-2.3zM352.85 291.85h1.3v1.3h-1.3zM359.85 291.85h1.3v1.3h-1.3zM407.85 291.85h3.3v1.3h-3.3zM411.85 291.85h6.3v1.3h-6.3zM420.85 291.85h5.3v1.3h-5.3zM426.85 291.85h1.3v1.3h-1.3zM428.85 291.85h2.3v1.3h-2.3zM431.85 291.85h4.3v1.3h-4.3zM436.85 291.85h1.3v1.3h-1.3zM438.85 291.85h2.3v1.3h-2.3zM442.85 291.85h5.3v1.3h-5.3zM448.85 291.85h4.3v1.3h-4.3zM453.85 291.85h5.3v1.3h-5.3zM460.85 291.85h1.3v1.3h-1.3zM466.85 291.85h1.3v1.3h-1.3zM293.85 292.85h2.3v1.3h-2.3zM297.85 292.85h22.3v1.3h-22.3zM320.85 292.85h1.3v1.3h-1.3zM322.85 292.85h14.3v1.3h-14.3zM337.85 292.85h2.3v1.3h-2.3zM340.85 292.85h9.3v1.3h-9.3zM408.85 292.85h7.3v1.3h-7.3zM416.85 292.85h2.3v1.3h-2.3zM419.85 292.85h2.3v1.3h-2.3zM423.85 292.85h2.3v1.3h-2.3zM427.85 292.85h3.3v1.3h-3.3zM432.85 292.85h6.3v1.3h-6.3zM439.85 292.85h2.3v1.3h-2.3zM444.85 292.85h1.3v1.3h-1.3zM447.85 292.85h1.3v1.3h-1.3zM449.85 292.85h1.3v1.3h-1.3zM453.85 292.85h2.3v1.3h-2.3zM456.85 292.85h2.3v1.3h-2.3zM459.85 292.85h1.3v1.3h-1.3zM465.85 292.85h1.3v1.3h-1.3zM295.85 293.85h1.3v1.3h-1.3zM298.85 293.85h14.3v1.3h-14.3zM313.85 293.85h28.3v1.3h-28.3zM342.85 293.85h3.3v1.3h-3.3zM347.85 293.85h1.3v1.3h-1.3zM349.85 293.85h1.3v1.3h-1.3zM408.85 293.85h3.3v1.3h-3.3zM412.85 293.85h6.3v1.3h-6.3zM419.85 293.85h7.3v1.3h-7.3zM427.85 293.85h5.3v1.3h-5.3zM433.85 293.85h2.3v1.3h-2.3zM436.85 293.85h1.3v1.3h-1.3zM439.85 293.85h6.3v1.3h-6.3zM447.85 293.85h1.3v1.3h-1.3zM450.85 293.85h1.3v1.3h-1.3zM452.85 293.85h2.3v1.3h-2.3zM455.85 293.85h1.3v1.3h-1.3zM457.85 293.85h2.3v1.3h-2.3zM292.85 294.85h2.3v1.3h-2.3zM298.85 294.85h4.3v1.3h-4.3zM304.85 294.85h6.3v1.3h-6.3zM311.85 294.85h1.3v1.3h-1.3zM313.85 294.85h1.3v1.3h-1.3zM316.85 294.85h1.3v1.3h-1.3zM318.85 294.85h3.3v1.3h-3.3zM322.85 294.85h11.3v1.3h-11.3zM334.85 294.85h3.3v1.3h-3.3zM338.85 294.85h1.3v1.3h-1.3zM340.85 294.85h3.3v1.3h-3.3zM344.85 294.85h1.3v1.3h-1.3zM405.85 294.85h1.3v1.3h-1.3zM408.85 294.85h3.3v1.3h-3.3zM414.85 294.85h1.3v1.3h-1.3zM416.85 294.85h2.3v1.3h-2.3zM421.85 294.85h2.3v1.3h-2.3zM425.85 294.85h1.3v1.3h-1.3zM427.85 294.85h4.3v1.3h-4.3zM432.85 294.85h1.3v1.3h-1.3zM435.85 294.85h4.3v1.3h-4.3zM442.85 294.85h3.3v1.3h-3.3zM450.85 294.85h1.3v1.3h-1.3zM452.85 294.85h1.3v1.3h-1.3zM454.85 294.85h1.3v1.3h-1.3zM456.85 294.85h6.3v1.3h-6.3zM297.85 295.85h1.3v1.3h-1.3zM301.85 295.85h2.3v1.3h-2.3zM304.85 295.85h2.3v1.3h-2.3zM307.85 295.85h3.3v1.3h-3.3zM311.85 295.85h1.3v1.3h-1.3zM314.85 295.85h1.3v1.3h-1.3zM316.85 295.85h1.3v1.3h-1.3zM318.85 295.85h3.3v1.3h-3.3zM322.85 295.85h3.3v1.3h-3.3zM326.85 295.85h6.3v1.3h-6.3zM333.85 295.85h1.3v1.3h-1.3zM353.85 295.85h1.3v1.3h-1.3zM407.85 295.85h1.3v1.3h-1.3zM410.85 295.85h1.3v1.3h-1.3zM412.85 295.85h1.3v1.3h-1.3zM414.85 295.85h1.3v1.3h-1.3zM436.85 295.85h1.3v1.3h-1.3zM440.85 295.85h1.3v1.3h-1.3zM443.85 295.85h3.3v1.3h-3.3zM450.85 295.85h3.3v1.3h-3.3zM457.85 295.85h1.3v1.3h-1.3zM459.85 295.85h2.3v1.3h-2.3zM463.85 295.85h1.3v1.3h-1.3zM304.85 296.85h1.3v1.3h-1.3zM306.85 296.85h1.3v1.3h-1.3zM308.85 296.85h1.3v1.3h-1.3zM314.85 296.85h1.3v1.3h-1.3zM316.85 296.85h1.3v1.3h-1.3zM318.85 296.85h4.3v1.3h-4.3zM323.85 296.85h1.3v1.3h-1.3zM326.85 296.85h2.3v1.3h-2.3zM413.85 296.85h1.3v1.3h-1.3zM418.85 296.85h1.3v1.3h-1.3zM424.85 296.85h3.3v1.3h-3.3zM452.85 296.85h1.3v1.3h-1.3zM455.85 296.85h1.3v1.3h-1.3zM460.85 296.85h1.3v1.3h-1.3zM462.85 296.85h1.3v1.3h-1.3zM464.85 296.85h1.3v1.3h-1.3zM306.85 297.85h1.3v1.3h-1.3zM309.85 297.85h1.3v1.3h-1.3zM311.85 297.85h1.3v1.3h-1.3zM323.85 297.85h1.3v1.3h-1.3zM326.85 297.85h1.3v1.3h-1.3zM329.85 297.85h1.3v1.3h-1.3zM334.85 297.85h3.3v1.3h-3.3zM343.85 297.85h1.3v1.3h-1.3zM421.85 297.85h1.3v1.3h-1.3zM431.85 297.85h1.3v1.3h-1.3zM433.85 297.85h1.3v1.3h-1.3zM445.85 297.85h2.3v1.3h-2.3zM450.85 297.85h1.3v1.3h-1.3zM454.85 297.85h1.3v1.3h-1.3zM456.85 297.85h1.3v1.3h-1.3zM458.85 297.85h1.3v1.3h-1.3zM295.85 298.85h1.3v1.3h-1.3zM310.85 298.85h1.3v1.3h-1.3zM313.85 298.85h1.3v1.3h-1.3zM319.85 298.85h1.3v1.3h-1.3zM331.85 298.85h2.3v1.3h-2.3zM410.85 298.85h1.3v1.3h-1.3zM423.85 298.85h1.3v1.3h-1.3zM425.85 298.85h1.3v1.3h-1.3zM435.85 298.85h2.3v1.3h-2.3zM455.85 298.85h1.3v1.3h-1.3zM340.85 299.85h1.3v1.3h-1.3zM347.85 299.85h1.3v1.3h-1.3zM305.85 300.85h2.3v1.3h-2.3zM319.85 300.85h1.3v1.3h-1.3zM334.85 300.85h1.3v1.3h-1.3zM317.85 301.85h1.3v1.3h-1.3z" fill="#bdbdbd"/>
<polyline points="400.84,139.71 402.05,138.27 403.26,137.88 404.25,137.1 405.38,137.67 406.55,138.82 407.99,138.67 408.76,140.31 410.17,140.81 410.91,141.72 411.4,142.5" stroke="#bdbdbd" stroke-width="1.4" fill="none" stroke-linejoin="round"/>
<polyline points="401.24,139.55 401.12,141.46 401.7,142.57 402.06,143.82 402.14,145.09 402.53,145.96 402.82,147.23 403.02,148.49 402.94,149.71 403.62,151.14 404.08,152.55 404.39,153.78 404.33,154.36 404.68,155.45 405.18,156.9 405.3,157.88 405.49,159.46 405.65,160.67 406.31,162.21 406.08,163.48 406.28,164.56 406.98,166.14 407.15,167.85 406.96,168.96 407.06,170.18 407.49,170.89 407.48,172.86 407.41,173.96 407.93,175.03 407.82,176.3 408,177.38 408.91,179.17 408.94,180.69 409.5,181.25 409.49,182.56 410.63,184.12 411.82,184.71 412.67,186.21 413.64,186.58 414.85,187.31 415.29,188.37 416.25,189.54 417.33,190.54 418,191" stroke="#bdbdbd" stroke-width="1.4" fill="none" stroke-linejoin="round"/>
<polyline points="423.16,157.98 423.49,159.23 423.6,160.84 423.66,162.44 424.1,163.48 424.25,164.47 424.87,165.71 425.37,167.21 425.44,168.23 425.77,169.91 426.37,171.16 426.54,172.71 427.34,174.12 426.94,175.44 427.79,176.7 428.21,178.02 428.68,179.35 429.03,180.85 429.11,182.59 429.08,183.37 429.25,184.27 429.63,185.65 430.12,187.09 430.68,188.27 431,189" stroke="#bdbdbd" stroke-width="1.0" fill="none" stroke-linejoin="round"/>
<path d="M374.3 8.4C374.5 13.7 375 28.1 375.3 40C375.6 51.9 375.7 66.7 376.2 80C376.7 93.3 377.9 111.7 378.3 120C378.7 128.3 378.5 124.4 378.3 130C378.1 135.6 377.8 147.9 377.1 153.4C376.4 158.9 375.5 160.5 374.3 162.8C373.1 165.2 371.6 166.1 370 167.5C368.4 168.9 367.4 169.4 365 171C362.6 172.6 358.4 174.7 355.6 176.8C352.9 179 350.3 181.6 348.5 183.9C346.7 186.2 345.9 188.2 345 190.9C344.1 193.6 343.5 196.3 343 200C342.5 203.7 342.4 208.8 342.2 213C342 217.2 342 221.2 341.8 225C341.6 228.8 341.5 232 341.1 235.5C340.7 239 339.8 242.8 339.4 246C339 249.2 338.7 252.2 338.7 254.8C338.7 257.4 339.3 259.5 339.4 261.8C339.4 264.1 339.4 266.3 339 268.9C338.6 271.5 337.8 274.9 337.3 277.6C336.8 280.3 336.4 282.6 335.9 285C335.3 287.4 334.6 289.6 334 292C333.4 294.4 332.6 297.1 332 299.7C331.4 302.2 330.8 306 330.6 307.3" stroke="#000" stroke-width="2" fill="none"/>
<path d="M417.9 8.4C417.7 15.3 417.2 36.4 416.7 50C416.1 63.6 415 80 414.6 90C414.2 100 414.1 104.2 414.2 110C414.3 115.8 414.8 119.4 415.3 125C415.8 130.6 416.3 138.2 417 143.7C417.7 149.2 418.3 154.3 419.3 157.8C420.3 161.3 420.7 162.7 422.8 164.8C424.9 167 429.1 168.8 432.2 170.7C435.3 172.6 439 174.4 441.5 176.5C444 178.6 445.9 180.8 447.4 183.5C448.9 186.2 449.5 189.3 450.4 192.9C451.3 196.5 452 200.5 452.8 205C453.6 209.5 454.6 215.5 455.1 220C455.6 224.5 455.6 227.8 455.6 232C455.6 236.2 455.2 240.7 455 245C454.8 249.3 454.4 254.2 454.4 258C454.4 261.8 454.9 264.8 454.8 268C454.7 271.2 454.3 274.7 454 277C453.7 279.3 453.4 279.7 452.8 282C452.2 284.3 451.2 288.2 450.4 291C449.6 293.8 448.8 296.3 448 299C447.2 301.7 446.2 305.9 445.8 307.3" stroke="#000" stroke-width="2" fill="none"/>
<text x="60.5" y="17" font-family="'Liberation Sans', sans-serif" font-size="8.9">(a) Temperature profiles</text>
<text x="82.2" y="26.8" font-family="'Liberation Sans', sans-serif" font-size="8.9" letter-spacing="-0.05">Flight 11 (2.6.2017)</text>
<text x="82.2" y="36.8" font-family="'Liberation Sans', sans-serif" font-size="8.9" letter-spacing="-0.08">Flight 12 (4.6.2017)</text>
<text x="82.2" y="46.6" font-family="'Liberation Sans', sans-serif" font-size="8.9" letter-spacing="-0.08">Flight 13 (5.6.2017)</text>
<text x="82.2" y="57" font-family="'Liberation Sans', sans-serif" font-size="8.9">T<tspan font-size="5.6" dy="2.2">srf</tspan><tspan dy="-2.2" dx="-0.7" letter-spacing="-0.1">=272 K, RH=94%</tspan></text>
<text x="82.2" y="68" font-family="'Liberation Sans', sans-serif" font-size="8.9" letter-spacing="-0.13">Cooler by 2 K</text>
<text x="82.2" y="78" font-family="'Liberation Sans', sans-serif" font-size="8.9" letter-spacing="-0.12">More moisture</text>
<rect x="69.3" y="23.1" width="1.6" height="1.6" fill="#bbb"/>
<rect x="69.3" y="33.2" width="1.6" height="1.6" fill="#d4500c"/>
<rect x="69.3" y="43.1" width="1.6" height="1.6" fill="#4678fa"/>
<path d="M61.8 53.8H77.6" stroke="#000" stroke-width="2"/>
<path d="M61.8 64.8H77.6" stroke="#ff18d0" stroke-width="1.4"/>
<path d="M61.8 74.9H77.6" stroke="#33d633" stroke-width="1.4"/>
<text x="303.4" y="16.8" font-family="'Liberation Sans', sans-serif" font-size="8.9" letter-spacing="-0.05">(b) Wind profiles</text>
<text x="324.7" y="26.6" font-family="'Liberation Sans', sans-serif" font-size="8.9">Flight 11</text>
<text x="324.7" y="36.6" font-family="'Liberation Sans', sans-serif" font-size="8.9" letter-spacing="-0.12">Average</text>
<rect x="312.8" y="23.4" width="1.6" height="1.6" fill="#bbb"/>
<path d="M305.4 33.6H320.6" stroke="#000" stroke-width="2"/>
</svg>
</body></html>
